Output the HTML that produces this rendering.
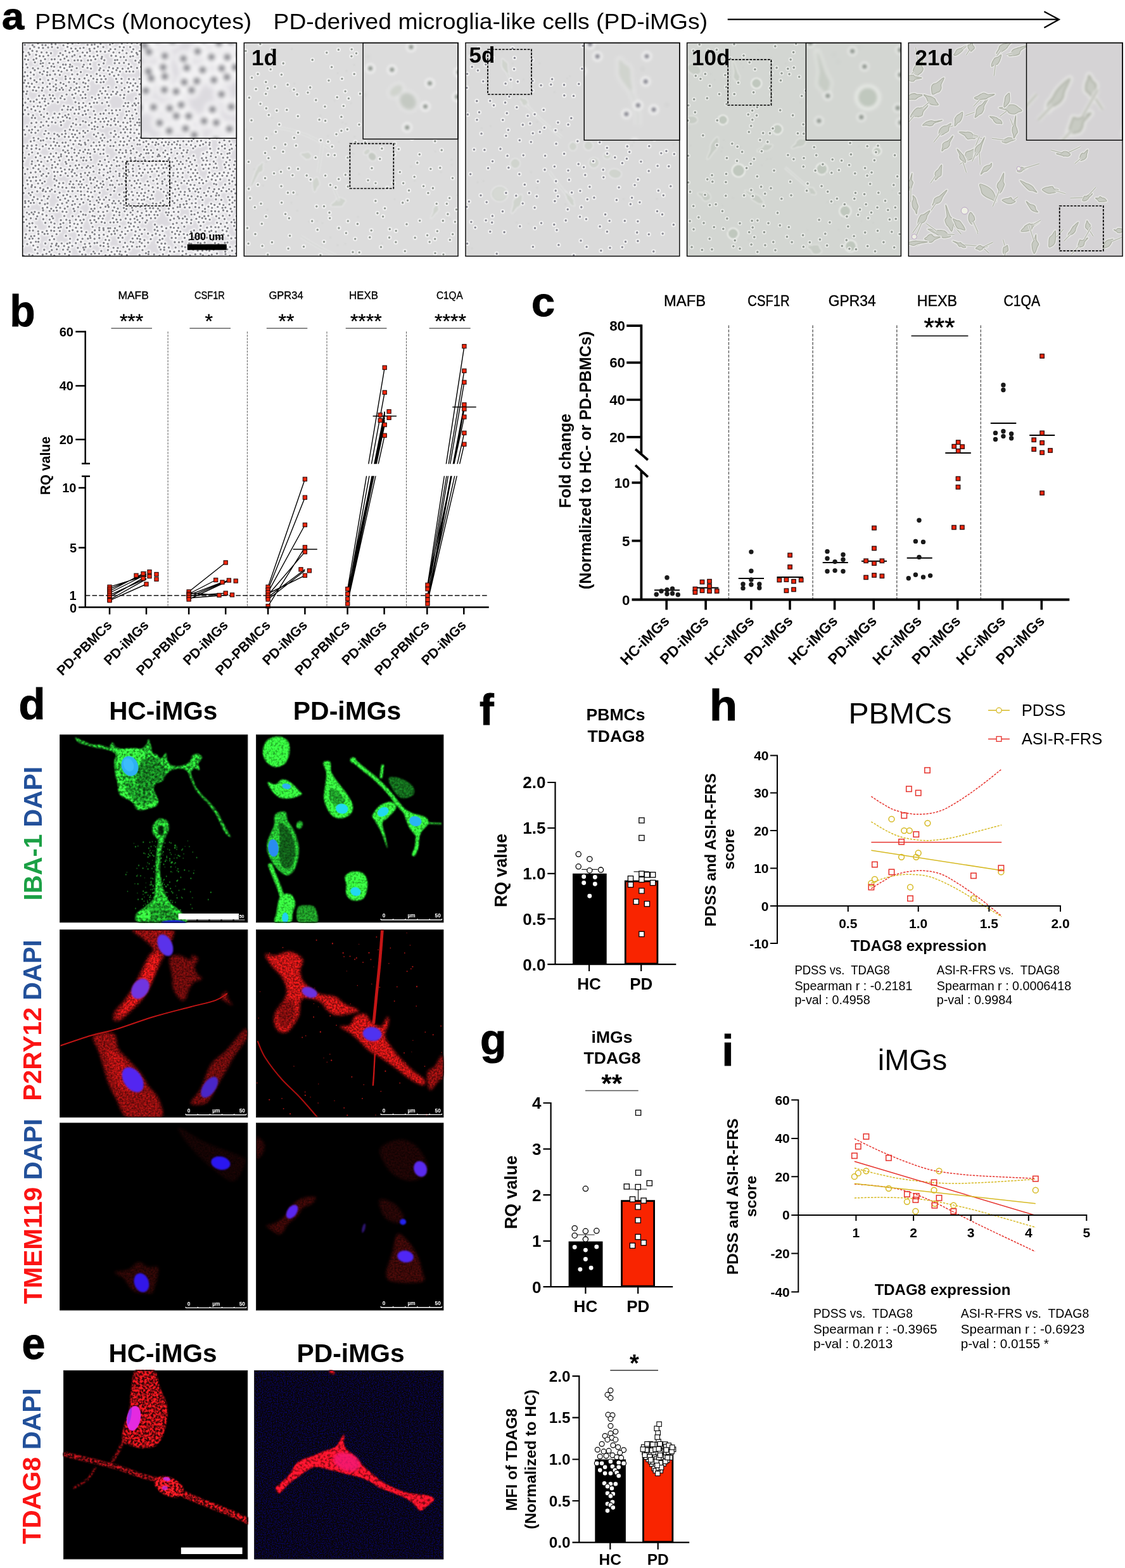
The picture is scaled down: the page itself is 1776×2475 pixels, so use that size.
<!DOCTYPE html>
<html lang="en"><head><meta charset="utf-8"><title>Figure</title>
<style>
html,body{margin:0;padding:0;background:#fff}
body{width:1776px;height:2475px;overflow:hidden}
svg{display:block;font-family:"Liberation Sans",sans-serif}
</style></head><body>
<svg width="1776" height="2475" viewBox="0 0 1776 2475">
<g id="pa"><defs><filter id="bl1" x="-5%" y="-5%" width="110%" height="110%"><feGaussianBlur stdDeviation="0.55"/></filter><filter id="bl2" x="-5%" y="-5%" width="110%" height="110%"><feGaussianBlur stdDeviation="0.8"/></filter><filter id="bl3" x="-5%" y="-5%" width="110%" height="110%"><feGaussianBlur stdDeviation="1.1"/></filter><filter id="bl4" x="-5%" y="-5%" width="110%" height="110%"><feGaussianBlur stdDeviation="0.7"/></filter><clipPath id="cpP"><rect x="0" y="0" width="337.8" height="336.8"/></clipPath></defs><defs><g id="mc0"><rect x="0" y="0" width="337.8" height="336.8" fill="#dcdadf"/><defs><path id="dp1" d="M3.6 3.1h0M15.8 3.6h0M24.3 0.9h0M31.3 3.4h0M36.4 3.6h0M45.9 2.2h0M52.1 2.1h0M64.5 4h0M71.5 0.9h0M78.7 1.3h0M88.1 0.2h0M102.6 3.1h0M109.3 3.1h0M113.8 2.5h0M123.2 1.7h0M138 2.8h0M142.2 0.6h0M156.8 1.1h0M165.4 -0.1h0M172.4 0.7h0M180.8 0.3h0M186.2 3.2h0M199.7 3.6h0M207.2 1.6h0M215.8 2.1h0M221.7 2.8h0M227.4 1.8h0M236.8 0.7h0M245.1 1.3h0M250.7 2.8h0M258.9 1h0M264.1 2.1h0M272.3 0.2h0M279.8 0h0M286.8 1.6h0M292.1 3h0M299.2 0h0M309.1 2.7h0M316.2 0h0M320.2 1.6h0M337.4 2.9h0M11.8 9.3h0M18.4 6.4h0M25.7 7.8h0M32.3 8.2h0M40.4 7.4h0M46.5 6.7h0M55.5 7.6h0M70.9 6.4h0M76.8 8.8h0M83.8 9.3h0M90.9 8.5h0M96.4 7.8h0M105.6 9.7h0M113.4 8.8h0M119 6.2h0M127.5 6.6h0M138.8 10h0M146.2 10h0M153.5 6.5h0M159.9 7h0M169.9 6.7h0M174.9 10.2h0M191.8 8.4h0M197.8 6.7h0M205.8 6.1h0M212.6 9.3h0M217 7.2h0M227.7 7h0M233.5 8.8h0M240.5 9.7h0M245.3 6.2h0M255.8 7.6h0M261.9 7.8h0M267.2 7.3h0M274 9.1h0M289.8 8.7h0M297.2 8.2h0M301.7 10h0M311.7 6.9h0M316 7.7h0M331.1 6.4h0M1 14.5h0M9.4 15.5h0M15.5 12.7h0M22.5 13.4h0M30 15.1h0M38.1 15.3h0M44.9 16.4h0M59.5 16.3h0M67.7 12.9h0M73.9 15.3h0M79.1 13.5h0M86.7 12.6h0M94.9 15.3h0M101.9 15.4h0M106.5 12.9h0M117.3 13.8h0M123.2 13.5h0M130.2 14.1h0M136.4 12.8h0M143.5 15.1h0M152.8 15.5h0M158 12.2h0M164.2 16.3h0M172.4 14.3h0M179.9 15.9h0M184.9 13h0M194.6 15.1h0M202 12.7h0M208.6 12.2h0M215.4 14.9h0M224 16.3h0M228.4 12.3h0M236 14.9h0M251.3 15h0M256.1 13h0M266.2 16.1h0M273.6 16h0M277.8 16.3h0M284.5 12.3h0M293.4 12.3h0M307.4 14.3h0M315.4 15.3h0M322.8 13.7h0M327.9 13.1h0M335 12.5h0M5.4 20.7h0M11.1 18.4h0M21.4 18.9h0M27.1 20.9h0M32.9 21.3h0M40.5 20h0M57 21h0M63.6 19.1h0M69.8 21.7h0M78.5 21.4h0M82.1 19.4h0M90.8 21.7h0M98.4 20.1h0M106.2 21.2h0M112.3 21.7h0M118.2 19.9h0M125.4 22.1h0M140.2 20.4h0M147.4 20.8h0M154.7 22.5h0M160 22.3h0M170.2 21.7h0M174.4 21h0M181.4 18.4h0M191.9 19.4h0M196.4 21.9h0M204.8 19.3h0M209.5 21.1h0M216.7 20h0M224.9 20.3h0M233.3 20.5h0M239.5 19h0M246.4 22.3h0M252 19.8h0M269.6 19.9h0M273.6 19.2h0M282 19.7h0M290.2 19.4h0M294.7 18.9h0M309.5 20.1h0M318.3 20.1h0M324.6 19.5h0M330.8 21.3h0M3.7 26h0M8.9 26.8h0M17.5 26.7h0M21.8 24.7h0M28.9 28.4h0M35.5 25.8h0M46 26.2h0M50.7 25.9h0M60 26.5h0M66.2 24.9h0M72.2 27.8h0M82.1 27.8h0M87.3 27.4h0M92.6 28.1h0M103.3 27.6h0M108.2 27.4h0M115 25.8h0M124.6 24.9h0M129.2 27.4h0M146 27.3h0M149.6 27h0M163.3 27.3h0M178.2 28.2h0M185.9 27.9h0M195.5 28.2h0M199.7 26.9h0M209.4 27.6h0M223 28.5h0M227.7 26.7h0M236.8 25.8h0M241.9 25h0M249.8 26.3h0M265.3 26h0M271.5 26.4h0M279.1 25h0M299.5 27.8h0M307.6 27.7h0M313.4 26.5h0M323.1 28.1h0M329.3 24.6h0M336.6 25.5h0M5.9 33.9h0M19.5 30.8h0M28.5 32.8h0M32.2 32h0M42.3 32h0M48.5 33h0M56.1 31.2h0M64 34.3h0M68.2 34.4h0M75.1 34.4h0M96.7 34.5h0M106.7 33.7h0M120.5 34.5h0M128 32.4h0M145.5 32.1h0M152.6 32h0M160.1 31.7h0M167.7 33.6h0M183.9 31.2h0M189.3 34.5h0M195.5 34h0M203.8 34.8h0M209.8 33h0M219.3 34.2h0M227.5 34.4h0M230.9 31.5h0M240.7 34.2h0M247.6 33.2h0M253.6 33.4h0M269.2 33.5h0M274.6 32.6h0M281.2 32.2h0M288.6 34.6h0M296.3 33.7h0M301.7 31.1h0M311.1 31h0M317 31.1h0M324.8 33.1h0M330.3 32h0M-0.1 39h0M7.8 39h0M16.4 40.1h0M24.5 40.5h0M31.7 37h0M39.6 39.8h0M45.6 37.2h0M50 37.8h0M59.6 38.4h0M65.9 40h0M74.4 38h0M78.4 37.3h0M85.5 40h0M95.1 37.8h0M102.5 39.5h0M108 40.6h0M122.6 40.2h0M136.6 38.7h0M142.9 40.4h0M150.1 39.8h0M157.9 40.9h0M166.7 40.4h0M171.5 37.9h0M180.8 39.7h0M187.2 37.9h0M192.7 40.1h0M200.9 38.1h0M207.2 39.3h0M213.6 40.4h0M228.1 39.2h0M237.5 38.7h0M242.8 39.8h0M248.5 39.6h0M257.5 37.5h0M263.4 40.3h0M270.9 38.1h0M278.6 40.9h0M287.8 37.1h0M294.8 40.2h0M301.7 40.9h0M313.7 40.5h0M320.8 37.1h0M327.7 37.3h0M335.5 40.3h0M4 46.4h0M12.8 46.7h0M19.3 43.2h0M27.4 46.9h0M33.6 44.8h0M39.1 46.4h0M48.7 44.3h0M56.7 43.8h0M61.4 45.5h0M70.2 43.3h0M77.2 43.2h0M92 46.2h0M121.2 43.2h0M128.2 43.5h0M135 44h0M141.4 46.3h0M148.2 43.2h0M153.8 45.3h0M163.8 45.3h0M168.9 45.3h0M174.7 45.3h0M188.8 44.1h0M203.3 44.2h0M213.4 43.8h0M216.6 46.8h0M227 43.6h0M233.5 45.2h0M238.6 46.7h0M247.4 45.4h0M252 43.6h0M259.4 45.4h0M269 44.6h0M274.4 43.5h0M283.8 43.8h0M291.1 46.1h0M297.9 44.7h0M319.8 46.8h0M323.2 45.4h0M330.1 44.3h0M2.5 53h0M7.8 52.1h0M17.8 50.3h0M31.4 49.5h0M38.8 51.2h0M43.4 50.6h0M51.3 49.7h0M58.8 50.6h0M67.8 53.1h0M78.3 49.8h0M86.6 49.7h0M101.7 50.8h0M108 52.4h0M117.1 49.2h0M122.4 51.8h0M128.9 52.5h0M137.5 49.6h0M144.5 52.2h0M151.4 50.7h0M194.5 53.1h0M200.6 51.4h0M208.1 50.6h0M217 52.3h0M227.7 49.9h0M237.4 50h0M245.2 50.9h0M252.1 53.2h0M259 53.2h0M270.5 50h0M278.7 50.4h0M295.2 50.4h0M299.2 52.4h0M306 49.5h0M315.8 52.6h0M326.7 49.3h0M335.2 49.8h0M3.9 59.1h0M12.7 56.1h0M18.7 59.2h0M27.8 57.6h0M40.5 58.9h0M47.4 56.9h0M53.2 59.2h0M68.1 57.1h0M75.2 56.4h0M81.6 56.8h0M89.6 57.1h0M97.9 56.1h0M104.2 59.4h0M111.8 56.5h0M117.7 57.8h0M124.4 57.3h0M131.3 57.1h0M147.8 56.9h0M156.2 56.8h0M167.9 57.1h0M175.4 57.6h0M184.6 57h0M191.3 58.2h0M197 56.3h0M203.1 55.5h0M209.7 56.5h0M217.8 59.1h0M239.8 55.3h0M245.2 56.4h0M274.7 56.2h0M283.6 57.7h0M289.5 58.9h0M294.9 58h0M303.1 55.8h0M309.3 55.6h0M318.7 58.8h0M325.9 58.7h0M2.2 63.1h0M9 63.6h0M14.7 64.6h0M22.1 61.9h0M32 63.2h0M43 64.6h0M52.5 65.6h0M60.1 63.2h0M64.7 65h0M73.3 62.2h0M81.4 61.8h0M85.4 64.4h0M95.8 62.7h0M99.5 64.2h0M117 62h0M123.4 62.5h0M128 61.9h0M149.5 61.9h0M156.4 63.7h0M165.4 62.7h0M170.4 63.8h0M178.2 63.8h0M186.5 64.8h0M193.6 65.2h0M202 61.7h0M209.1 65h0M214.6 62.8h0M236.6 64.9h0M244.1 63.7h0M250.5 62.8h0M256.8 65.2h0M278 62.9h0M287.9 65h0M293.2 63.4h0M301.8 64.4h0M307.7 64.9h0M322.8 63.3h0M327.6 65.5h0M6.3 68.7h0M11.1 69.4h0M18.6 69.8h0M25.5 70.5h0M32 71.1h0M39.1 69.4h0M48.8 68.9h0M53.3 71.3h0M61.9 71h0M68.7 67.9h0M76.2 71.2h0M85 71.1h0M89.7 70.1h0M97.8 69.8h0M103.4 68.7h0M127.1 71.2h0M135.3 70h0M147.9 70.3h0M161 71.3h0M168 69.9h0M174.5 67.7h0M181.5 69.1h0M191 67.8h0M197.5 69h0M203.4 70.6h0M209.4 71h0M218.1 69.3h0M224 70.7h0M234 71.6h0M239 70.3h0M245.8 70.7h0M254.4 70.8h0M262.6 68.9h0M268.5 70.1h0M276.7 70.7h0M284.1 69.2h0M291.6 68.9h0M298.1 70.4h0M305 70.4h0M319.8 69.8h0M324.8 68.8h0M1.6 76.9h0M7.3 76.5h0M16.5 74.8h0M21.5 75.7h0M30.6 75.4h0M43.7 74.1h0M52.3 75.2h0M58.6 73.9h0M63.9 74.1h0M74.2 74.9h0M81.7 74h0M88.7 76.1h0M95.5 77.5h0M103.2 74h0M122.6 76.3h0M130.8 76.1h0M142.7 77h0M149.5 77.7h0M156.8 74.5h0M167.1 77.1h0M173.2 75.1h0M180.5 74.9h0M188.4 77h0M216 74.9h0M223.9 76.1h0M227.8 75.6h0M237.3 75.9h0M245.4 75.7h0M251.9 75.2h0M265.8 76.5h0M269.9 75.8h0M278.1 74.1h0M285.4 77.8h0M292.6 76.4h0M298.7 74.1h0M308.5 74.2h0M319.6 73.9h0M329.8 74.7h0M334.3 76.3h0M6.1 80.6h0M26.1 83.7h0M33.5 83.1h0M42.8 82.4h0M48 83.1h0M62.2 83.8h0M69.5 81.5h0M78.5 81.9h0M83.7 80h0M91.7 82.5h0M99.1 81.7h0M119.8 82.2h0M125.3 80h0M133.7 81.3h0M140 81.8h0M147.7 80.7h0M154.4 82.5h0M160.6 82.2h0M184.6 81.3h0M190.1 82h0M195.8 82.8h0M206.2 81.9h0M211.5 84h0M217.7 83.1h0M225.9 83.6h0M230.9 79.9h0M241.7 80.8h0M246.6 81.9h0M255.7 82.3h0M262.9 81.7h0M268.2 82.6h0M281.9 80.1h0M298.4 84h0M305.7 83.6h0M308.8 82.7h0M319.6 81h0M325.4 82.7h0M331.8 80.1h0M-0.1 88.4h0M8.9 88.4h0M22.3 89.6h0M31.2 87.9h0M35.8 88.5h0M44.5 87.7h0M50.7 88h0M60 87.3h0M66.4 89h0M81.3 87.1h0M94.6 87.2h0M99.4 87h0M109.6 86.1h0M114.9 88.5h0M121 87h0M130.5 86.7h0M136.3 86.6h0M159.8 87.1h0M179.1 87.9h0M187.6 86.3h0M193.1 87.3h0M202.7 87.2h0M207.6 87.4h0M215.1 86.5h0M222.7 89.1h0M227.8 89.1h0M237.9 89h0M242.5 88.9h0M249.6 87.6h0M255.6 87.1h0M272.8 87.9h0M286.9 86.6h0M294.3 86.2h0M299.5 89.7h0M306.9 90.2h0M316.3 86.3h0M321.3 88.9h0M328.5 89.6h0M337.4 86.4h0M4.4 94.4h0M12.5 92.4h0M17.7 92.6h0M27.1 94.1h0M35 92.5h0M40.7 95.8h0M47.5 92.3h0M55.7 93.6h0M83.5 93.7h0M88.9 95.3h0M96 95h0M106 95.8h0M112.7 94.6h0M117.6 94.4h0M125.6 95.2h0M133.4 93.7h0M162.4 95.1h0M167 94.8h0M176.7 95.7h0M182.9 95.1h0M188.4 93h0M196.2 94.9h0M206.1 95h0M213.2 95.7h0M218.2 94.9h0M227.3 93h0M252.7 92.3h0M261.7 94.8h0M267.3 93.3h0M273.5 94.6h0M283.5 92.6h0M288.7 96h0M297.8 93h0M304.4 93.8h0M311 95.7h0M325 92.6h0M334.1 93h0M0.7 98.7h0M7.8 102h0M17.8 100.5h0M24 100h0M28.6 100.6h0M36.3 99h0M65.2 99.7h0M72 100.8h0M79.2 102.2h0M89.3 101.2h0M94.6 102h0M99.5 99.6h0M108.2 101.2h0M136.2 99.3h0M159.6 99.8h0M166.1 100.4h0M173.6 99.2h0M178.8 98.5h0M198.9 98.3h0M224 100.9h0M228.6 100h0M244 102h0M252.1 101.5h0M255.8 99.6h0M265 99h0M271 99.9h0M279.8 99.3h0M287.7 99.7h0M291.2 100.4h0M301.1 100.2h0M307.5 102h0M328 101h0M334.3 100.3h0M3.8 106.2h0M13.9 104.7h0M20.2 106.8h0M27.2 108.5h0M34 104.7h0M62.5 105.6h0M71.2 105.4h0M76.1 105.6h0M84.5 105.5h0M89.6 104.7h0M98.2 107.7h0M103.5 106.1h0M112.6 107.6h0M131.4 106.4h0M141 106.5h0M147.8 106.4h0M153.7 106h0M163.7 108.5h0M168.2 108h0M177.9 105.5h0M190.8 105.4h0M205.1 108.3h0M220.6 108h0M234.6 105.3h0M238.8 106.4h0M248.6 107.9h0M253 105h0M260.2 105.7h0M266.4 106.8h0M274.3 107.1h0M284.1 106.5h0M303.3 105.2h0M310.1 104.5h0M326.5 106.5h0M331.3 105h0M1.2 112.7h0M9.2 112.7h0M16.5 114.4h0M29.3 113.6h0M39 111.7h0M50.5 111.7h0M58.3 112.2h0M67.4 114.7h0M72.5 113.1h0M82.1 111.7h0M88.4 111.7h0M95.1 113.9h0M99.9 112.6h0M114.8 113.3h0M123 112.2h0M128 111.6h0M136.6 111.2h0M141.9 111.3h0M149.7 114h0M164.6 114.1h0M173 114.5h0M179.9 111.7h0M195.3 114.4h0M202.4 112.7h0M207.8 114.7h0M213.7 113.2h0M230 111.7h0M236.8 113.8h0M245.2 113.3h0M251 110.7h0M257.7 112.3h0M264.3 114h0M272.2 113.2h0M292.3 111.5h0M301 112.4h0M308 111.3h0M313.1 113.4h0M329.5 111.3h0M334 113.1h0M14.7 118.4h0M19.8 118.7h0M33.7 116.9h0M41.3 119.7h0M48 118.2h0M56.1 117.8h0M63.2 117h0M70 117.9h0M74.6 119.1h0M84.6 120.6h0M106.3 117.5h0M114.1 118.8h0M119.9 120.3h0M126.9 119.8h0M132 118.9h0M140 120.6h0M145.8 119.4h0M161.7 118.7h0M169.7 119.7h0M174.3 119.7h0M184 120.7h0M191.2 119.9h0M197.3 118.7h0M203.2 118.1h0M212.9 120.2h0M218.1 120h0M225.4 120.7h0M231 118.3h0M238.4 119.4h0M247.8 120.5h0M261.7 119.8h0M266.4 120h0M273.6 120.8h0M284.3 117.6h0M291.3 119.8h0M304.5 118.5h0M310.5 120.1h0M319.8 120.7h0M330.6 119h0M14.1 126.7h0M21.7 125.8h0M29.4 125.3h0M37.9 124.3h0M46.4 125.2h0M52 126h0M60.3 124.9h0M64.7 123.2h0M79.7 127h0M95.4 123.6h0M99.6 125.2h0M109.1 126.4h0M114.9 124.6h0M123.1 124.5h0M129 124.4h0M135.4 123.9h0M144.7 123.4h0M150.9 124.6h0M159 125.8h0M165.5 126.3h0M170.3 124.2h0M181 125.8h0M184.6 126h0M192.4 124.8h0M199.8 126.5h0M209.9 123.5h0M214.4 124.5h0M223.8 123.4h0M227.2 126.2h0M235.6 123.7h0M243.1 125.4h0M251.5 126h0M259.4 126h0M265.9 124.5h0M270.6 126.8h0M280.2 123.1h0M285.1 124.1h0M294.5 125.8h0M307 125.5h0M313.9 126.6h0M335.3 124.1h0M7 132h0M19.7 132.9h0M28.5 132.8h0M32.7 130.5h0M40.7 130.7h0M60.9 129.9h0M76.9 132.2h0M84.4 129.2h0M91.1 129.3h0M104.9 129.9h0M113.5 131.9h0M118.4 132.9h0M126.8 132.7h0M133.9 129.2h0M139.3 130.1h0M146.8 129.1h0M154.4 131.4h0M163 132.9h0M170.7 130.6h0M177.5 129.7h0M184.4 130.3h0M190.3 129.8h0M196.8 130.7h0M205.2 132.4h0M211 130.5h0M218.7 131h0M227.4 130.5h0M231.5 131.4h0M240.6 130.9h0M246.3 130.2h0M255.8 132h0M263 130.2h0M268.2 130.7h0M273.6 132.9h0M282.8 130.6h0M289.7 130.6h0M303.2 132.5h0M309.6 130.4h0M316.5 132.1h0M331.4 129.8h0M2.3 137.5h0M10.4 138.2h0M15.1 137h0M24.5 138.3h0M36.5 139h0M67.2 138.9h0M74.6 137h0M80.1 137.7h0M86.1 138.7h0M95.9 139.1h0M103 139h0M109.7 136h0M114.2 136.5h0M145.5 139.1h0M159.4 136.4h0M165.3 136.5h0M170.9 136.7h0M180.4 137.2h0M188.3 137.6h0M195.2 137.6h0M201.4 138.2h0M206.3 137.6h0M216.1 139.2h0M223.6 135.9h0M227.3 136h0M237.5 137.3h0M242.8 135.8h0M249.2 138.4h0M257.8 137.5h0M265.5 138.7h0M271.6 137.3h0M277.5 135.5h0M285.8 135.9h0M291.1 137h0M308.4 136.9h0M312.4 135.8h0M321.9 138h0M335.3 135.8h0M4.2 144.8h0M13.9 141.6h0M20.4 142.2h0M34.4 144h0M41.2 142.8h0M50.2 143.5h0M55.2 145.1h0M62.3 144.3h0M68 143.4h0M78.1 144h0M82.9 144.8h0M90 142.7h0M98.8 142h0M112.7 144.9h0M119.3 142.5h0M126.4 145.1h0M139.4 142.3h0M147.1 144.7h0M155.2 141.7h0M161.8 141.4h0M170.2 141.7h0M176.5 142.3h0M183.8 143.7h0M191.4 143.6h0M196.6 143.2h0M203.5 144.5h0M212.1 143.8h0M217.2 145.3h0M225 141.3h0M240.4 145.4h0M246.1 143h0M252.7 144.9h0M260.8 143h0M269.1 143h0M274.6 142.6h0M282.8 145.3h0M287.7 141.9h0M310.7 142.4h0M319.7 143.8h0M332.4 141.5h0M17.5 150h0M24.9 151.3h0M38.3 150.6h0M44.2 151h0M50 151.4h0M57.6 147.6h0M66.7 148.4h0M73 148.4h0M79.8 148.6h0M86.2 149.8h0M95.9 148.2h0M116.4 147.8h0M123.4 150.4h0M129.3 150h0M144.3 148.4h0M151.7 148.5h0M158.9 150.2h0M166 147.7h0M170.7 150.4h0M180.4 150.1h0M186.6 149.3h0M195 148h0M201.8 151.1h0M209 148.5h0M213.3 151.6h0M221.1 151h0M227.8 148.7h0M236.5 149.5h0M241.8 149.8h0M248.4 148.2h0M257.6 148.6h0M269.9 151.5h0M278.8 149h0M285.4 148.9h0M295.1 151.2h0M302 150h0M306.6 150.3h0M315.6 148.9h0M322.6 149.9h0M334.3 148h0M12.9 155.6h0M18.3 154.3h0M28.8 154.4h0M32.7 153.9h0M49.4 156.4h0M54.6 157.8h0M63.2 157.6h0M68.1 157.4h0M75.5 153.8h0M83.3 154.7h0M90.6 154.5h0M98.4 157.6h0M103.6 153.9h0M112.3 157.3h0M120.9 156.8h0M125.7 154.3h0M134.5 156.2h0M138.9 153.7h0M146.5 157.2h0M154.6 155.6h0M160.5 156.1h0M168.4 154.6h0M176 153.7h0M184.5 154.1h0M190.9 156.8h0M195.3 155.3h0M205.2 156.8h0M210.9 157.1h0M220 157.1h0M226 156.6h0M231.3 157h0M239.5 156.8h0M245.1 155.3h0M253.8 155.3h0M262.3 155.6h0M267 154.9h0M275.8 155.4h0M281.9 154.6h0M289.4 157.2h0M295.5 157.7h0M310.9 157.3h0M318.4 153.8h0M326.5 155.4h0M1.7 163.1h0M7.8 162.4h0M14.5 162.4h0M21.7 161.5h0M31.9 163.3h0M36.9 160.8h0M44.7 162.1h0M52 162.2h0M57.7 162.9h0M66.4 163.6h0M72.2 162.2h0M80.2 160.2h0M89.1 159.8h0M92.3 161.2h0M99.3 160.4h0M108.4 162.6h0M116.5 162.5h0M121.9 161.8h0M129 161.9h0M138.7 162.9h0M143.6 162.9h0M152.9 161.3h0M159.2 161.9h0M165 160.4h0M172.6 162.8h0M181.5 160.4h0M185.3 160.5h0M195.4 163.8h0M198.9 159.9h0M209.8 161.2h0M214.5 159.9h0M223.1 162.2h0M230 160.5h0M235.9 160.3h0M243.6 160.4h0M248.7 161.3h0M258.7 160.5h0M266 161.3h0M272.7 163.4h0M280.2 161.9h0M285.1 160.2h0M294.9 161.1h0M314.9 163.1h0M319.4 161.2h0M329 160.5h0M337.3 162.1h0M6.7 166.3h0M14.1 167.6h0M21.5 166.6h0M26.8 168h0M41.8 167h0M47.9 167h0M64.1 169.6h0M71.4 170h0M77.5 166.3h0M82 168.5h0M90.6 169.8h0M98.7 168.6h0M104.2 168.9h0M112.9 168h0M119.5 168.3h0M127.7 168.6h0M147.7 169.3h0M154.3 168.8h0M163.2 169.6h0M170.6 170.1h0M175 167.3h0M191.8 168.6h0M196.8 168.8h0M202.9 169.6h0M212.7 168.6h0M225.4 170h0M234.7 168.3h0M240.7 166h0M248.6 166.1h0M254.2 169.5h0M260.5 169.5h0M269.3 166.5h0M296.2 167.2h0M309.4 167.2h0M319.4 166.8h0M326.8 168.9h0M330.4 167.2h0M0.2 173.4h0M10.1 176.1h0M15.1 173h0M24.2 174.4h0M44.5 175.2h0M53 174.2h0M60.8 176h0M67.4 172.7h0M72.9 174h0M81.9 173.5h0M88.6 174.2h0M96 172.1h0M102.7 174.2h0M106.8 174.9h0M114 172.1h0M122.9 175.3h0M127.8 175h0M152.4 173.2h0M157.9 174h0M163.5 173h0M171.3 174.4h0M180.1 172.9h0M186.9 176h0M195.3 174.3h0M198.8 174.1h0M206.1 173.8h0M214.9 176.3h0M222.2 173.4h0M228.9 175.8h0M234.9 173.3h0M244.2 174.6h0M251.3 174.1h0M259.4 173.2h0M285.2 175h0M291.3 172.6h0M298.2 174.1h0M308.1 173.3h0M313.8 175.5h0M323.5 175h0M326.8 174.1h0M3.5 181.6h0M20.9 180.7h0M28.2 178.3h0M35.1 180.6h0M41.9 180.4h0M48.9 179.3h0M56.9 180.9h0M60.7 179.2h0M69.8 179.1h0M77.5 180.2h0M85.6 178.3h0M92.4 181.3h0M96.8 181h0M106.8 180.5h0M134.3 178.8h0M148.3 180.9h0M154.7 181.6h0M161.4 179.7h0M170.3 181.7h0M177.6 181.4h0M184.8 178.5h0M191.2 181h0M205 180h0M213.3 179.3h0M216.5 178.6h0M224.9 179.8h0M231.7 181.9h0M241.3 182.2h0M253.3 179.4h0M262.2 182.1h0M270 178.4h0M283.2 182.1h0M289.9 181.4h0M297.3 179h0M305 180.5h0M316.6 181.3h0M323.5 181.2h0M0.9 187h0M15 187.1h0M24 186.1h0M29.5 187.9h0M39.5 186.6h0M45.3 184.5h0M50.8 188h0M58.5 185.7h0M68 188h0M73 184.9h0M78.8 184.7h0M85.4 185.9h0M95.7 185.7h0M100.6 185.7h0M108.2 184.7h0M122.3 186.9h0M130 184.6h0M136 188h0M144.3 185h0M149.6 187.2h0M158 187.5h0M164.9 188.1h0M171.2 185.2h0M178.3 185.8h0M193.2 185.2h0M200.5 187h0M206.2 186h0M216.5 186.1h0M223.1 186.9h0M230.4 184.6h0M236.4 188h0M244 186.3h0M249.6 187.9h0M258.8 186.1h0M264.7 188.2h0M272.1 185.2h0M285.3 185.5h0M291.2 186h0M301.8 187.4h0M321.6 188.4h0M327.2 185h0M335.6 187h0M14.5 191.3h0M20.4 194h0M26.1 192.7h0M33.2 194.4h0M46.8 193h0M55.6 191.6h0M69.2 190.8h0M75.3 194.3h0M83.8 193.7h0M89.2 192.7h0M103.2 194.3h0M111.3 194.5h0M120 191.8h0M125.1 192.9h0M132.7 194.4h0M140.4 193.1h0M148.6 194.4h0M152.7 193.8h0M167 191.3h0M174.6 193.2h0M183.5 194.5h0M190.3 191h0M196.9 193.7h0M204.5 193.8h0M210.7 192.4h0M219.6 192.5h0M225.3 191.8h0M230.7 194.4h0M238.8 194.2h0M246.9 191.5h0M252.8 191.3h0M262.7 194.5h0M267.4 191.9h0M274.7 193.9h0M283.6 192.6h0M289.3 192.4h0M295.6 191.8h0M304.9 190.7h0M318.7 192.2h0M325.8 193.3h0M334.1 192.7h0M0.8 197.3h0M7.8 199.4h0M17 197.7h0M25.2 199.4h0M38.1 198.7h0M46.4 197.4h0M52.2 196.7h0M60.3 197.8h0M66.7 200h0M73.7 199.8h0M79 200.4h0M86.2 198.2h0M93.8 197h0M100.9 196.9h0M107.1 197h0M121.6 200.3h0M128.5 199.9h0M138.2 198.2h0M158.7 198.3h0M166.7 200.5h0M173.8 198.6h0M185.1 198.9h0M192.7 199.9h0M201.8 199.1h0M208.2 198.6h0M214.8 197.7h0M222.3 197.6h0M227.3 197.5h0M234.4 196.8h0M243.8 199.4h0M250.1 199.1h0M256.6 196.9h0M265.8 199.6h0M272.8 200.7h0M285.6 198.9h0M293.8 198.4h0M302.1 197h0M306.5 197.4h0M320.2 196.9h0M327.3 199.2h0M335.6 199h0M3.9 206.9h0M13 204.9h0M20.5 204.2h0M27.8 203.2h0M32.6 207h0M40.9 205.9h0M49.9 203.7h0M55.3 203.9h0M61.8 203h0M67.9 205.9h0M77.5 203.6h0M82.3 205.8h0M92 206.9h0M98.7 205.4h0M105.2 204.9h0M112.2 203.3h0M121.1 205.4h0M134.5 204.9h0M138.5 203.2h0M147.3 203h0M153 206.7h0M160.6 206.2h0M168.1 203.9h0M174.6 203h0M183.9 205.7h0M189.9 205.2h0M198.1 204.7h0M204.3 203.3h0M212.2 202.9h0M220.6 206.4h0M223.9 204.4h0M231.7 204.9h0M238.3 205.5h0M245.5 205h0M253.1 205.4h0M261.5 204.4h0M269.3 205.6h0M276 205.5h0M294.8 204.9h0M303.5 206.6h0M310.9 205.9h0M318 204.6h0M324.6 205.4h0M332.5 203h0M10.8 212.6h0M16.5 212.1h0M21.3 211.8h0M30 209.6h0M37.8 210.7h0M50.9 210.4h0M60.1 209h0M71.5 210h0M78.5 210.7h0M85.4 209.3h0M92.5 211.6h0M102.8 209.1h0M107 213.1h0M114.5 212.9h0M127.8 209.1h0M137 212.9h0M143.2 211h0M152.9 210.1h0M159 210.5h0M165.5 209.8h0M174.4 209.4h0M180 210.2h0M187.4 209.6h0M201.7 211.5h0M215 209.7h0M229.8 209.7h0M237.7 209.5h0M244.9 211.2h0M252.3 212.2h0M265.6 211.6h0M272.7 210.3h0M279.4 213h0M292.9 211.7h0M300 209.7h0M307.5 210.7h0M315.4 209.7h0M322.7 210.2h0M330.3 209h0M334.3 213.1h0M7.2 217.2h0M13.1 218.2h0M21.3 217.6h0M27.7 216.9h0M35 219h0M50.2 215.2h0M53.6 217.4h0M75.8 218.9h0M85.3 217.8h0M91 218.9h0M96.2 216h0M106.9 215.8h0M111.9 216.1h0M117.8 218.5h0M126.7 218.7h0M133 215.2h0M140.2 217.7h0M149.3 217.5h0M162.1 217.9h0M169.2 217.7h0M176.9 218.2h0M182.4 216.6h0M197.4 218.8h0M206.4 217.5h0M211.9 215.2h0M220.6 218.7h0M224.4 215.4h0M231.6 218.7h0M241.4 219h0M255.2 217.9h0M262.3 217.7h0M267.9 216.3h0M274.2 215.9h0M283.1 216.3h0M290.1 218.1h0M298.6 215.7h0M305 216.8h0M312.1 215.4h0M326.1 216.7h0M331.3 218.6h0M0.4 225.2h0M8.3 223.1h0M14.8 224.6h0M24.5 222h0M31.1 221.7h0M51 225.1h0M58 221.7h0M64.2 221.3h0M74.2 222.9h0M80.1 223.3h0M88.8 223.4h0M93.4 223.4h0M101.2 225h0M108.3 221.6h0M117.1 225.3h0M123.2 222.2h0M127.8 223.8h0M138.3 224.4h0M142.2 224.4h0M152.4 223.6h0M156.8 222.8h0M172.1 225.2h0M180.1 221.9h0M186 222h0M193.4 224.3h0M199.2 225.1h0M213 222.3h0M220.7 222.4h0M227.5 225.2h0M235.3 221.3h0M244.7 224.8h0M250.7 221.3h0M259.7 222h0M265.3 224.1h0M271.4 224.5h0M279 221.3h0M285 221.6h0M302.3 222.5h0M305.8 223.5h0M319.8 223.6h0M326.6 222.1h0M336.3 224.1h0M4.5 229.5h0M14.1 227.4h0M19.9 227.8h0M27.9 229.2h0M32.9 231.4h0M39.8 229.1h0M46.1 231.5h0M56.5 227.4h0M63 228.2h0M69.1 228.9h0M78.1 228.2h0M81.6 228.6h0M91.5 228.2h0M97 228.4h0M103.9 230h0M113.8 228.2h0M120.2 228.9h0M125.4 227.8h0M134.4 231.5h0M145.7 228.4h0M176.7 229h0M184.5 227.9h0M188.7 231h0M205.5 228.1h0M213.5 228.9h0M218.5 231h0M234.5 228.9h0M241 231.1h0M246.4 230.1h0M262.5 230.7h0M269.5 229.8h0M275.7 231.1h0M280.6 230h0M294.6 229.1h0M302.7 231.2h0M310 230.8h0M316.6 228.7h0M326 231h0M333.6 231h0M1.6 237.2h0M9.9 237.5h0M15.2 235.8h0M23.2 234.4h0M31.8 233.6h0M36.6 234.8h0M43.3 234.2h0M51.2 234.9h0M58.5 236.7h0M72.3 234.3h0M78.8 234.2h0M87.2 233.8h0M92.2 234.7h0M102.7 234.8h0M108.2 236h0M114 234.3h0M121.7 236.7h0M144.6 233.9h0M160.1 236.2h0M164.9 234.1h0M172.5 235.3h0M180.9 236.8h0M187.3 237.4h0M193.3 236.6h0M199 233.6h0M206.9 235.1h0M222.9 235.2h0M229.2 236.7h0M237.2 237.3h0M249.5 235.1h0M256.2 235.3h0M263.9 233.9h0M272.7 234.5h0M277.7 235.8h0M286.7 236.8h0M292.7 234.6h0M301 235h0M306.7 237.3h0M314.1 233.8h0M321.8 234.2h0M329.8 234.4h0M336 237.7h0M12.7 240.4h0M18 243.4h0M33.7 242.2h0M41.4 242.5h0M56.1 243.9h0M64.3 240.9h0M70.2 239.9h0M75.4 242.8h0M83.9 242.1h0M92.5 240.1h0M97.8 240.2h0M104.3 242.3h0M110.4 243.2h0M120.1 243.8h0M131.7 243.9h0M139.1 239.9h0M152.9 239.7h0M160.8 243.2h0M167.8 239.7h0M174.5 240.7h0M183.8 241.5h0M191.5 241.7h0M197.3 243.8h0M204.1 240.4h0M226.8 241.3h0M231.5 239.7h0M240.9 242.1h0M247.1 239.9h0M255.6 239.8h0M261.2 241.4h0M266.8 242.3h0M276.5 242.4h0M281.6 243.5h0M290 241.1h0M297.6 242.1h0M305.5 241.2h0M310.1 240.7h0M324.5 243.3h0M331.3 243.7h0M4.1 249.9h0M9.7 249.9h0M16 248.2h0M23.7 246.7h0M30.4 248.5h0M39.5 246h0M59.4 247.8h0M67.2 245.9h0M72.2 249.1h0M79.5 249.8h0M86.5 246.8h0M93.1 246.7h0M103.3 247.5h0M106.5 250h0M117.2 248.9h0M122 247.3h0M128.5 247.6h0M137 248h0M144 249.6h0M152.1 249.7h0M159.1 249.4h0M165.8 246.9h0M173.7 247.8h0M181.4 247.2h0M188.2 248h0M192 247.4h0M201.8 246.6h0M206 246h0M221.6 249.4h0M228.3 245.9h0M236.9 249.7h0M244.5 248.4h0M251 246.3h0M258.5 249.8h0M263.4 247.2h0M273.4 246.5h0M284.1 248h0M305.3 247.1h0M313.8 247.9h0M326.9 248.2h0M335.1 249h0M4.4 252.8h0M13 252.8h0M17.9 252.5h0M27.3 253.2h0M35.4 254.6h0M39.5 253.4h0M55.5 255.6h0M62.5 253.7h0M69.6 252.3h0M78.3 255.9h0M82.6 254.5h0M90.5 254.9h0M96 252.2h0M106.6 255h0M113.3 255.8h0M119.9 252.2h0M125.6 253.9h0M134.6 256.2h0M141.7 253.3h0M146.5 253.5h0M154.8 253.3h0M160.2 255.8h0M167.7 254.9h0M183.5 253.5h0M189.8 254h0M195.5 255.6h0M205.8 253.3h0M211.1 254h0M217.7 252.6h0M223.6 255.7h0M231.7 252.8h0M239.6 252.9h0M248.7 255.6h0M254.3 255.1h0M259.2 254.2h0M267.3 253.3h0M273.4 253h0M283.9 256.1h0M297.7 254h0M303.1 255.9h0M311.2 254.4h0M317.1 256h0M326.5 255h0M331.4 252.4h0M3.2 259.2h0M9.4 258.5h0M31.8 260.8h0M39 259.8h0M45.2 261.9h0M53.1 260h0M59.4 260.4h0M66.7 261.7h0M71.2 258.5h0M80.5 261.9h0M87.6 259.3h0M108.5 262.1h0M113.7 261.6h0M123.1 260h0M131 258.7h0M135.9 259.1h0M144.7 259.7h0M150.4 261.7h0M159.8 260.7h0M163.9 262.3h0M172.9 260.4h0M179 258.3h0M185.9 258.6h0M193.9 261.7h0M201.2 260.9h0M206.2 261.2h0M213.8 261.7h0M230.8 261.9h0M237.7 261.1h0M244.7 259.3h0M248.6 259h0M256.2 259.8h0M263.6 259.9h0M272.8 259.1h0M278.7 260.1h0M288 262.1h0M293.4 258.7h0M299.1 260.5h0M308.1 259h0M315.5 260.5h0M320.3 260h0M328.5 261.9h0M334.7 259h0M6.9 268h0M14.3 267.8h0M19.3 266.8h0M25.6 268.3h0M32.4 264.4h0M42.7 265.5h0M49 265.1h0M54.2 264.8h0M63.2 266.4h0M69.3 267h0M82 265.7h0M92 266.5h0M106.3 266.9h0M111.3 265.3h0M119.7 266.6h0M127.3 267h0M133.6 265.5h0M142.4 264.9h0M148 266.4h0M153 267.6h0M161.2 266h0M170.5 267.8h0M174 264.5h0M181.7 266.3h0M188.2 268.5h0M195.5 265.7h0M202.9 266.6h0M210.7 266.4h0M216.6 264.6h0M226.5 267.7h0M230.7 267.9h0M238.9 266.8h0M246 266.9h0M266.3 265.6h0M276.8 268.1h0M284.2 265.9h0M288.3 266.9h0M298.2 265.6h0M304 265.9h0M309.7 266.3h0M316.9 264.4h0M323 265.7h0M330.4 266.4h0M1.7 274.4h0M10.4 270.5h0M17.2 270.6h0M23.2 273.8h0M31.4 270.7h0M37.8 272.6h0M46.5 273.9h0M65.9 273.3h0M79 273.6h0M88.6 273.9h0M95.7 271.2h0M99.6 271.6h0M110.4 273.1h0M113.7 273.8h0M122.5 273.4h0M128.5 272.6h0M144.4 272.2h0M152.9 272h0M165.5 271.7h0M173.6 271.5h0M180.1 274.3h0M185.9 273.2h0M195.5 272.2h0M199.8 271.7h0M208.2 271.5h0M213.2 271.9h0M229 271.8h0M235.2 272.5h0M245.3 274.3h0M256.5 274.1h0M266.6 271h0M271.4 270.8h0M279.3 274.6h0M287 273.6h0M293.3 273.2h0M299 270.6h0M305.8 273.6h0M316.2 273.2h0M326.8 272.3h0M337.8 273.5h0M5.9 279h0M13 276.9h0M21.4 277.9h0M32.7 278.4h0M42.8 279h0M48.2 277h0M60.5 279.9h0M69.1 279.3h0M74.5 280.5h0M84.2 279.1h0M91.2 280.2h0M96.5 279.2h0M106.9 280.2h0M113.4 279.6h0M120 277.2h0M126.6 277.5h0M142.5 276.8h0M148.2 278.9h0M154.8 279.3h0M162.8 277.4h0M170.2 278.4h0M176.7 277.5h0M181.4 279.5h0M189.4 276.9h0M196.4 280.2h0M202.6 276.9h0M209.4 276.6h0M233.3 279.6h0M239.1 277.4h0M247.2 277.2h0M252.8 277.4h0M259.5 278.4h0M266.5 279.4h0M274.3 277.8h0M283.6 276.7h0M289.1 277.7h0M295.5 279h0M310.3 276.8h0M318.9 278.1h0M333.7 279.3h0M1.9 283h0M10.7 285.3h0M15.5 284.6h0M36 284.1h0M45.1 283.4h0M50.5 285.3h0M59.8 286.1h0M64.4 284.3h0M74.9 284h0M81.6 285.5h0M87 286.3h0M93.6 284.4h0M108.6 284.5h0M116.2 282.9h0M124.8 282.9h0M129.8 284.2h0M138.6 283.5h0M143.9 283.4h0M149.8 283h0M167.2 283.8h0M171 285.4h0M177.5 283.3h0M184.8 283.1h0M194.2 283.7h0M208.9 286.9h0M237.6 285.9h0M243.4 284.3h0M251.5 284.5h0M259.2 283.3h0M265.9 284.7h0M278.1 283.1h0M285.7 283h0M307 284h0M313 285.7h0M322.5 284.2h0M329.8 283.1h0M335.1 283.6h0M7.1 289.2h0M11.5 291.4h0M20.5 290.6h0M41.9 290.2h0M50.2 291.3h0M56.7 292h0M60.4 290.9h0M69.9 292h0M74.9 289.4h0M84.3 291.8h0M92.5 292h0M110.6 290.5h0M121.2 292h0M127.6 292.7h0M135.2 292.6h0M138.4 292.5h0M145.9 292.7h0M153.4 289.8h0M162.3 291.8h0M168.6 290.2h0M175.7 289.6h0M182.4 291h0M212.2 290.7h0M219.7 290.3h0M226.8 292.7h0M233.8 291.2h0M238.9 292h0M245.8 292.1h0M255.3 290.1h0M281.2 288.9h0M291.3 291.6h0M297.6 290.4h0M304.5 291h0M309.5 291.2h0M319.6 290.2h0M324 292.7h0M334 289.1h0M11.1 296.4h0M16.5 296.3h0M24.6 297.5h0M31.3 298.8h0M38.3 296.9h0M45.2 296.4h0M49.9 297h0M58.8 297h0M73.9 297h0M79.1 295.6h0M86.7 297.6h0M93.2 297.7h0M100.6 298.8h0M110.1 299.2h0M114.1 295.9h0M121.2 295.7h0M128 295.5h0M136.5 297.6h0M144.3 297.2h0M149.4 296.1h0M156.8 298.3h0M166.1 297h0M172.1 295.5h0M178.5 297.6h0M185.3 295.2h0M192.6 295h0M208.6 295.2h0M213.2 296.6h0M221.1 297h0M236.1 298.6h0M244 296.8h0M249.1 298h0M266.1 298.2h0M270.7 296.2h0M280.4 295.1h0M288 296.8h0M294.8 298.1h0M298.1 296.6h0M305.2 298.1h0M315.7 295.9h0M322.2 297.4h0M336.7 295.2h0M5.5 302.2h0M13.5 305.4h0M18.6 304.8h0M25.1 301.6h0M34.7 301.7h0M39.7 301.5h0M46.7 305.1h0M53.7 302h0M68.5 304.6h0M88.9 303.5h0M98.8 303.3h0M106.4 304.8h0M113.7 302.1h0M120.9 303.5h0M128.2 302.9h0M134.1 305.3h0M140.4 302.1h0M145.8 301.4h0M154.4 303.7h0M162.2 301.8h0M177.6 303.7h0M183.8 304.8h0M188.3 301.6h0M198.1 301.2h0M204.8 303.7h0M210.4 301.4h0M216.5 303.3h0M224.1 304.6h0M240.9 301.6h0M247.1 302.7h0M254.5 301.8h0M260.2 303.2h0M267.4 305.2h0M276 304.9h0M280.5 302h0M296.2 304.1h0M304.6 304.3h0M310 304.3h0M317.1 302.7h0M324.6 304.3h0M4 307.6h0M10.9 309.4h0M15.8 309h0M25.4 309h0M42.8 311.1h0M49.8 309.9h0M75 309.3h0M87 310.6h0M94.6 309.3h0M103.2 309.2h0M107.2 308h0M113.6 309.4h0M121.3 308.2h0M131.1 311h0M136.7 311.5h0M151.3 307.9h0M157.9 307.7h0M173.7 308.9h0M181.1 308.9h0M185.7 309.9h0M192.4 311.4h0M202.4 309.8h0M216.6 311.2h0M220.9 309.3h0M235.5 307.9h0M241.8 308h0M255.9 307.9h0M263 310.9h0M270.8 307.7h0M279.5 308.5h0M284.2 308.1h0M291.1 307.7h0M299.9 311.4h0M307.9 308h0M313.3 308.4h0M329.5 308.6h0M336.1 308h0M7.4 317.6h0M13.2 315.2h0M21.1 314h0M25 314.1h0M36 316.6h0M46.3 317h0M53.8 316.8h0M61.7 316.5h0M70.6 317h0M74.5 315.7h0M84.1 316.1h0M92.2 314.2h0M98.4 317.5h0M105.6 316.7h0M113.6 316.1h0M117.7 315.6h0M128.2 315.8h0M134.6 317.3h0M153.7 314.3h0M161.8 315.7h0M170.7 314h0M174.6 315h0M184.8 314h0M188.2 316.1h0M198.2 315.4h0M213.3 314.9h0M219.4 316.9h0M225.1 316.9h0M240.3 314.7h0M246.9 314.8h0M252.2 313.9h0M263.1 316.5h0M266.3 317h0M276.9 315.5h0M281 316.4h0M287.5 315.3h0M303.8 316h0M309.3 317.5h0M319.4 315.7h0M323.5 315.2h0M0.1 321h0M17 320h0M24.1 322.5h0M44.9 321.3h0M52.8 319.7h0M56.7 321.1h0M65.6 320.6h0M72.7 322.6h0M78.5 320.5h0M87.3 323.6h0M95.9 323.2h0M99.5 322.4h0M107 321.4h0M123 320.2h0M127.9 321h0M135.5 321.7h0M143.6 323.5h0M150.4 323.8h0M159.2 322.3h0M165.4 321.4h0M172.8 321.2h0M180.5 322.2h0M184.8 321.5h0M192.9 321.2h0M215.9 322.4h0M223.6 322.8h0M230.9 323.2h0M241.6 323.1h0M251.7 321.4h0M256.7 322.5h0M271.5 321.7h0M279 321h0M285.9 321h0M294 322.5h0M302.3 320h0M306.6 323.7h0M314.3 323.7h0M321.2 322.3h0M327.5 322.3h0M336.6 321.1h0M19.7 326.6h0M34.2 326.6h0M42.5 329.8h0M46.2 327.2h0M54.1 326h0M64 326.5h0M71.3 326.3h0M74.6 329.8h0M90.4 329.6h0M97.2 326.6h0M112 329.5h0M124.3 328.6h0M134.8 327.2h0M140.5 330h0M149.2 328.6h0M154.1 329.3h0M162.5 329.7h0M168.5 326.2h0M189.4 327.2h0M199 329.8h0M218 326.3h0M223.6 326.8h0M232.8 329.1h0M239.4 329.8h0M246.9 328.7h0M252.7 328.9h0M262.7 326h0M269.4 326.4h0M276.5 328h0M283.9 327.9h0M290.4 327.1h0M295 328.1h0M301.7 326.4h0M320 329.7h0M323.2 325.9h0M330.8 328.2h0M1.6 336h0M10.5 334.5h0M15.7 335.6h0M23.7 332.3h0M31.8 334.4h0M37.7 333h0M45 334.2h0M50.1 335.8h0M58.2 333.4h0M67 333h0M73.4 335.2h0M94.1 334h0M99.5 334.4h0M108.5 333.5h0M114.2 332.5h0M120.8 333h0M131 335.4h0M137.7 335.4h0M145.4 333.8h0M153 333.5h0M156.5 334.7h0M164.8 335.1h0M184.7 334.9h0M194.8 332.1h0M198.8 333.7h0M207.6 334.2h0M216.3 336.1h0M221.7 333.9h0M230.9 335.3h0M252.3 335.3h0M258.2 333.1h0M264.4 335.7h0M272.7 333.9h0M280.9 333.4h0M284.7 335.3h0M294.2 335.9h0M298.7 334.3h0M306.9 332.6h0M320.4 333.5h0M327.3 336.1h0M336.8 332.6h0" stroke-linecap="round" fill="none"/></defs><use href="#dp1" stroke="#ffffff" stroke-width="7.4" opacity="0.8" filter="url(#bl3)"/><use href="#dp1" stroke="#84848a" stroke-width="3.4" opacity="1" filter="url(#bl4)"/></g><clipPath id="ci0"><rect x="222.9" y="67.6" width="150.5" height="150.7"/></clipPath><clipPath id="cm0"><rect x="35.6" y="67.6" width="337.8" height="336.8"/></clipPath></defs><g clip-path="url(#cm0)"><use href="#mc0" x="35.6" y="67.6"/></g><g clip-path="url(#ci0)"><g transform="translate(-316 -549.2) scale(3.300)" filter="url(#bl2)"><use href="#mc0"/></g></g><rect x="222.9" y="67.6" width="150.5" height="150.7" fill="none" stroke="#000" stroke-width="1.4"/><rect x="35.6" y="67.6" width="337.8" height="336.8" fill="none" stroke="#000" stroke-width="1.4"/><rect x="199" y="254.5" width="69" height="70.5" fill="none" stroke="#000" stroke-width="1.7" stroke-dasharray="3.8 1.9"/><defs><g id="mc1"><rect x="0" y="0" width="337.8" height="336.8" fill="#dcdcdc"/><g filter="url(#bl3)"><path d="M11.5 226.1C10.9 225.8 17.5 207.6 19.1 203.3C20.7 199 20.5 201.7 21 200.4C21.6 199.1 21.9 196.7 22.6 195.6C23.4 194.4 24.4 194.5 25.6 193.5C26.7 192.5 28.8 189.4 29.3 189.6C29.9 189.8 28.8 193.1 28.7 194.9C28.6 196.6 29 198.8 28.8 200.2C28.5 201.5 28 202.2 27 203.1C26 203.9 25.3 201.3 22.7 205.2C20.2 209 12.1 226.5 11.5 226.1Z" fill="none" stroke="#e9e9e9" stroke-width="4" stroke-linejoin="round"/><path d="M11.5 226.1C10.9 225.8 17.5 207.6 19.1 203.3C20.7 199 20.5 201.7 21 200.4C21.6 199.1 21.9 196.7 22.6 195.6C23.4 194.4 24.4 194.5 25.6 193.5C26.7 192.5 28.8 189.4 29.3 189.6C29.9 189.8 28.8 193.1 28.7 194.9C28.6 196.6 29 198.8 28.8 200.2C28.5 201.5 28 202.2 27 203.1C26 203.9 25.3 201.3 22.7 205.2C20.2 209 12.1 226.5 11.5 226.1Z" fill="#d0d4ce" stroke="#c2c6c0" stroke-width=".8" stroke-linejoin="round"/><path d="M90.5 175.7C90.5 174.8 94.5 175.1 95.9 174.8C97.2 174.6 97.6 174.3 98.5 174.2C99.5 174 100.8 173.6 101.6 173.7C102.4 173.9 102.4 174.3 103.1 175.1C103.7 175.9 105.6 177.3 105.5 178.5C105.5 179.7 103.6 181.8 102.7 182.4C101.8 183.1 101 182.3 100.2 182.3C99.5 182.4 98.7 183.2 98 182.8C97.2 182.5 96.9 181.6 95.6 180.4C94.4 179.2 90.4 176.7 90.5 175.7Z" fill="none" stroke="#e9e9e9" stroke-width="4" stroke-linejoin="round"/><path d="M90.5 175.7C90.5 174.8 94.5 175.1 95.9 174.8C97.2 174.6 97.6 174.3 98.5 174.2C99.5 174 100.8 173.6 101.6 173.7C102.4 173.9 102.4 174.3 103.1 175.1C103.7 175.9 105.6 177.3 105.5 178.5C105.5 179.7 103.6 181.8 102.7 182.4C101.8 183.1 101 182.3 100.2 182.3C99.5 182.4 98.7 183.2 98 182.8C97.2 182.5 96.9 181.6 95.6 180.4C94.4 179.2 90.4 176.7 90.5 175.7Z" fill="#d0d4ce" stroke="#c2c6c0" stroke-width=".8" stroke-linejoin="round"/><path d="M53 134Q100 140 137 168" stroke="#ebebeb" stroke-width="3.9" fill="none"/><path d="M53 134Q100 140 137 168" stroke="#c9ccc9" stroke-width="1.4" fill="none"/><path d="M124 158L117 205" stroke="#ebebeb" stroke-width="3.9" fill="none"/><path d="M124 158L117 205" stroke="#c9ccc9" stroke-width="1.4" fill="none"/><path d="M111.4 234.4C110.6 234.3 110 229.6 109.6 227.5C109.3 225.4 109.3 223.4 109.2 222C109.2 220.6 108.9 220.2 109.3 219.1C109.6 218.1 110.3 216.7 111.3 215.7C112.2 214.7 113.8 212.7 114.7 213C115.6 213.3 116.2 215.9 116.8 217.2C117.3 218.6 117.6 220 117.8 221.1C118 222.3 118.5 223 118 224.2C117.4 225.4 115.6 226.5 114.5 228.2C113.4 229.9 112.3 234.5 111.4 234.4Z" fill="none" stroke="#e9e9e9" stroke-width="4" stroke-linejoin="round"/><path d="M111.4 234.4C110.6 234.3 110 229.6 109.6 227.5C109.3 225.4 109.3 223.4 109.2 222C109.2 220.6 108.9 220.2 109.3 219.1C109.6 218.1 110.3 216.7 111.3 215.7C112.2 214.7 113.8 212.7 114.7 213C115.6 213.3 116.2 215.9 116.8 217.2C117.3 218.6 117.6 220 117.8 221.1C118 222.3 118.5 223 118 224.2C117.4 225.4 115.6 226.5 114.5 228.2C113.4 229.9 112.3 234.5 111.4 234.4Z" fill="#d0d4ce" stroke="#c2c6c0" stroke-width=".8" stroke-linejoin="round"/><path d="M137.8 256.6C137.4 255.5 142.7 252.3 144.3 250.7C145.9 249 146.2 247.6 147.3 246.7C148.4 245.8 149.7 245.4 151 245.4C152.2 245.4 153.4 246 154.8 246.7C156.2 247.3 159.1 248.2 159.4 249.3C159.6 250.4 157 252.1 156.2 253.3C155.4 254.5 155.4 256.2 154.4 256.8C153.4 257.4 151.5 256.9 150.2 257C148.9 257 148.8 257 146.7 256.9C144.6 256.9 138.2 257.6 137.8 256.6Z" fill="none" stroke="#e9e9e9" stroke-width="4" stroke-linejoin="round"/><path d="M137.8 256.6C137.4 255.5 142.7 252.3 144.3 250.7C145.9 249 146.2 247.6 147.3 246.7C148.4 245.8 149.7 245.4 151 245.4C152.2 245.4 153.4 246 154.8 246.7C156.2 247.3 159.1 248.2 159.4 249.3C159.6 250.4 157 252.1 156.2 253.3C155.4 254.5 155.4 256.2 154.4 256.8C153.4 257.4 151.5 256.9 150.2 257C148.9 257 148.8 257 146.7 256.9C144.6 256.9 138.2 257.6 137.8 256.6Z" fill="#d0d4ce" stroke="#c2c6c0" stroke-width=".8" stroke-linejoin="round"/><path d="M150 250L141 228" stroke="#ebebeb" stroke-width="3.9" fill="none"/><path d="M150 250L141 228" stroke="#c9ccc9" stroke-width="1.4" fill="none"/><path d="M295.5 275.9C295.2 275.6 298.6 269.9 299.3 267.7C299.9 265.6 299.4 264.6 299.6 263.2C299.9 261.9 300.3 260.6 300.9 259.7C301.5 258.8 302.5 258.4 303.3 258C304.1 257.5 305.3 256.4 305.7 256.8C306 257.2 305.2 259.1 305.3 260.1C305.4 261.1 306.8 261.7 306.4 262.9C306.1 264.1 304.2 266.3 303.3 267.3C302.4 268.3 302.3 267.7 301 269.1C299.7 270.5 295.8 276.1 295.5 275.9Z" fill="none" stroke="#e9e9e9" stroke-width="4" stroke-linejoin="round"/><path d="M295.5 275.9C295.2 275.6 298.6 269.9 299.3 267.7C299.9 265.6 299.4 264.6 299.6 263.2C299.9 261.9 300.3 260.6 300.9 259.7C301.5 258.8 302.5 258.4 303.3 258C304.1 257.5 305.3 256.4 305.7 256.8C306 257.2 305.2 259.1 305.3 260.1C305.4 261.1 306.8 261.7 306.4 262.9C306.1 264.1 304.2 266.3 303.3 267.3C302.4 268.3 302.3 267.7 301 269.1C299.7 270.5 295.8 276.1 295.5 275.9Z" fill="#d0d4ce" stroke="#c2c6c0" stroke-width=".8" stroke-linejoin="round"/><path d="M196.8 179.5A5.5 4.6 50 1 0 207.8 179.5A5.5 4.6 50 1 0 196.8 179.5Z" fill="none" stroke="#e9e9e9" stroke-width="4" stroke-linejoin="round"/><path d="M196.8 179.5A5.5 4.6 50 1 0 207.8 179.5A5.5 4.6 50 1 0 196.8 179.5Z" fill="#c4c9c2" stroke="#c2c6c0" stroke-width=".8" stroke-linejoin="round"/><path d="M190.5 172A3.5 2 -40 1 0 197.5 172A3.5 2 -40 1 0 190.5 172Z" fill="none" stroke="#e9e9e9" stroke-width="4" stroke-linejoin="round"/><path d="M190.5 172A3.5 2 -40 1 0 197.5 172A3.5 2 -40 1 0 190.5 172Z" fill="#d0d4ce" stroke="#c2c6c0" stroke-width=".8" stroke-linejoin="round"/><path d="M90 306Q120 325 145 336" stroke="#ebebeb" stroke-width="3.9" fill="none"/><path d="M90 306Q120 325 145 336" stroke="#c9ccc9" stroke-width="1.4" fill="none"/><path d="M47.5 209.1h0M132.4 147h0M326.9 132.2h0M160.4 128.2h0M73.2 76h0M179.8 274.7h0M31.4 317.6h0M227.5 19h0M238.4 135.4h0M173.8 34.8h0M172.4 175.1h0M263.7 195.5h0M237.7 246.9h0M75.3 9.3h0M161.7 44.3h0M48.6 108.7h0M181.6 207.2h0M218 316.6h0M35.3 187.8h0M30.1 225.3h0M147.9 47.9h0M105.3 222.1h0M159.9 317.2h0M120.3 114.9h0M310.8 203.9h0M36.9 263.6h0M123 318.2h0M214.5 270.5h0M301.9 171.5h0M325.8 9.6h0M115.3 281.5h0M3.8 226.1h0M336.5 240.5h0M290.5 26.7h0M147.3 141.4h0M266.5 55.4h0M16.1 199.6h0M325.5 277.9h0M227 99.7h0M304.7 14.5h0M83.8 264.8h0M301.4 135.9h0M306.3 38.1h0M201.5 23.6h0M79.4 64.6h0M3.1 136.7h0M169 95.1h0M219.8 18.6h0M136.4 307.3h0M43.5 143.9h0M155.4 125.8h0M328 192.5h0M174.4 148.3h0M147.9 319.4h0M269.4 217.8h0M55.5 200h0M43.9 118.5h0M8.7 237.1h0M329.2 214.5h0M192.3 84.8h0M149.6 156.5h0M143 91.2h0M74.7 252.3h0M320.8 276h0M209.7 10.3h0M102.5 282.2h0M327.6 184.4h0M192 230.8h0M84 239.4h0M123.6 284.6h0" stroke="#c6c9c6" stroke-width="1.8" stroke-linecap="round" fill="none"/></g><defs><path id="dq1" d="M11.7 122.3h0M58.7 226.2h0M28.8 320.6h0M9.5 245.2h0M8.1 86.6h0M274.1 53.6h0M130.5 15.5h0M333.4 51.7h0M207.6 249.6h0M39 113.9h0M11.3 151.2h0M258.2 248.7h0M303.9 254h0M290.6 237.1h0M159.8 76.5h0M222.9 106.9h0M35.3 150.9h0M294.7 43.7h0M197.4 132.6h0M173.9 49.2h0M323.3 87.7h0M204.5 141.5h0M7.1 187.8h0M48.2 20h0M12.3 55h0M33.2 213.6h0M171.7 330.3h0M314.7 334h0M79.1 149.9h0M85.2 198.9h0M210.6 268.9h0M239.2 86.9h0M143 177.2h0M2.6 12.9h0M138.3 38.2h0M34.5 61.9h0M78.7 73.8h0M175.9 156.5h0M105 215.9h0M72.3 304.5h0M324.4 245h0M196.1 18.2h0M61.9 32.4h0M270.5 123.6h0M175.4 309.5h0M206 98h0M331.3 125.6h0M7.4 230.4h0M35 103.4h0M283.3 226.2h0M138.9 163.7h0M70.9 198.1h0M25.8 96.2h0M126.2 314.1h0M26.7 253.8h0M132.6 156.1h0M254.1 133.3h0M41.9 41.8h0M28 285.6h0M216.2 322.3h0M233.6 9.3h0M222.3 261.2h0M244 167.7h0M121.1 154h0M269.2 91h0M321.6 270.3h0M314 280.9h0M100.7 78.5h0M165.1 87.8h0M144.6 228.4h0M309.5 197.2h0M275.6 33.1h0M120.6 335h0M50.2 140.5h0M23.4 29.8h0M301.7 332h0M218.6 44h0M226.2 229h0M38.6 182.1h0M320 254h0M33.3 173.9h0M301.5 155.3h0M237.1 136.3h0M335.2 263.1h0M193.6 49.5h0M149.1 10.8h0M200.9 296.2h0M61.6 171.8h0M163 136.6h0M239.6 314.6h0M237.9 159.2h0M324 111.7h0M251.4 221.5h0M256.7 286.3h0M76.6 209h0M136.2 224.3h0M329.2 213.5h0M239.9 296.7h0M219.3 274.2h0M6.8 316.8h0M246 204h0M305 297.2h0M34.7 274.1h0M258.6 67.8h0M65.3 270.2h0M47.3 206h0M146.9 85.9h0M191.1 157.4h0M69.8 324.7h0M25.5 2h0M164 281.3h0M163.9 226.9h0M113.5 90.4h0M169.9 10.2h0M59.3 252.2h0M264.4 136.4h0M55.6 128.8h0M157 99.7h0M181.7 129h0M149.7 292.4h0M163.5 181.3h0M308.2 26.7h0M277.8 102.8h0M220.4 132.6h0M179.1 285.9h0M268.9 211.5h0M94.2 321.7h0M128.3 123.1h0M107.9 26.9h0M154.6 56.7h0M301.4 309.6h0M149.4 215.1h0M313.2 110.2h0M34.4 80.6h0M268 79.1h0M135.4 276.7h0M115.9 295.1h0M311.9 169.3h0M250.4 252.4h0M292.9 314.2h0M254 328.8h0M98.9 209.4h0M226.2 124h0M133.7 59.5h0M161.1 300.2h0M43.7 10.4h0M118.8 121.3h0M256.7 147.1h0M183.2 80.3h0M280.9 131.5h0M51.6 106.9h0M48.8 69.4h0M85.3 141.7h0M85 115.7h0M83.8 81.4h0M206 113.6h0M126.2 258.1h0M21.7 49.2h0M286.7 144.9h0M262.5 45.5h0M114.5 258.2h0M206 133.1h0M160.1 208.4h0M107.4 281.4h0M201.7 197.9h0M181.9 330.8h0M333.1 282.5h0M153.6 138.9h0M177.2 16.5h0M37.4 334.2h0M44.1 314.8h0M229.3 307.4h0M268.9 4h0M59.1 50.2h0M225.9 31.8h0M17.7 301.9h0M82.1 162.2h0M169.6 21.2h0M277 176.1h0M230 294.1h0M48 165.8h0M37.3 71.9h0M18.8 73.1h0M128.3 209.5h0M289.3 303.7h0M308.9 55.6h0M211.6 71.4h0M127.7 100.6h0M145.7 144.2h0M134.7 268.1h0M273.5 189.3h0M77.9 236.4h0M235.7 221.4h0M68.8 66.1h0M195.7 217h0M17 259.5h0M277.4 280.7h0M214.5 183.2h0M329.4 302.1h0M71.1 276.9h0M306.7 72.8h0M112.9 181.1h0M132.8 176.9h0M260.3 233.1h0M265 150.9h0M153.6 116.8h0M65.1 160.4h0M193.5 104.6h0M58.2 203.6h0M289.8 75.4h0M207.7 221.5h0M298.1 229.4h0M104.4 70.4h0M5.2 292.4h0M67.5 105.8h0M244.2 115.8h0M280.9 7.1h0M198.5 307.1h0M217.6 166.9h0M269.9 307.6h0M325 311h0M69.1 236.6h0M294.6 199h0M236.8 176.4h0M21.8 223.9h0" stroke-linecap="round" fill="none"/></defs><use href="#dq1" stroke="#efefef" stroke-width="7.4" opacity="1" filter="url(#bl4)"/><use href="#dq1" stroke="#8d948d" stroke-width="3.3" opacity="1" filter="url(#bl4)"/></g><clipPath id="ci1"><rect x="573.1" y="67.6" width="150" height="151.9"/></clipPath><clipPath id="cm1"><rect x="385.3" y="67.6" width="337.8" height="336.8"/></clipPath></defs><g clip-path="url(#cm1)"><use href="#mc1" x="385.3" y="67.6"/></g><g clip-path="url(#ci1)"><g transform="translate(188.9 -244.1) scale(2.250)" filter="url(#bl2)"><use href="#mc1"/></g></g><rect x="573.1" y="67.6" width="150" height="151.9" fill="none" stroke="#000" stroke-width="1.4"/><rect x="385.3" y="67.6" width="337.8" height="336.8" fill="none" stroke="#000" stroke-width="1.4"/><rect x="552.4" y="226.7" width="68.9" height="70.8" fill="none" stroke="#000" stroke-width="1.7" stroke-dasharray="3.8 1.9"/><defs><g id="mc2"><rect x="0" y="0" width="337.8" height="336.8" fill="#dadada"/><g filter="url(#bl3)"><path d="M58.3 26.2C58.8 26 60.3 28.5 61.4 29.5C62.6 30.5 64.4 30.6 65.1 32.2C65.8 33.7 65.5 36.9 65.6 38.6C65.8 40.3 65.8 40.6 66 42.2C66.2 43.8 67.5 48 67 48.3C66.5 48.6 64.2 45.5 63 44.1C61.8 42.6 60.5 40.9 59.7 39.6C58.9 38.2 58.5 37.4 58.2 36C58 34.5 58.3 32.5 58.3 30.9C58.3 29.2 57.7 26.4 58.3 26.2Z" fill="none" stroke="#e9e9e9" stroke-width="4" stroke-linejoin="round"/><path d="M58.3 26.2C58.8 26 60.3 28.5 61.4 29.5C62.6 30.5 64.4 30.6 65.1 32.2C65.8 33.7 65.5 36.9 65.6 38.6C65.8 40.3 65.8 40.6 66 42.2C66.2 43.8 67.5 48 67 48.3C66.5 48.6 64.2 45.5 63 44.1C61.8 42.6 60.5 40.9 59.7 39.6C58.9 38.2 58.5 37.4 58.2 36C58 34.5 58.3 32.5 58.3 30.9C58.3 29.2 57.7 26.4 58.3 26.2Z" fill="#d0d4ce" stroke="#c2c6c0" stroke-width=".8" stroke-linejoin="round"/><path d="M66 48Q72 60 71 72" stroke="#ebebeb" stroke-width="3.9" fill="none"/><path d="M66 48Q72 60 71 72" stroke="#c9ccc9" stroke-width="1.4" fill="none"/><path d="M86.7 86.5C87.3 86.2 89.8 88.8 90.8 89.2C91.9 89.6 92.1 88.5 93 88.9C94 89.4 95.9 90.8 96.6 91.9C97.3 93.1 97 94.5 97.2 95.8C97.5 97 98.7 99.1 98.1 99.5C97.5 99.9 95 98.7 93.8 98.4C92.6 98.1 91.6 98.5 90.9 97.7C90.2 96.9 90.2 94.8 89.6 93.6C89 92.5 87.8 91.9 87.3 90.8C86.8 89.6 86.1 86.7 86.7 86.5Z" fill="none" stroke="#e9e9e9" stroke-width="4" stroke-linejoin="round"/><path d="M86.7 86.5C87.3 86.2 89.8 88.8 90.8 89.2C91.9 89.6 92.1 88.5 93 88.9C94 89.4 95.9 90.8 96.6 91.9C97.3 93.1 97 94.5 97.2 95.8C97.5 97 98.7 99.1 98.1 99.5C97.5 99.9 95 98.7 93.8 98.4C92.6 98.1 91.6 98.5 90.9 97.7C90.2 96.9 90.2 94.8 89.6 93.6C89 92.5 87.8 91.9 87.3 90.8C86.8 89.6 86.1 86.7 86.7 86.5Z" fill="#d0d4ce" stroke="#c2c6c0" stroke-width=".8" stroke-linejoin="round"/><path d="M95 97Q120 125 152 149" stroke="#ebebeb" stroke-width="3.9" fill="none"/><path d="M95 97Q120 125 152 149" stroke="#c9ccc9" stroke-width="1.4" fill="none"/><path d="M71.9 190.5A6.5 6.5 0 1 0 84.9 190.5A6.5 6.5 0 1 0 71.9 190.5Z" fill="none" stroke="#e9e9e9" stroke-width="4" stroke-linejoin="round"/><path d="M71.9 190.5A6.5 6.5 0 1 0 84.9 190.5A6.5 6.5 0 1 0 71.9 190.5Z" fill="#d0d4ce" stroke="#c2c6c0" stroke-width=".8" stroke-linejoin="round"/><path d="M164.4 163.5A5 5.5 0 1 0 174.4 163.5A5 5.5 0 1 0 164.4 163.5Z" fill="none" stroke="#e9e9e9" stroke-width="4" stroke-linejoin="round"/><path d="M164.4 163.5A5 5.5 0 1 0 174.4 163.5A5 5.5 0 1 0 164.4 163.5Z" fill="#d0d4ce" stroke="#c2c6c0" stroke-width=".8" stroke-linejoin="round"/><path d="M188 162.3A6 6 0 1 0 200 162.3A6 6 0 1 0 188 162.3Z" fill="none" stroke="#e9e9e9" stroke-width="4" stroke-linejoin="round"/><path d="M188 162.3A6 6 0 1 0 200 162.3A6 6 0 1 0 188 162.3Z" fill="#d0d4ce" stroke="#c2c6c0" stroke-width=".8" stroke-linejoin="round"/><path d="M195.6 189.3A7 7 0 1 0 209.6 189.3A7 7 0 1 0 195.6 189.3Z" fill="none" stroke="#e9e9e9" stroke-width="4" stroke-linejoin="round"/><path d="M195.6 189.3A7 7 0 1 0 209.6 189.3A7 7 0 1 0 195.6 189.3Z" fill="#d0d4ce" stroke="#c2c6c0" stroke-width=".8" stroke-linejoin="round"/><path d="M226.8 206.5A9 6 10 1 0 244.8 206.5A9 6 10 1 0 226.8 206.5Z" fill="none" stroke="#e9e9e9" stroke-width="4" stroke-linejoin="round"/><path d="M226.8 206.5A9 6 10 1 0 244.8 206.5A9 6 10 1 0 226.8 206.5Z" fill="#d0d4ce" stroke="#c2c6c0" stroke-width=".8" stroke-linejoin="round"/><path d="M218.5 178.2A5 4 0 1 0 228.5 178.2A5 4 0 1 0 218.5 178.2Z" fill="none" stroke="#e9e9e9" stroke-width="4" stroke-linejoin="round"/><path d="M218.5 178.2A5 4 0 1 0 228.5 178.2A5 4 0 1 0 218.5 178.2Z" fill="#d0d4ce" stroke="#c2c6c0" stroke-width=".8" stroke-linejoin="round"/><path d="M41.8 238.5A12 11 0 1 0 65.8 238.5A12 11 0 1 0 41.8 238.5Z" fill="none" stroke="#e9e9e9" stroke-width="4" stroke-linejoin="round"/><path d="M41.8 238.5A12 11 0 1 0 65.8 238.5A12 11 0 1 0 41.8 238.5Z" fill="#d6d9d4" stroke="#c2c6c0" stroke-width=".8" stroke-linejoin="round"/><path d="M73.4 267.9C72.6 267.5 75.5 259.5 76 256.7C76.4 254 75.7 253.2 76.1 251.5C76.4 249.9 77 248.1 78.2 246.8C79.3 245.6 81.1 245.2 82.7 244.1C84.3 243 87 240 87.9 240.5C88.8 241 88.2 245.2 88.1 246.9C88 248.5 87.7 248.8 87.2 250.5C86.6 252.1 85.8 255.4 84.7 256.9C83.6 258.4 82.4 257.5 80.5 259.4C78.6 261.2 74.1 268.4 73.4 267.9Z" fill="none" stroke="#e9e9e9" stroke-width="4" stroke-linejoin="round"/><path d="M73.4 267.9C72.6 267.5 75.5 259.5 76 256.7C76.4 254 75.7 253.2 76.1 251.5C76.4 249.9 77 248.1 78.2 246.8C79.3 245.6 81.1 245.2 82.7 244.1C84.3 243 87 240 87.9 240.5C88.8 241 88.2 245.2 88.1 246.9C88 248.5 87.7 248.8 87.2 250.5C86.6 252.1 85.8 255.4 84.7 256.9C83.6 258.4 82.4 257.5 80.5 259.4C78.6 261.2 74.1 268.4 73.4 267.9Z" fill="#d0d4ce" stroke="#c2c6c0" stroke-width=".8" stroke-linejoin="round"/><path d="M156.7 234.6C157.1 234.4 161.5 239.9 163 241.3C164.6 242.7 164.6 241.6 165.7 242.8C166.8 244 169.1 246.9 169.7 248.5C170.4 250.1 169.2 251.1 169.4 252.4C169.7 253.6 171.7 255.8 171.2 256.1C170.7 256.5 167.8 255.5 166.6 254.6C165.4 253.6 165.1 251.9 164.2 250.5C163.2 249.2 161.7 247.8 161 246.5C160.4 245.2 160.9 244.7 160.2 242.7C159.4 240.7 156.2 234.9 156.7 234.6Z" fill="none" stroke="#e9e9e9" stroke-width="4" stroke-linejoin="round"/><path d="M156.7 234.6C157.1 234.4 161.5 239.9 163 241.3C164.6 242.7 164.6 241.6 165.7 242.8C166.8 244 169.1 246.9 169.7 248.5C170.4 250.1 169.2 251.1 169.4 252.4C169.7 253.6 171.7 255.8 171.2 256.1C170.7 256.5 167.8 255.5 166.6 254.6C165.4 253.6 165.1 251.9 164.2 250.5C163.2 249.2 161.7 247.8 161 246.5C160.4 245.2 160.9 244.7 160.2 242.7C159.4 240.7 156.2 234.9 156.7 234.6Z" fill="#d0d4ce" stroke="#c2c6c0" stroke-width=".8" stroke-linejoin="round"/><path d="M158 238Q140 215 132 203" stroke="#ebebeb" stroke-width="3.9" fill="none"/><path d="M158 238Q140 215 132 203" stroke="#c9ccc9" stroke-width="1.4" fill="none"/><path d="M151.4 137.5h0M237.2 18.1h0M136.4 133.8h0M10 324.3h0M74.5 32.6h0M160.4 56.2h0M210 117h0M42.6 18.4h0M245.4 93.1h0M265.6 156.8h0M314.3 101.6h0M84.9 90h0M274.6 211.6h0M116.8 32.4h0M230.1 325.5h0M199.9 2.2h0M11.2 31.3h0M58.2 13.3h0M19.1 220.1h0M303.3 68.2h0M328 160.7h0M270.8 308.1h0M316.7 12.5h0M103.3 204.2h0M318.8 30.4h0M99.5 285.5h0M39.5 131.5h0M113.2 228.7h0M312.8 59.5h0M249.4 246.7h0M281.6 186.3h0M311.1 122.5h0M140.3 77.8h0M262.7 161.9h0M91.5 57.8h0M243 203.8h0M239.6 130.5h0M164.6 52.5h0M239.7 8.7h0M157.8 254.9h0M228.4 33.5h0M80.6 283.5h0M216.7 295.1h0M293.9 151.6h0M302.2 246.4h0M113.1 124.9h0M25.2 134.7h0M321.9 36.2h0M192 37.9h0M28.2 218.3h0" stroke="#c6c9c6" stroke-width="1.8" stroke-linecap="round" fill="none"/></g><defs><path id="dq2" d="M296.8 329.3h0M170.7 335.3h0M105 26.8h0M202.4 11.5h0M67.3 137.6h0M206 53.3h0M15.2 291.5h0M106.4 322h0M302.1 127.5h0M155.6 175.1h0M217.2 200.4h0M188.8 208.6h0M316.9 170.8h0M145.8 242.2h0M80.8 101.8h0M329.3 175.5h0M185.2 4.8h0M140.4 195.2h0M7.7 207.2h0M213.3 21.1h0M211.7 157.1h0M229.1 119h0M238.4 248.1h0M8.4 21.3h0M228 323.5h0M85.3 153.8h0M200 108.1h0M123.2 105.7h0M125 200.4h0M101.9 127.3h0M260.3 10h0M192.2 247.1h0M105.1 75.5h0M270.9 80.9h0M63.9 146.7h0M235.4 35.1h0M109.1 112.7h0M280.9 147.8h0M288.3 57.7h0M114.1 218.7h0M298.1 152h0M76.6 41.5h0M178.8 64.9h0M271.9 281.7h0M62.6 94.3h0M272.1 215.9h0M271.7 116.6h0M44.5 98.7h0M267.6 91.8h0M117.3 140.6h0M142 138.1h0M310.1 53.2h0M2.6 316.8h0M146.9 319.1h0M312.4 75.4h0M251.3 281.1h0M223.6 174.8h0M98.1 115.2h0M77.4 23.8h0M198.7 97.1h0M273.1 16.1h0M304.4 233.3h0M311.2 301.2h0M303.1 194.2h0M5.4 250.5h0M206.6 115.3h0M85.8 289.5h0M161.2 262.9h0M119.1 67.1h0M180.5 274.5h0M58.5 266.1h0M310.5 270.9h0M277.5 3.5h0M212.1 289.8h0M17.8 91.9h0M91.2 177.5h0M143 159.3h0M261.7 1.6h0M19.4 43.5h0M42.8 23.9h0M328.3 287.1h0M29.9 169.1h0M198 121.8h0M65.2 111.1h0M42.6 187h0M241.4 128.3h0M27.8 60.8h0M263.8 128.3h0M145.9 125.7h0M167.6 236.3h0M142.2 233.4h0M155.8 83.1h0M180.9 233.7h0M25 143.3h0M144 295.5h0M315.5 126.3h0M302.5 265.8h0M42.4 273.3h0M223.4 298.1h0M267.1 224.5h0M247.4 189.8h0M35.6 197.8h0M2.6 49h0M31.8 34.2h0M296.7 61h0M8.9 282.7h0M41.7 283.6h0M227.2 281h0M320.8 194.9h0M258.7 172.2h0M252.5 313.9h0M21.5 109.6h0M190.4 278.2h0M82.3 61.2h0M84.9 207.2h0M254 132.8h0M124.4 133.8h0M327.8 139.2h0M252 54.8h0M163.4 216.3h0M33.2 251.5h0M308.8 174.2h0M67.9 197.1h0M100.4 237.1h0M139.8 286.8h0M74.1 8.7h0M162 129.1h0M58.8 121.7h0M109.1 260.2h0M49.2 332.9h0M162 201.5h0M158.2 280.4h0M276.9 187.5h0M288.7 135h0M247.3 322.5h0M79.8 241.3h0M287.7 82.1h0M63.9 236.9h0M289.3 302.2h0M106.2 142.7h0M245.8 29.8h0M32.1 280.2h0M195.9 227.2h0M3.3 113.1h0M183.8 40.9h0M93.3 223.8h0M38.8 298h0M306.2 33.4h0M260.4 254.6h0M220.6 270.9h0M90.2 253.5h0M323.8 226.3h0M166.8 118.9h0M242.1 228.2h0M191.2 61.9h0M217.8 212.2h0M61.1 298.9h0M221.1 42.2h0M112.3 242.2h0M201.6 186.8h0M105.9 60.1h0M24 240.7h0M254.4 182.8h0M249.4 121.3h0M90.3 129.4h0M294 15.1h0M170.5 83.8h0M259.2 119.6h0M182.8 259.4h0M119.5 284.5h0M38.7 91.6h0M262.6 244.5h0M63.1 64.3h0M140.9 249.9h0M274.9 251.7h0M134.8 65.8h0M178.2 191.3h0M68.9 84.8h0M270.7 299.4h0M186.6 196.2h0M213.8 328.1h0M231.6 101.2h0M289.8 163.1h0M202.9 244.3h0M1.8 258.9h0M223.3 165.7h0M176.8 155.2h0M66 178.3h0M13.4 168.5h0M217.9 149.7h0M191.1 322.1h0M300.6 46.4h0M18 121.5h0M182 312.3h0M109.5 292.4h0M234.3 46h0M289.2 202.3h0M312.3 240.7h0M271.9 312.9h0M290.3 147.3h0M255.2 163.4h0M37.6 15.3h0M55 167.4h0M235.8 180.9h0M142.7 218.4h0M103.3 156.5h0M125.6 178.2h0M201.3 75.9h0M1.9 71h0M264 49h0M155.5 66.4h0M71.3 58.2h0M136.6 57.3h0M10.2 37.9h0M21.1 8.5h0" stroke-linecap="round" fill="none"/></defs><use href="#dq2" stroke="#efefef" stroke-width="7.4" opacity="1" filter="url(#bl4)"/><use href="#dq2" stroke="#85858f" stroke-width="3.3" opacity="1" filter="url(#bl4)"/></g><clipPath id="ci2"><rect x="922.2" y="67.6" width="150.6" height="153.7"/></clipPath><clipPath id="cm2"><rect x="735" y="67.6" width="337.8" height="336.8"/></clipPath></defs><g clip-path="url(#cm2)"><use href="#mc2" x="735" y="67.6"/></g><g clip-path="url(#ci2)"><g transform="translate(846.9 35.3) scale(2.250)" filter="url(#bl2)"><use href="#mc2"/></g></g><rect x="922.2" y="67.6" width="150.6" height="153.7" fill="none" stroke="#000" stroke-width="1.4"/><rect x="735" y="67.6" width="337.8" height="336.8" fill="none" stroke="#000" stroke-width="1.4"/><rect x="770" y="78" width="69" height="71" fill="none" stroke="#000" stroke-width="1.7" stroke-dasharray="3.8 1.9"/><defs><g id="mc3"><rect x="0" y="0" width="337.8" height="336.8" fill="#d3d6d2"/><g filter="url(#bl3)"><path d="M73.1 30.8C73.5 30.7 76.6 40.7 77.7 43.5C78.7 46.3 78.7 46.2 79.4 47.8C80.2 49.4 82 51.8 82.3 53.2C82.7 54.7 81.9 55.1 81.5 56.5C81.2 57.9 81 61.6 80.2 61.7C79.3 61.8 77.5 58.2 76.6 57.1C75.6 55.9 74.7 56.1 74.4 54.9C74.1 53.7 74.6 51.7 74.8 49.9C75 48.1 75.7 47.4 75.4 44.2C75.1 41.1 72.7 30.9 73.1 30.8Z" fill="none" stroke="#e5e7e3" stroke-width="4" stroke-linejoin="round"/><path d="M73.1 30.8C73.5 30.7 76.6 40.7 77.7 43.5C78.7 46.3 78.7 46.2 79.4 47.8C80.2 49.4 82 51.8 82.3 53.2C82.7 54.7 81.9 55.1 81.5 56.5C81.2 57.9 81 61.6 80.2 61.7C79.3 61.8 77.5 58.2 76.6 57.1C75.6 55.9 74.7 56.1 74.4 54.9C74.1 53.7 74.6 51.7 74.8 49.9C75 48.1 75.7 47.4 75.4 44.2C75.1 41.1 72.7 30.9 73.1 30.8Z" fill="#c8cdc6" stroke="#b9bfb7" stroke-width=".8" stroke-linejoin="round"/><path d="M32.6 182.8C32 182.5 36.7 173 37.6 169.7C38.5 166.4 37.7 164.7 38.1 162.9C38.5 161.1 38.9 160.3 39.7 158.9C40.6 157.4 41.9 155.7 43.2 154.2C44.6 152.7 46.9 149.4 47.8 150C48.7 150.6 48.6 155.7 48.6 157.7C48.5 159.6 47.9 160.1 47.3 161.7C46.8 163.3 46.5 165.6 45.5 167.3C44.5 168.9 43.7 168.8 41.5 171.4C39.4 174 33.3 183.1 32.6 182.8Z" fill="none" stroke="#e5e7e3" stroke-width="4" stroke-linejoin="round"/><path d="M32.6 182.8C32 182.5 36.7 173 37.6 169.7C38.5 166.4 37.7 164.7 38.1 162.9C38.5 161.1 38.9 160.3 39.7 158.9C40.6 157.4 41.9 155.7 43.2 154.2C44.6 152.7 46.9 149.4 47.8 150C48.7 150.6 48.6 155.7 48.6 157.7C48.5 159.6 47.9 160.1 47.3 161.7C46.8 163.3 46.5 165.6 45.5 167.3C44.5 168.9 43.7 168.8 41.5 171.4C39.4 174 33.3 183.1 32.6 182.8Z" fill="#c8cdc6" stroke="#b9bfb7" stroke-width=".8" stroke-linejoin="round"/><path d="M165.9 165.6C165.6 165 170.9 161.2 172.3 159.5C173.6 157.8 172.8 156.5 173.9 155.2C175.1 154 177.8 152.5 179.2 152.1C180.7 151.7 180.8 152.8 182.4 152.9C183.9 153 187.8 152 188.4 152.7C189 153.4 186.6 155.7 186 157.1C185.3 158.4 185.5 159.6 184.4 160.6C183.2 161.6 180.5 162.4 178.9 162.8C177.3 163.2 176.8 162.6 174.6 163.1C172.4 163.6 166.3 166.2 165.9 165.6Z" fill="none" stroke="#e5e7e3" stroke-width="4" stroke-linejoin="round"/><path d="M165.9 165.6C165.6 165 170.9 161.2 172.3 159.5C173.6 157.8 172.8 156.5 173.9 155.2C175.1 154 177.8 152.5 179.2 152.1C180.7 151.7 180.8 152.8 182.4 152.9C183.9 153 187.8 152 188.4 152.7C189 153.4 186.6 155.7 186 157.1C185.3 158.4 185.5 159.6 184.4 160.6C183.2 161.6 180.5 162.4 178.9 162.8C177.3 163.2 176.8 162.6 174.6 163.1C172.4 163.6 166.3 166.2 165.9 165.6Z" fill="#c8cdc6" stroke="#b9bfb7" stroke-width=".8" stroke-linejoin="round"/><path d="M190.6 228.7C190.7 228.3 193 229.8 194.4 230C195.7 230.2 197.7 229.6 198.5 230C199.3 230.4 198.7 231.3 199.3 232.3C199.9 233.2 201.5 234.8 202 235.8C202.5 236.9 202.8 238.3 202.2 238.6C201.7 239 199.7 238.2 198.6 238C197.5 237.8 196.1 237.8 195.5 237.5C194.8 237.1 195.2 236.5 194.9 235.7C194.5 234.9 194.1 234 193.4 232.8C192.7 231.7 190.4 229.2 190.6 228.7Z" fill="none" stroke="#e5e7e3" stroke-width="4" stroke-linejoin="round"/><path d="M190.6 228.7C190.7 228.3 193 229.8 194.4 230C195.7 230.2 197.7 229.6 198.5 230C199.3 230.4 198.7 231.3 199.3 232.3C199.9 233.2 201.5 234.8 202 235.8C202.5 236.9 202.8 238.3 202.2 238.6C201.7 239 199.7 238.2 198.6 238C197.5 237.8 196.1 237.8 195.5 237.5C194.8 237.1 195.2 236.5 194.9 235.7C194.5 234.9 194.1 234 193.4 232.8C192.7 231.7 190.4 229.2 190.6 228.7Z" fill="#c8cdc6" stroke="#b9bfb7" stroke-width=".8" stroke-linejoin="round"/><path d="M92.4 233.7C92.9 233.3 102 238.1 104.8 239.3C107.5 240.4 107.4 239.9 109 240.6C110.5 241.3 112.9 242.4 114.1 243.4C115.4 244.3 115.4 245.1 116.3 246.5C117.3 248 120.2 250.9 119.7 251.9C119.2 252.9 115.3 253 113.4 252.6C111.4 252.2 109.8 250.5 108.1 249.5C106.4 248.5 104.1 247.6 103.1 246.4C102 245.2 103.6 244.3 101.8 242.2C100.1 240 91.9 234.2 92.4 233.7Z" fill="none" stroke="#e5e7e3" stroke-width="4" stroke-linejoin="round"/><path d="M92.4 233.7C92.9 233.3 102 238.1 104.8 239.3C107.5 240.4 107.4 239.9 109 240.6C110.5 241.3 112.9 242.4 114.1 243.4C115.4 244.3 115.4 245.1 116.3 246.5C117.3 248 120.2 250.9 119.7 251.9C119.2 252.9 115.3 253 113.4 252.6C111.4 252.2 109.8 250.5 108.1 249.5C106.4 248.5 104.1 247.6 103.1 246.4C102 245.2 103.6 244.3 101.8 242.2C100.1 240 91.9 234.2 92.4 233.7Z" fill="#c8cdc6" stroke="#b9bfb7" stroke-width=".8" stroke-linejoin="round"/><path d="M17.8 237.7C18.1 236.8 24.3 238.3 26.1 238C27.8 237.7 27.5 236 28.4 235.8C29.3 235.6 30.5 236.2 31.6 237C32.7 237.7 34.2 238.9 35 240.2C35.7 241.6 36.5 243.9 35.9 245.3C35.4 246.6 33.2 247.6 31.8 248.1C30.5 248.7 28.8 248.6 27.8 248.4C26.8 248.1 26.4 247.5 25.8 246.6C25.2 245.8 25.6 244.6 24.2 243.2C22.9 241.7 17.5 238.6 17.8 237.7Z" fill="none" stroke="#e5e7e3" stroke-width="4" stroke-linejoin="round"/><path d="M17.8 237.7C18.1 236.8 24.3 238.3 26.1 238C27.8 237.7 27.5 236 28.4 235.8C29.3 235.6 30.5 236.2 31.6 237C32.7 237.7 34.2 238.9 35 240.2C35.7 241.6 36.5 243.9 35.9 245.3C35.4 246.6 33.2 247.6 31.8 248.1C30.5 248.7 28.8 248.6 27.8 248.4C26.8 248.1 26.4 247.5 25.8 246.6C25.2 245.8 25.6 244.6 24.2 243.2C22.9 241.7 17.5 238.6 17.8 237.7Z" fill="#c8cdc6" stroke="#b9bfb7" stroke-width=".8" stroke-linejoin="round"/><path d="M2.2 41.8A9 6 30 1 0 20.2 41.8A9 6 30 1 0 2.2 41.8Z" fill="none" stroke="#e5e7e3" stroke-width="4" stroke-linejoin="round"/><path d="M2.2 41.8A9 6 30 1 0 20.2 41.8A9 6 30 1 0 2.2 41.8Z" fill="#c8cdc6" stroke="#b9bfb7" stroke-width=".8" stroke-linejoin="round"/><path d="M-0.5 121.7A8 5 0 1 0 15.5 121.7A8 5 0 1 0 -0.5 121.7Z" fill="none" stroke="#e5e7e3" stroke-width="4" stroke-linejoin="round"/><path d="M-0.5 121.7A8 5 0 1 0 15.5 121.7A8 5 0 1 0 -0.5 121.7Z" fill="#c8cdc6" stroke="#b9bfb7" stroke-width=".8" stroke-linejoin="round"/><path d="M190.9 321.9C191 320.9 195 321.1 196.8 320.8C198.6 320.5 200.1 320.1 201.9 320.1C203.7 320 206.2 319.8 207.3 320.5C208.4 321.1 207.7 322.5 208.4 323.9C209.1 325.4 212 327.6 211.6 329C211.2 330.4 207.9 331.9 206.1 332.4C204.4 332.9 202.6 332.3 201.4 332.1C200.2 331.9 199.8 332.2 199 331.3C198.1 330.4 197.9 328.3 196.5 326.7C195.2 325.1 190.9 322.8 190.9 321.9Z" fill="none" stroke="#e5e7e3" stroke-width="4" stroke-linejoin="round"/><path d="M190.9 321.9C191 320.9 195 321.1 196.8 320.8C198.6 320.5 200.1 320.1 201.9 320.1C203.7 320 206.2 319.8 207.3 320.5C208.4 321.1 207.7 322.5 208.4 323.9C209.1 325.4 212 327.6 211.6 329C211.2 330.4 207.9 331.9 206.1 332.4C204.4 332.9 202.6 332.3 201.4 332.1C200.2 331.9 199.8 332.2 199 331.3C198.1 330.4 197.9 328.3 196.5 326.7C195.2 325.1 190.9 322.8 190.9 321.9Z" fill="#c8cdc6" stroke="#b9bfb7" stroke-width=".8" stroke-linejoin="round"/><path d="M111.7 170.4C111.7 169.8 118.5 167 120.3 165.5C122 164 121.5 162 122.3 161.3C123.2 160.6 124.1 161.3 125.5 161.3C126.9 161.4 129.3 161.6 130.7 161.7C132.1 161.8 133.9 161.3 134.1 161.9C134.3 162.5 132.8 164.3 132 165.3C131.2 166.3 130.4 167.1 129.3 167.8C128.1 168.4 126.6 169 125.1 169.3C123.7 169.5 122.7 169.1 120.5 169.2C118.2 169.4 111.7 171.1 111.7 170.4Z" fill="none" stroke="#e5e7e3" stroke-width="4" stroke-linejoin="round"/><path d="M111.7 170.4C111.7 169.8 118.5 167 120.3 165.5C122 164 121.5 162 122.3 161.3C123.2 160.6 124.1 161.3 125.5 161.3C126.9 161.4 129.3 161.6 130.7 161.7C132.1 161.8 133.9 161.3 134.1 161.9C134.3 162.5 132.8 164.3 132 165.3C131.2 166.3 130.4 167.1 129.3 167.8C128.1 168.4 126.6 169 125.1 169.3C123.7 169.5 122.7 169.1 120.5 169.2C118.2 169.4 111.7 171.1 111.7 170.4Z" fill="#c8cdc6" stroke="#b9bfb7" stroke-width=".8" stroke-linejoin="round"/><path d="M155 197L192 229" stroke="#ebebeb" stroke-width="3.7" fill="none"/><path d="M155 197L192 229" stroke="#b9c1b7" stroke-width="1.2" fill="none"/><circle cx="109.6" cy="63.9" r="9.1" fill="#eef0ec"/><circle cx="109.6" cy="63.9" r="6.5" fill="#c0c8be" stroke="#b0b8ae" stroke-width="0.8"/><circle cx="142.7" cy="136.5" r="9.1" fill="#eef0ec"/><circle cx="142.7" cy="136.5" r="6.5" fill="#c0c8be" stroke="#b0b8ae" stroke-width="0.8"/><circle cx="81.3" cy="201.6" r="11.1" fill="#eef0ec"/><circle cx="81.3" cy="201.6" r="8.5" fill="#c0c8be" stroke="#b0b8ae" stroke-width="0.8"/><circle cx="212.8" cy="199.1" r="10.1" fill="#eef0ec"/><circle cx="212.8" cy="199.1" r="7.5" fill="#c0c8be" stroke="#b0b8ae" stroke-width="0.8"/><circle cx="249.7" cy="265.5" r="10.1" fill="#eef0ec"/><circle cx="249.7" cy="265.5" r="7.5" fill="#c0c8be" stroke="#b0b8ae" stroke-width="0.8"/><circle cx="56.7" cy="121.7" r="8.6" fill="#eef0ec"/><circle cx="56.7" cy="121.7" r="6" fill="#c0c8be" stroke="#b0b8ae" stroke-width="0.8"/><circle cx="300.1" cy="170.9" r="7.6" fill="#eef0ec"/><circle cx="300.1" cy="170.9" r="5" fill="#c0c8be" stroke="#b0b8ae" stroke-width="0.8"/><circle cx="258.3" cy="320.8" r="10.1" fill="#eef0ec"/><circle cx="258.3" cy="320.8" r="7.5" fill="#c0c8be" stroke="#b0b8ae" stroke-width="0.8"/><circle cx="72.7" cy="301.2" r="9.6" fill="#eef0ec"/><circle cx="72.7" cy="301.2" r="7" fill="#c0c8be" stroke="#b0b8ae" stroke-width="0.8"/><path d="M254.8 264.4h0M303.2 249.5h0M225.6 86.2h0M209.7 63.6h0M218.3 59.9h0M6.9 320.9h0M293.1 103.1h0M16.1 275.1h0M260 52.8h0M275.4 281.7h0M193.9 92.7h0M20 22.2h0M149.1 242.5h0M215.3 76.3h0M269 22.1h0M207.2 59.3h0M2.8 65.8h0M268.2 74.6h0M5.7 162.6h0M118.2 193.2h0M194.9 238h0M308.4 114.3h0M214.2 40.7h0M85.4 33.2h0M290.5 114h0M239.6 294.7h0M130.2 70.3h0M84.3 164.9h0M131.1 24.5h0M286.6 215.1h0M293.8 284h0M244.6 276.9h0M237.3 144.3h0M275.9 308.3h0M37.1 49.3h0M58 153.6h0M291.2 177.3h0M288.2 123.7h0M190.9 83.7h0M215.9 91.4h0M3.5 134.3h0M190.3 296h0M97.2 311.3h0M273.5 53.7h0M262.5 314.2h0M324.1 232.7h0M132.1 183.1h0M219.5 206.3h0M64.5 297.2h0M182.6 24.9h0M103.8 28h0M155.8 32.5h0M178.9 94.3h0M278.8 258.4h0M64 272.7h0M307 3.1h0M135 201.5h0M55.6 165.5h0M297.9 116h0M239 64.7h0M328.6 323.8h0M56.4 257h0M113.1 11.7h0M71.8 245h0M157.2 178.3h0M43.9 58.5h0M123.6 173h0M276.5 151.4h0M111.1 306.9h0M232.8 254.1h0M271.5 163.2h0M88.4 38.5h0M221.8 251.6h0M304 308.8h0M170.1 164.7h0M325 29.7h0M126.8 183.6h0M203 205.6h0M54.2 171.2h0M60.1 129.5h0" stroke="#c6c9c6" stroke-width="1.8" stroke-linecap="round" fill="none"/></g><defs><path id="dq3" d="M322.1 25.9h0M327.1 323h0M225.4 15.9h0M302.9 43.7h0M326.2 224.4h0M21.3 57h0M214.3 191.6h0M251.7 311.5h0M74.4 2.1h0M310.7 5.4h0M295.3 39.8h0M273 263.1h0M295.8 185.3h0M296.1 68.5h0M226.5 111.7h0M300.4 260h0M159.3 177.2h0M9.9 12.4h0M200.6 164.7h0M291.4 204.6h0M47.6 122.4h0M258.8 176.1h0M4.5 281.5h0M278.9 29.5h0M183.5 128.6h0M265.4 105.2h0M79.5 163.9h0M39.4 208.9h0M298.3 172.6h0M146.7 288.2h0M261.8 23.4h0M102.5 281h0M142.9 268.3h0M57.2 293.7h0M60.2 51h0M167 114.4h0M183 303.7h0M239.6 2.9h0M105.7 183.4h0M164.4 240.6h0M163.6 26.3h0M83.4 284.8h0M120.8 257.7h0M332 210.8h0M228.2 205.1h0M106.2 306.6h0M157.8 306.1h0M103.6 291.4h0M265.2 206.2h0M149.4 48.1h0M259.9 122.3h0M223.3 45.6h0M28.7 49.2h0M272.7 60.5h0M303.9 125.5h0M194.4 118.3h0M209.5 32.3h0M136.2 314.4h0M61.3 220h0M110.7 101.6h0M319.8 278.8h0M270 271.3h0M321.1 54.1h0M193.7 315h0M256.3 325.2h0M40.2 219.1h0M227.8 250.5h0M208.5 279.3h0M137.4 201.6h0M302.2 236.6h0M105 78.1h0M110.7 210.9h0M335.6 302h0M135.4 135.1h0M275.5 96h0M139.2 5.4h0M62.8 181.9h0M123.3 319.4h0M210.3 53.2h0M23.7 327h0M203.8 105.5h0M31.7 87.3h0M75.6 311.8h0M50.9 80.8h0M101.5 318.4h0M55.8 265.6h0M229.6 184.2h0M323.1 88.8h0M177.1 53.7h0M33.5 11.6h0M107.3 41.8h0M98.1 299h0M236.7 245.8h0M221 319.9h0M189 233.3h0M244 185.9h0M284.5 163.1h0M294.8 86.7h0M132.4 229.4h0M290.3 111h0M130.9 142.6h0M10.4 294.5h0M7.4 322.4h0M286 276.7h0M78.9 186.3h0M63.2 277.4h0M335.6 237.5h0M310.3 314.7h0M128.4 284.7h0M281 197.6h0M307.2 103.2h0M218.2 301.4h0M202.5 13.5h0M213.2 86.6h0M289.1 222.6h0M210.9 114.5h0M281.1 299.5h0M300.9 296.7h0M222.1 234.9h0M204.1 177.5h0M332.6 119.2h0M28.4 239.9h0M168.3 183.7h0M201.8 84.7h0M68.4 24.9h0M263.5 305.2h0M235 40.1h0M329.6 277.8h0M172 1.3h0M284.4 209.7h0M210 7.1h0M247.2 12.5h0M161.5 49.5h0M121.8 299h0M252.3 274.2h0M101.1 131.1h0M139.4 327.4h0M254.2 289.8h0M101.3 232.3h0M265.9 236.9h0M147.9 59.5h0M313.9 93.4h0M254.8 137.3h0M87 172.1h0M11.1 89.2h0M45.5 254.9h0M56.7 31.8h0M168.6 39.2h0M115.3 153.5h0M333.5 56.7h0M39.3 326.2h0M100.6 190.9h0M26.4 284.5h0M61.2 241.5h0M10.1 257.7h0M61.8 70h0M12.7 109.6h0M111.2 330.1h0M204.8 123h0M73.2 321.1h0M329.6 20.2h0M225.3 283.3h0M36 67.8h0M47.3 161.3h0M184.4 182h0M282.5 255h0M13.7 52.2h0M74.6 80.8h0M193.7 66.1h0M123.1 238.1h0M318.1 64.8h0M168 14.8h0M103.8 241.8h0M132.9 47.7h0M127.2 156.3h0M46.8 11h0M264.2 246.2h0M141.5 39.5h0M301.4 162.3h0M328 177.4h0M61.8 206.9h0M202.5 201.6h0M62.4 96.6h0M147.1 106.3h0M117 227.2h0M183.8 322h0M159.2 41h0M239.8 200.8h0M18.3 275.5h0M294.6 28h0M317.2 263.8h0M89.4 20.2h0M160.7 290.9h0M71.2 159.2h0M323.2 298.3h0M97.7 140.6h0M1.9 178.2h0M25.2 146.1h0M285 320.8h0M275.8 68.6h0M336.3 4.5h0M2.2 98.6h0M174.8 143h0M32.1 215.4h0M232.6 22.6h0M35.9 256.1h0M109.9 114.6h0M94 197.6h0M184.1 143.3h0M103.2 121.3h0M181.1 83.9h0M163 219.1h0M183.7 195.4h0M244.7 320.7h0M103.1 106.9h0M290.9 268h0M111.3 280.4h0M1.9 220.3h0M187.6 75.6h0M83.4 324.8h0M133.1 82h0M149.2 246.1h0M98.6 30.8h0M266.5 33.2h0M19.6 2.6h0M334.6 146.4h0M1.2 122.7h0M256 192.8h0M165.5 314.7h0M132.8 29.9h0M131.1 71.5h0M248.7 254.8h0M35.6 309.3h0M296.9 329.1h0M280 239h0M209.8 310.5h0M96.6 113.2h0M212.4 226.2h0M80.9 62.8h0M120.1 142.3h0M42.6 290.8h0M4.9 235.1h0M257.4 158.2h0M250.1 94.9h0M90 241h0M190.4 222.2h0M328.7 259.9h0M266.8 325.8h0M312.9 249.3h0M117.8 171.2h0" stroke-linecap="round" fill="none"/></defs><use href="#dq3" stroke="#e8eae7" stroke-width="7" opacity="1" filter="url(#bl4)"/><use href="#dq3" stroke="#8f968f" stroke-width="3.5" opacity="1" filter="url(#bl4)"/></g><clipPath id="ci3"><rect x="1272.4" y="67.6" width="150" height="153.7"/></clipPath><clipPath id="cm3"><rect x="1084.6" y="67.6" width="337.8" height="336.8"/></clipPath></defs><g clip-path="url(#cm3)"><use href="#mc3" x="1084.6" y="67.6"/></g><g clip-path="url(#ci3)"><g transform="translate(1128.8 13.1) scale(2.200)" filter="url(#bl2)"><use href="#mc3"/></g></g><rect x="1272.4" y="67.6" width="150" height="153.7" fill="none" stroke="#000" stroke-width="1.4"/><rect x="1084.6" y="67.6" width="337.8" height="336.8" fill="none" stroke="#000" stroke-width="1.4"/><rect x="1149.2" y="94.2" width="68.3" height="71.8" fill="none" stroke="#000" stroke-width="1.7" stroke-dasharray="3.8 1.9"/><defs><g id="mc4"><rect x="0" y="0" width="337.8" height="336.8" fill="#d5d3d5"/><g filter="url(#bl4)"><path d="M25.4 18.2C26.1 18.7 20.8 30.4 20.4 34.2C20 38 22.9 39 23 41C23 42.9 22.1 44.4 20.8 46C19.5 47.6 17.1 48.9 15.3 50.5C13.4 52.1 10.8 56.2 9.5 55.7C8.2 55.2 7.7 49.8 7.4 47.6C7.1 45.4 6.9 44.8 7.5 42.7C8.2 40.7 9.8 37.3 11.3 35.4C12.7 33.4 13.9 34.1 16.3 31.2C18.7 28.4 24.7 17.7 25.4 18.2Z" fill="none" stroke="#e4e4e2" stroke-width="4.8" stroke-linejoin="round"/><path d="M25.4 18.2C26.1 18.7 20.8 30.4 20.4 34.2C20 38 22.9 39 23 41C23 42.9 22.1 44.4 20.8 46C19.5 47.6 17.1 48.9 15.3 50.5C13.4 52.1 10.8 56.2 9.5 55.7C8.2 55.2 7.7 49.8 7.4 47.6C7.1 45.4 6.9 44.8 7.5 42.7C8.2 40.7 9.8 37.3 11.3 35.4C12.7 33.4 13.9 34.1 16.3 31.2C18.7 28.4 24.7 17.7 25.4 18.2Z" fill="#c8cbc3" stroke="#a9ada0" stroke-width="1.1" stroke-linejoin="round"/><path d="M14.9 31.6L11.2 7.2" stroke="#e4e4e2" stroke-width="3.6" fill="none"/><path d="M14.9 31.6L11.2 7.2" stroke="#b2b6aa" stroke-width="1.2" fill="none"/><path d="M8.1 45.7L0.2 54" stroke="#e4e4e2" stroke-width="3.6" fill="none"/><path d="M8.1 45.7L0.2 54" stroke="#b2b6aa" stroke-width="1.2" fill="none"/><path d="M55.7 55.2C56.8 55.7 52 63.3 51.3 66C50.7 68.7 52.1 69.8 51.6 71.6C51.2 73.3 50.1 75.6 48.9 76.7C47.7 77.9 46.5 77.7 44.7 78.4C42.9 79.2 39.5 81.9 38.1 81.3C36.8 80.8 36.7 77.4 36.5 75.3C36.2 73.2 36 70.2 36.6 68.5C37.1 66.8 38.5 65.7 39.8 64.9C41.2 64 42 64.9 44.6 63.3C47.3 61.7 54.6 54.8 55.7 55.2Z" fill="none" stroke="#e4e4e2" stroke-width="4.8" stroke-linejoin="round"/><path d="M55.7 55.2C56.8 55.7 52 63.3 51.3 66C50.7 68.7 52.1 69.8 51.6 71.6C51.2 73.3 50.1 75.6 48.9 76.7C47.7 77.9 46.5 77.7 44.7 78.4C42.9 79.2 39.5 81.9 38.1 81.3C36.8 80.8 36.7 77.4 36.5 75.3C36.2 73.2 36 70.2 36.6 68.5C37.1 66.8 38.5 65.7 39.8 64.9C41.2 64 42 64.9 44.6 63.3C47.3 61.7 54.6 54.8 55.7 55.2Z" fill="#c8cbc3" stroke="#a9ada0" stroke-width="1.1" stroke-linejoin="round"/><path d="M22.5 82.2C22.8 82.9 16.9 84.8 15 85.9C13.1 87 12.3 88.5 11 89C9.6 89.6 8.5 89 6.8 89C5.1 89 2.7 89.6 1 89.2C-0.8 88.8 -3.8 87.8 -3.7 86.7C-3.6 85.7 0.1 83.8 1.4 82.8C2.8 81.9 3 81.4 4.4 80.9C5.8 80.5 8.3 79.9 9.7 80C11.2 80.1 11.1 81.2 13.2 81.6C15.3 82 22.2 81.5 22.5 82.2Z" fill="none" stroke="#e4e4e2" stroke-width="4.8" stroke-linejoin="round"/><path d="M22.5 82.2C22.8 82.9 16.9 84.8 15 85.9C13.1 87 12.3 88.5 11 89C9.6 89.6 8.5 89 6.8 89C5.1 89 2.7 89.6 1 89.2C-0.8 88.8 -3.8 87.8 -3.7 86.7C-3.6 85.7 0.1 83.8 1.4 82.8C2.8 81.9 3 81.4 4.4 80.9C5.8 80.5 8.3 79.9 9.7 80C11.2 80.1 11.1 81.2 13.2 81.6C15.3 82 22.2 81.5 22.5 82.2Z" fill="#c8cbc3" stroke="#a9ada0" stroke-width="1.1" stroke-linejoin="round"/><path d="M24.1 82C24.4 81.5 28 83.2 30 83.8C31.9 84.3 34 84.4 35.9 85.2C37.8 86 40 87.1 41.3 88.4C42.5 89.6 42.4 91.1 43.4 92.7C44.3 94.2 47.5 96.8 47 97.7C46.5 98.6 42.6 98.4 40.4 98.1C38.3 97.9 35.7 97.4 34 96.4C32.3 95.3 31.1 93.3 30.2 91.6C29.2 90 29.2 88.1 28.2 86.5C27.2 84.8 23.8 82.4 24.1 82Z" fill="none" stroke="#e4e4e2" stroke-width="4.8" stroke-linejoin="round"/><path d="M24.1 82C24.4 81.5 28 83.2 30 83.8C31.9 84.3 34 84.4 35.9 85.2C37.8 86 40 87.1 41.3 88.4C42.5 89.6 42.4 91.1 43.4 92.7C44.3 94.2 47.5 96.8 47 97.7C46.5 98.6 42.6 98.4 40.4 98.1C38.3 97.9 35.7 97.4 34 96.4C32.3 95.3 31.1 93.3 30.2 91.6C29.2 90 29.2 88.1 28.2 86.5C27.2 84.8 23.8 82.4 24.1 82Z" fill="#c8cbc3" stroke="#a9ada0" stroke-width="1.1" stroke-linejoin="round"/><path d="M92.7 3.3C93.1 3.8 87.1 9.7 85.3 11.7C83.5 13.6 83.1 14 81.9 15C80.8 16 79.6 16.9 78.5 17.7C77.3 18.4 76 19.4 74.9 19.6C73.7 19.8 71.6 19.4 71.3 18.8C71 18.3 72.5 17.6 73.3 16.4C74 15.2 74.8 12.9 75.7 11.8C76.5 10.7 77 10.4 78.3 9.9C79.6 9.3 81 9.5 83.4 8.4C85.8 7.3 92.4 2.7 92.7 3.3Z" fill="none" stroke="#e4e4e2" stroke-width="4.8" stroke-linejoin="round"/><path d="M92.7 3.3C93.1 3.8 87.1 9.7 85.3 11.7C83.5 13.6 83.1 14 81.9 15C80.8 16 79.6 16.9 78.5 17.7C77.3 18.4 76 19.4 74.9 19.6C73.7 19.8 71.6 19.4 71.3 18.8C71 18.3 72.5 17.6 73.3 16.4C74 15.2 74.8 12.9 75.7 11.8C76.5 10.7 77 10.4 78.3 9.9C79.6 9.3 81 9.5 83.4 8.4C85.8 7.3 92.4 2.7 92.7 3.3Z" fill="#c8cbc3" stroke="#a9ada0" stroke-width="1.1" stroke-linejoin="round"/><path d="M85.6 10.3L95.5 1.8" stroke="#e4e4e2" stroke-width="3.6" fill="none"/><path d="M85.6 10.3L95.5 1.8" stroke="#b2b6aa" stroke-width="1.2" fill="none"/><path d="M168 -7.1C168.5 -6.6 160.4 1 158.2 3.6C156 6.1 156.2 7 154.8 8.4C153.5 9.8 151.6 11 150.1 12C148.6 13 147.8 13.5 145.8 14.3C143.9 15.1 139.1 17.4 138.6 16.7C138 16 141.4 12 142.3 10.1C143.2 8.2 142.8 6.6 144 5.2C145.1 3.9 147.4 2.7 149.3 1.8C151.2 1 152 1.9 155.2 0.4C158.3 -1.1 167.5 -7.6 168 -7.1Z" fill="none" stroke="#e4e4e2" stroke-width="4.8" stroke-linejoin="round"/><path d="M168 -7.1C168.5 -6.6 160.4 1 158.2 3.6C156 6.1 156.2 7 154.8 8.4C153.5 9.8 151.6 11 150.1 12C148.6 13 147.8 13.5 145.8 14.3C143.9 15.1 139.1 17.4 138.6 16.7C138 16 141.4 12 142.3 10.1C143.2 8.2 142.8 6.6 144 5.2C145.1 3.9 147.4 2.7 149.3 1.8C151.2 1 152 1.9 155.2 0.4C158.3 -1.1 167.5 -7.6 168 -7.1Z" fill="#c8cbc3" stroke="#a9ada0" stroke-width="1.1" stroke-linejoin="round"/><path d="M145.5 12.3L135 26.6" stroke="#e4e4e2" stroke-width="3.6" fill="none"/><path d="M145.5 12.3L135 26.6" stroke="#b2b6aa" stroke-width="1.2" fill="none"/><path d="M189.7 3.6C190 4.3 179.7 9.4 177.3 11.7C174.8 14 176.1 16.1 174.9 17.4C173.6 18.7 171.2 19.2 169.6 19.6C167.9 20.1 167 20 165 20.2C163.1 20.3 158.4 21.2 158 20.3C157.5 19.5 161 16.7 162.1 15.2C163.3 13.6 163.6 12.2 165 11.1C166.4 10.1 168.7 9.5 170.5 8.9C172.2 8.2 172.3 8.3 175.5 7.4C178.7 6.5 189.4 2.9 189.7 3.6Z" fill="none" stroke="#e4e4e2" stroke-width="4.8" stroke-linejoin="round"/><path d="M189.7 3.6C190 4.3 179.7 9.4 177.3 11.7C174.8 14 176.1 16.1 174.9 17.4C173.6 18.7 171.2 19.2 169.6 19.6C167.9 20.1 167 20 165 20.2C163.1 20.3 158.4 21.2 158 20.3C157.5 19.5 161 16.7 162.1 15.2C163.3 13.6 163.6 12.2 165 11.1C166.4 10.1 168.7 9.5 170.5 8.9C172.2 8.2 172.3 8.3 175.5 7.4C178.7 6.5 189.4 2.9 189.7 3.6Z" fill="#c8cbc3" stroke="#a9ada0" stroke-width="1.1" stroke-linejoin="round"/><path d="M163.8 16.2L154.3 18.4" stroke="#e4e4e2" stroke-width="3.6" fill="none"/><path d="M163.8 16.2L154.3 18.4" stroke="#b2b6aa" stroke-width="1.2" fill="none"/><path d="M146.2 18.9C146.8 19.4 145.4 23.3 144.9 25.1C144.3 26.9 143.9 28.1 143.1 29.6C142.3 31.1 141.2 33 139.9 33.9C138.6 34.8 136.6 34.4 135.1 35C133.7 35.5 131.9 37.6 131.3 37.3C130.7 37 131.1 34.5 131.4 33C131.8 31.5 132.7 29.8 133.6 28.3C134.4 26.9 135.1 25.2 136.4 24.2C137.7 23.2 139.7 23.2 141.4 22.4C143 21.5 145.7 18.5 146.2 18.9Z" fill="none" stroke="#e4e4e2" stroke-width="4.8" stroke-linejoin="round"/><path d="M146.2 18.9C146.8 19.4 145.4 23.3 144.9 25.1C144.3 26.9 143.9 28.1 143.1 29.6C142.3 31.1 141.2 33 139.9 33.9C138.6 34.8 136.6 34.4 135.1 35C133.7 35.5 131.9 37.6 131.3 37.3C130.7 37 131.1 34.5 131.4 33C131.8 31.5 132.7 29.8 133.6 28.3C134.4 26.9 135.1 25.2 136.4 24.2C137.7 23.2 139.7 23.2 141.4 22.4C143 21.5 145.7 18.5 146.2 18.9Z" fill="#c8cbc3" stroke="#a9ada0" stroke-width="1.1" stroke-linejoin="round"/><path d="M137.2 34.2L134.9 52.3" stroke="#e4e4e2" stroke-width="3.6" fill="none"/><path d="M137.2 34.2L134.9 52.3" stroke="#b2b6aa" stroke-width="1.2" fill="none"/><path d="M30.5 98.9C31.2 99.8 24.7 105.8 23.2 108.4C21.7 111 22.6 113.1 21.5 114.4C20.4 115.8 18 116.2 16.3 116.5C14.6 116.7 13.6 116 11.4 116.1C9.1 116.2 3.9 118 3.1 117C2.3 116 5.7 111.7 6.7 110C7.7 108.2 8.2 107.7 9.3 106.5C10.5 105.4 12 103.6 13.7 102.9C15.3 102.3 16.3 103.3 19.1 102.6C21.9 102 29.8 97.9 30.5 98.9Z" fill="none" stroke="#e4e4e2" stroke-width="4.8" stroke-linejoin="round"/><path d="M30.5 98.9C31.2 99.8 24.7 105.8 23.2 108.4C21.7 111 22.6 113.1 21.5 114.4C20.4 115.8 18 116.2 16.3 116.5C14.6 116.7 13.6 116 11.4 116.1C9.1 116.2 3.9 118 3.1 117C2.3 116 5.7 111.7 6.7 110C7.7 108.2 8.2 107.7 9.3 106.5C10.5 105.4 12 103.6 13.7 102.9C15.3 102.3 16.3 103.3 19.1 102.6C21.9 102 29.8 97.9 30.5 98.9Z" fill="#c8cbc3" stroke="#a9ada0" stroke-width="1.1" stroke-linejoin="round"/><path d="M8.7 115.3L0.1 125.2" stroke="#e4e4e2" stroke-width="3.6" fill="none"/><path d="M8.7 115.3L0.1 125.2" stroke="#b2b6aa" stroke-width="1.2" fill="none"/><path d="M21.7 102.9L32.4 93.9" stroke="#e4e4e2" stroke-width="3.6" fill="none"/><path d="M21.7 102.9L32.4 93.9" stroke="#b2b6aa" stroke-width="1.2" fill="none"/><path d="M53.1 122.3C52.9 122.7 43.6 125.1 41 126.4C38.5 127.7 39 129.3 37.7 130.1C36.3 130.8 34.6 131 33 131C31.3 130.9 29.7 130 27.9 129.8C26.1 129.7 22.4 130.9 22.3 130.2C22.2 129.5 25.9 126.5 27.3 125.5C28.8 124.5 29.5 124.6 30.9 124.1C32.4 123.7 34.4 123 36.2 122.9C38 122.9 39 124.1 41.8 124C44.6 123.9 53.2 121.9 53.1 122.3Z" fill="none" stroke="#e4e4e2" stroke-width="4.8" stroke-linejoin="round"/><path d="M53.1 122.3C52.9 122.7 43.6 125.1 41 126.4C38.5 127.7 39 129.3 37.7 130.1C36.3 130.8 34.6 131 33 131C31.3 130.9 29.7 130 27.9 129.8C26.1 129.7 22.4 130.9 22.3 130.2C22.2 129.5 25.9 126.5 27.3 125.5C28.8 124.5 29.5 124.6 30.9 124.1C32.4 123.7 34.4 123 36.2 122.9C38 122.9 39 124.1 41.8 124C44.6 123.9 53.2 121.9 53.1 122.3Z" fill="#c8cbc3" stroke="#a9ada0" stroke-width="1.1" stroke-linejoin="round"/><path d="M67 127.1C67.6 127.5 64.5 131.7 63.8 133.7C63.1 135.7 63.8 137.8 62.8 139.2C61.8 140.6 59.3 141.3 57.8 142.3C56.3 143.3 55.3 144.5 53.7 145C52.2 145.5 49.5 146.3 48.6 145.5C47.7 144.6 48 141.8 48.4 140C48.8 138.2 49.8 136.2 51 134.8C52.2 133.4 54 132.2 55.5 131.6C57.1 130.9 58.3 131.7 60.2 131C62.1 130.2 66.4 126.6 67 127.1Z" fill="none" stroke="#e4e4e2" stroke-width="4.8" stroke-linejoin="round"/><path d="M67 127.1C67.6 127.5 64.5 131.7 63.8 133.7C63.1 135.7 63.8 137.8 62.8 139.2C61.8 140.6 59.3 141.3 57.8 142.3C56.3 143.3 55.3 144.5 53.7 145C52.2 145.5 49.5 146.3 48.6 145.5C47.7 144.6 48 141.8 48.4 140C48.8 138.2 49.8 136.2 51 134.8C52.2 133.4 54 132.2 55.5 131.6C57.1 130.9 58.3 131.7 60.2 131C62.1 130.2 66.4 126.6 67 127.1Z" fill="#c8cbc3" stroke="#a9ada0" stroke-width="1.1" stroke-linejoin="round"/><path d="M50.9 142.8L39.9 156.7" stroke="#e4e4e2" stroke-width="3.6" fill="none"/><path d="M50.9 142.8L39.9 156.7" stroke="#b2b6aa" stroke-width="1.2" fill="none"/><path d="M65.4 132.6L76.7 129" stroke="#e4e4e2" stroke-width="3.6" fill="none"/><path d="M65.4 132.6L76.7 129" stroke="#b2b6aa" stroke-width="1.2" fill="none"/><path d="M85.1 109.5C86 109.7 85.2 112.9 85 114.6C84.8 116.2 84.4 117.8 83.7 119.4C83.1 121.1 81.9 123.3 80.9 124.4C79.9 125.6 79.1 125.1 77.7 126.3C76.4 127.4 73.6 131.6 72.9 131.4C72.1 131.1 73.4 126.6 73.4 124.7C73.5 122.8 72.8 121.5 73.3 119.9C73.8 118.3 75.5 116.1 76.6 114.9C77.7 113.8 78.3 113.8 79.7 112.9C81.1 112 84.2 109.2 85.1 109.5Z" fill="none" stroke="#e4e4e2" stroke-width="4.8" stroke-linejoin="round"/><path d="M85.1 109.5C86 109.7 85.2 112.9 85 114.6C84.8 116.2 84.4 117.8 83.7 119.4C83.1 121.1 81.9 123.3 80.9 124.4C79.9 125.6 79.1 125.1 77.7 126.3C76.4 127.4 73.6 131.6 72.9 131.4C72.1 131.1 73.4 126.6 73.4 124.7C73.5 122.8 72.8 121.5 73.3 119.9C73.8 118.3 75.5 116.1 76.6 114.9C77.7 113.8 78.3 113.8 79.7 112.9C81.1 112 84.2 109.2 85.1 109.5Z" fill="#c8cbc3" stroke="#a9ada0" stroke-width="1.1" stroke-linejoin="round"/><path d="M70.2 147C70.6 147.4 65.9 154.7 64.9 157.1C64 159.5 65.3 160 64.6 161.5C63.9 163 62.2 165 60.8 166C59.5 167 58 166.6 56.6 167.4C55.3 168.2 53 171.3 52.6 170.7C52.1 170.2 53.7 165.9 53.9 164.1C54.2 162.3 53.4 161.2 54 160C54.6 158.8 56 157.7 57.4 156.8C58.9 155.9 60.3 156.4 62.4 154.7C64.6 153.1 69.8 146.6 70.2 147Z" fill="none" stroke="#e4e4e2" stroke-width="4.8" stroke-linejoin="round"/><path d="M70.2 147C70.6 147.4 65.9 154.7 64.9 157.1C64 159.5 65.3 160 64.6 161.5C63.9 163 62.2 165 60.8 166C59.5 167 58 166.6 56.6 167.4C55.3 168.2 53 171.3 52.6 170.7C52.1 170.2 53.7 165.9 53.9 164.1C54.2 162.3 53.4 161.2 54 160C54.6 158.8 56 157.7 57.4 156.8C58.9 155.9 60.3 156.4 62.4 154.7C64.6 153.1 69.8 146.6 70.2 147Z" fill="#c8cbc3" stroke="#a9ada0" stroke-width="1.1" stroke-linejoin="round"/><path d="M79.7 140.7C79.9 139.9 87.7 141.1 90 141.1C92.3 141.1 92.1 140.5 93.7 140.7C95.3 140.9 98 141.4 99.5 142.5C101 143.6 101.6 145.7 102.5 147.2C103.5 148.6 105.9 150.4 105.2 151C104.6 151.7 100.8 151 98.9 151.1C97 151.3 95 152.1 93.6 151.8C92.2 151.4 91.5 150 90.7 149C89.8 148.1 90.4 147.5 88.6 146.1C86.8 144.7 79.5 141.5 79.7 140.7Z" fill="none" stroke="#e4e4e2" stroke-width="4.8" stroke-linejoin="round"/><path d="M79.7 140.7C79.9 139.9 87.7 141.1 90 141.1C92.3 141.1 92.1 140.5 93.7 140.7C95.3 140.9 98 141.4 99.5 142.5C101 143.6 101.6 145.7 102.5 147.2C103.5 148.6 105.9 150.4 105.2 151C104.6 151.7 100.8 151 98.9 151.1C97 151.3 95 152.1 93.6 151.8C92.2 151.4 91.5 150 90.7 149C89.8 148.1 90.4 147.5 88.6 146.1C86.8 144.7 79.5 141.5 79.7 140.7Z" fill="#c8cbc3" stroke="#a9ada0" stroke-width="1.1" stroke-linejoin="round"/><path d="M102 147.3L117.2 151.6" stroke="#e4e4e2" stroke-width="3.6" fill="none"/><path d="M102 147.3L117.2 151.6" stroke="#b2b6aa" stroke-width="1.2" fill="none"/><path d="M102 145.3L109.9 147.5" stroke="#e4e4e2" stroke-width="3.6" fill="none"/><path d="M102 145.3L109.9 147.5" stroke="#b2b6aa" stroke-width="1.2" fill="none"/><path d="M127 85C127.6 85.4 120.6 96.4 119.2 99.7C117.8 102.9 119.4 102.8 118.8 104.6C118.2 106.5 117 109.2 115.7 110.7C114.4 112.1 112.9 112.3 111.1 113.5C109.3 114.7 105.6 118.3 104.9 117.9C104.2 117.5 106.3 113.2 106.7 111.2C107.1 109.1 106.6 107.5 107.3 105.7C108.1 103.8 109.6 101.6 111 100.2C112.4 98.8 113.3 99.8 116 97.3C118.7 94.8 126.5 84.6 127 85Z" fill="none" stroke="#e4e4e2" stroke-width="4.8" stroke-linejoin="round"/><path d="M127 85C127.6 85.4 120.6 96.4 119.2 99.7C117.8 102.9 119.4 102.8 118.8 104.6C118.2 106.5 117 109.2 115.7 110.7C114.4 112.1 112.9 112.3 111.1 113.5C109.3 114.7 105.6 118.3 104.9 117.9C104.2 117.5 106.3 113.2 106.7 111.2C107.1 109.1 106.6 107.5 107.3 105.7C108.1 103.8 109.6 101.6 111 100.2C112.4 98.8 113.3 99.8 116 97.3C118.7 94.8 126.5 84.6 127 85Z" fill="#c8cbc3" stroke="#a9ada0" stroke-width="1.1" stroke-linejoin="round"/><path d="M114.3 93.5L112.4 80.8" stroke="#e4e4e2" stroke-width="3.6" fill="none"/><path d="M114.3 93.5L112.4 80.8" stroke="#b2b6aa" stroke-width="1.2" fill="none"/><path d="M104 109.6L90.2 114.8" stroke="#e4e4e2" stroke-width="3.6" fill="none"/><path d="M104 109.6L90.2 114.8" stroke="#b2b6aa" stroke-width="1.2" fill="none"/><path d="M135.8 81.4C135.8 82.1 128.1 84.8 125.8 86C123.6 87.1 124.2 87.8 122.5 88.3C120.9 88.8 117.9 88.8 115.9 89C113.9 89.3 112.7 90 110.7 89.7C108.7 89.3 104 88 103.9 87C103.7 86.1 108.1 84.9 109.9 83.9C111.7 82.9 113 81.7 114.5 81C116.1 80.2 117.4 79.2 119.3 79.4C121.1 79.5 123 81.6 125.8 81.9C128.5 82.3 135.8 80.7 135.8 81.4Z" fill="none" stroke="#e4e4e2" stroke-width="4.8" stroke-linejoin="round"/><path d="M135.8 81.4C135.8 82.1 128.1 84.8 125.8 86C123.6 87.1 124.2 87.8 122.5 88.3C120.9 88.8 117.9 88.8 115.9 89C113.9 89.3 112.7 90 110.7 89.7C108.7 89.3 104 88 103.9 87C103.7 86.1 108.1 84.9 109.9 83.9C111.7 82.9 113 81.7 114.5 81C116.1 80.2 117.4 79.2 119.3 79.4C121.1 79.5 123 81.6 125.8 81.9C128.5 82.3 135.8 80.7 135.8 81.4Z" fill="#c8cbc3" stroke="#a9ada0" stroke-width="1.1" stroke-linejoin="round"/><path d="M112.4 89.7L102.7 100.2" stroke="#e4e4e2" stroke-width="3.6" fill="none"/><path d="M112.4 89.7L102.7 100.2" stroke="#b2b6aa" stroke-width="1.2" fill="none"/><path d="M128.2 116.2C128.5 115.8 133.7 117.1 135.4 117.3C137.1 117.6 137.1 117.5 138.2 118C139.3 118.5 140.8 119.8 142 120.5C143.2 121.3 144.6 121.4 145.5 122.5C146.4 123.7 147.6 126.6 147.4 127.4C147.1 128.1 145.4 127 144 126.9C142.6 126.9 140.6 127.6 139 127C137.4 126.3 135.3 124 134.4 122.8C133.5 121.7 134.5 121.4 133.4 120.3C132.4 119.2 127.9 116.7 128.2 116.2Z" fill="none" stroke="#e4e4e2" stroke-width="4.8" stroke-linejoin="round"/><path d="M128.2 116.2C128.5 115.8 133.7 117.1 135.4 117.3C137.1 117.6 137.1 117.5 138.2 118C139.3 118.5 140.8 119.8 142 120.5C143.2 121.3 144.6 121.4 145.5 122.5C146.4 123.7 147.6 126.6 147.4 127.4C147.1 128.1 145.4 127 144 126.9C142.6 126.9 140.6 127.6 139 127C137.4 126.3 135.3 124 134.4 122.8C133.5 121.7 134.5 121.4 133.4 120.3C132.4 119.2 127.9 116.7 128.2 116.2Z" fill="#c8cbc3" stroke="#a9ada0" stroke-width="1.1" stroke-linejoin="round"/><path d="M142.9 102.7C142.9 101.9 151.5 101.9 154.4 101.1C157.3 100.3 158 98.3 160.3 97.9C162.6 97.5 166.1 97.9 168.2 98.6C170.4 99.4 171.7 100.9 173.4 102.3C175.2 103.7 179 105.7 178.8 106.9C178.7 108.1 174.5 108.7 172.5 109.6C170.6 110.6 169.5 112.2 167.2 112.4C165 112.6 161.3 111.9 159.2 110.9C157.1 109.8 157.3 107.5 154.6 106.1C151.9 104.8 143 103.6 142.9 102.7Z" fill="none" stroke="#e4e4e2" stroke-width="4.8" stroke-linejoin="round"/><path d="M142.9 102.7C142.9 101.9 151.5 101.9 154.4 101.1C157.3 100.3 158 98.3 160.3 97.9C162.6 97.5 166.1 97.9 168.2 98.6C170.4 99.4 171.7 100.9 173.4 102.3C175.2 103.7 179 105.7 178.8 106.9C178.7 108.1 174.5 108.7 172.5 109.6C170.6 110.6 169.5 112.2 167.2 112.4C165 112.6 161.3 111.9 159.2 110.9C157.1 109.8 157.3 107.5 154.6 106.1C151.9 104.8 143 103.6 142.9 102.7Z" fill="#c8cbc3" stroke="#a9ada0" stroke-width="1.1" stroke-linejoin="round"/><path d="M154.7 108L144.4 115.7" stroke="#e4e4e2" stroke-width="3.6" fill="none"/><path d="M154.7 108L144.4 115.7" stroke="#b2b6aa" stroke-width="1.2" fill="none"/><path d="M158.9 79.4C159.6 79.7 159.2 82 159.3 83.7C159.4 85.3 159.7 87.6 159.6 89.3C159.5 90.9 159.5 92 158.8 93.5C158 95.1 156.3 97.2 155 98.5C153.7 99.8 151.7 102 151 101.5C150.3 101.1 150.8 97.3 150.9 95.8C151 94.3 151.5 94 151.8 92.4C152.1 90.8 152.1 87.7 152.7 86.1C153.2 84.4 154.1 83.5 155.2 82.4C156.2 81.3 158.3 79.2 158.9 79.4Z" fill="none" stroke="#e4e4e2" stroke-width="4.8" stroke-linejoin="round"/><path d="M158.9 79.4C159.6 79.7 159.2 82 159.3 83.7C159.4 85.3 159.7 87.6 159.6 89.3C159.5 90.9 159.5 92 158.8 93.5C158 95.1 156.3 97.2 155 98.5C153.7 99.8 151.7 102 151 101.5C150.3 101.1 150.8 97.3 150.9 95.8C151 94.3 151.5 94 151.8 92.4C152.1 90.8 152.1 87.7 152.7 86.1C153.2 84.4 154.1 83.5 155.2 82.4C156.2 81.3 158.3 79.2 158.9 79.4Z" fill="#c8cbc3" stroke="#a9ada0" stroke-width="1.1" stroke-linejoin="round"/><path d="M113.6 164.6C114.4 165.6 109.7 170.9 108.3 173.5C106.9 176 107 177.9 105.3 179.6C103.6 181.3 100.3 182.9 98.1 183.8C96 184.8 94.6 185.1 92.2 185.5C89.8 185.8 84.2 187 83.7 185.9C83.2 184.7 88 180.7 89.2 178.5C90.4 176.4 89.4 174.2 90.9 172.8C92.4 171.4 96 171.1 98.1 170.2C100.2 169.3 100.9 168.3 103.5 167.3C106.1 166.4 112.8 163.6 113.6 164.6Z" fill="none" stroke="#e4e4e2" stroke-width="4.8" stroke-linejoin="round"/><path d="M113.6 164.6C114.4 165.6 109.7 170.9 108.3 173.5C106.9 176 107 177.9 105.3 179.6C103.6 181.3 100.3 182.9 98.1 183.8C96 184.8 94.6 185.1 92.2 185.5C89.8 185.8 84.2 187 83.7 185.9C83.2 184.7 88 180.7 89.2 178.5C90.4 176.4 89.4 174.2 90.9 172.8C92.4 171.4 96 171.1 98.1 170.2C100.2 169.3 100.9 168.3 103.5 167.3C106.1 166.4 112.8 163.6 113.6 164.6Z" fill="#c8cbc3" stroke="#a9ada0" stroke-width="1.1" stroke-linejoin="round"/><path d="M93.5 182.9L81.1 191.6" stroke="#e4e4e2" stroke-width="3.6" fill="none"/><path d="M93.5 182.9L81.1 191.6" stroke="#b2b6aa" stroke-width="1.2" fill="none"/><path d="M103.6 168.1L112 147.9" stroke="#e4e4e2" stroke-width="3.6" fill="none"/><path d="M103.6 168.1L112 147.9" stroke="#b2b6aa" stroke-width="1.2" fill="none"/><path d="M131 190.1C131.4 190.6 130.9 194.2 130.3 195.5C129.7 196.9 128.6 197.3 127.5 198.4C126.3 199.6 124.8 201.5 123.3 202.4C121.9 203.3 120.3 202.9 118.8 203.7C117.2 204.6 114.4 207.9 114.1 207.5C113.7 207 116.1 202.7 116.9 201C117.7 199.2 117.9 198.1 118.9 196.9C120 195.8 121.7 194.7 123.3 194.1C124.8 193.4 126.9 193.5 128.2 192.8C129.5 192.2 130.7 189.7 131 190.1Z" fill="none" stroke="#e4e4e2" stroke-width="4.8" stroke-linejoin="round"/><path d="M131 190.1C131.4 190.6 130.9 194.2 130.3 195.5C129.7 196.9 128.6 197.3 127.5 198.4C126.3 199.6 124.8 201.5 123.3 202.4C121.9 203.3 120.3 202.9 118.8 203.7C117.2 204.6 114.4 207.9 114.1 207.5C113.7 207 116.1 202.7 116.9 201C117.7 199.2 117.9 198.1 118.9 196.9C120 195.8 121.7 194.7 123.3 194.1C124.8 193.4 126.9 193.5 128.2 192.8C129.5 192.2 130.7 189.7 131 190.1Z" fill="#c8cbc3" stroke="#a9ada0" stroke-width="1.1" stroke-linejoin="round"/><path d="M76.7 167.7C77.1 167.4 81.8 172.8 83.4 174.5C85 176.1 85.6 176.6 86.3 177.6C87.1 178.6 87.1 179.2 87.7 180.5C88.3 181.9 89.8 184.3 90 185.7C90.3 187.1 89.7 189 89.2 189.1C88.6 189.3 87.6 187.6 86.6 186.9C85.6 186.1 84 185.6 83 184.5C82 183.5 80.9 181.7 80.5 180.4C80.1 179 81.4 178.5 80.8 176.4C80.1 174.3 76.3 168.1 76.7 167.7Z" fill="none" stroke="#e4e4e2" stroke-width="4.8" stroke-linejoin="round"/><path d="M76.7 167.7C77.1 167.4 81.8 172.8 83.4 174.5C85 176.1 85.6 176.6 86.3 177.6C87.1 178.6 87.1 179.2 87.7 180.5C88.3 181.9 89.8 184.3 90 185.7C90.3 187.1 89.7 189 89.2 189.1C88.6 189.3 87.6 187.6 86.6 186.9C85.6 186.1 84 185.6 83 184.5C82 183.5 80.9 181.7 80.5 180.4C80.1 179 81.4 178.5 80.8 176.4C80.1 174.3 76.3 168.1 76.7 167.7Z" fill="#c8cbc3" stroke="#a9ada0" stroke-width="1.1" stroke-linejoin="round"/><path d="M85.7 187.6L91.3 204.9" stroke="#e4e4e2" stroke-width="3.6" fill="none"/><path d="M85.7 187.6L91.3 204.9" stroke="#b2b6aa" stroke-width="1.2" fill="none"/><path d="M120 149.2C120.4 149.4 116.9 157.2 116 159.9C115.1 162.6 115 163.6 114.5 165.4C114 167.2 113.9 168.9 113 170.7C112.1 172.4 110.8 174.2 109.4 175.7C107.9 177.1 105 179.8 104.3 179.4C103.5 179 104.7 175.2 104.9 173.1C105.1 171.1 104.7 169 105.5 167C106.3 165.1 108.5 162.9 109.9 161.6C111.3 160.2 112.1 160.8 113.8 158.7C115.5 156.7 119.7 149 120 149.2Z" fill="none" stroke="#e4e4e2" stroke-width="4.8" stroke-linejoin="round"/><path d="M120 149.2C120.4 149.4 116.9 157.2 116 159.9C115.1 162.6 115 163.6 114.5 165.4C114 167.2 113.9 168.9 113 170.7C112.1 172.4 110.8 174.2 109.4 175.7C107.9 177.1 105 179.8 104.3 179.4C103.5 179 104.7 175.2 104.9 173.1C105.1 171.1 104.7 169 105.5 167C106.3 165.1 108.5 162.9 109.9 161.6C111.3 160.2 112.1 160.8 113.8 158.7C115.5 156.7 119.7 149 120 149.2Z" fill="#c8cbc3" stroke="#a9ada0" stroke-width="1.1" stroke-linejoin="round"/><path d="M111.8 174L113 192.5" stroke="#e4e4e2" stroke-width="3.6" fill="none"/><path d="M111.8 174L113 192.5" stroke="#b2b6aa" stroke-width="1.2" fill="none"/><path d="M107 172.7L100.5 187.1" stroke="#e4e4e2" stroke-width="3.6" fill="none"/><path d="M107 172.7L100.5 187.1" stroke="#b2b6aa" stroke-width="1.2" fill="none"/><path d="M168.2 152.5C168 153.1 164.4 153.9 163 154.5C161.6 155.1 161.1 155.2 159.7 155.8C158.3 156.3 156.2 157.6 154.9 157.9C153.5 158.2 153 157.9 151.8 157.6C150.6 157.3 147.6 156.7 147.6 155.9C147.6 155 150.5 153.2 151.8 152.4C153.1 151.5 154.3 151.2 155.4 150.7C156.5 150.3 156.7 149.7 158.2 149.7C159.6 149.7 162.6 150.2 164.3 150.7C165.9 151.2 168.4 151.8 168.2 152.5Z" fill="none" stroke="#e4e4e2" stroke-width="4.8" stroke-linejoin="round"/><path d="M168.2 152.5C168 153.1 164.4 153.9 163 154.5C161.6 155.1 161.1 155.2 159.7 155.8C158.3 156.3 156.2 157.6 154.9 157.9C153.5 158.2 153 157.9 151.8 157.6C150.6 157.3 147.6 156.7 147.6 155.9C147.6 155 150.5 153.2 151.8 152.4C153.1 151.5 154.3 151.2 155.4 150.7C156.5 150.3 156.7 149.7 158.2 149.7C159.6 149.7 162.6 150.2 164.3 150.7C165.9 151.2 168.4 151.8 168.2 152.5Z" fill="#c8cbc3" stroke="#a9ada0" stroke-width="1.1" stroke-linejoin="round"/><path d="M151 153.6L131.6 150.8" stroke="#e4e4e2" stroke-width="3.6" fill="none"/><path d="M151 153.6L131.6 150.8" stroke="#b2b6aa" stroke-width="1.2" fill="none"/><path d="M169.1 115.1C169.6 115.1 168.7 126.4 168.9 129.7C169.2 133 170.2 133.1 170.7 135C171.3 136.8 172.2 139.3 172.1 140.9C171.9 142.4 170.7 142.9 169.8 144.4C168.8 146 167.1 150.2 166.4 150.3C165.7 150.4 165.9 146.5 165.5 144.9C165.1 143.2 164.2 142.3 163.9 140.4C163.7 138.6 163.7 135.7 164.1 133.9C164.4 132.2 165.3 133.1 166.1 130C166.9 126.8 168.6 115.2 169.1 115.1Z" fill="none" stroke="#e4e4e2" stroke-width="4.8" stroke-linejoin="round"/><path d="M169.1 115.1C169.6 115.1 168.7 126.4 168.9 129.7C169.2 133 170.2 133.1 170.7 135C171.3 136.8 172.2 139.3 172.1 140.9C171.9 142.4 170.7 142.9 169.8 144.4C168.8 146 167.1 150.2 166.4 150.3C165.7 150.4 165.9 146.5 165.5 144.9C165.1 143.2 164.2 142.3 163.9 140.4C163.7 138.6 163.7 135.7 164.1 133.9C164.4 132.2 165.3 133.1 166.1 130C166.9 126.8 168.6 115.2 169.1 115.1Z" fill="#c8cbc3" stroke="#a9ada0" stroke-width="1.1" stroke-linejoin="round"/><path d="M164.8 130.2L160.5 119.5" stroke="#e4e4e2" stroke-width="3.6" fill="none"/><path d="M164.8 130.2L160.5 119.5" stroke="#b2b6aa" stroke-width="1.2" fill="none"/><path d="M52.1 192.8C52.9 192.9 51.9 198.1 51.8 200.1C51.8 202 51.9 202.9 51.8 204.4C51.6 206 51.9 208.1 51.1 209.4C50.2 210.7 48.2 211 46.8 212.2C45.3 213.4 43.1 216.7 42.4 216.5C41.6 216.2 42.5 212.6 42.4 210.8C42.3 209 41.4 207.1 41.9 205.6C42.3 204.1 44 202.6 44.8 201.7C45.7 200.7 45.8 201.4 47 199.9C48.2 198.4 51.3 192.8 52.1 192.8Z" fill="none" stroke="#e4e4e2" stroke-width="4.8" stroke-linejoin="round"/><path d="M52.1 192.8C52.9 192.9 51.9 198.1 51.8 200.1C51.8 202 51.9 202.9 51.8 204.4C51.6 206 51.9 208.1 51.1 209.4C50.2 210.7 48.2 211 46.8 212.2C45.3 213.4 43.1 216.7 42.4 216.5C41.6 216.2 42.5 212.6 42.4 210.8C42.3 209 41.4 207.1 41.9 205.6C42.3 204.1 44 202.6 44.8 201.7C45.7 200.7 45.8 201.4 47 199.9C48.2 198.4 51.3 192.8 52.1 192.8Z" fill="#c8cbc3" stroke="#a9ada0" stroke-width="1.1" stroke-linejoin="round"/><path d="M42.4 210.2L34.8 221.4" stroke="#e4e4e2" stroke-width="3.6" fill="none"/><path d="M42.4 210.2L34.8 221.4" stroke="#b2b6aa" stroke-width="1.2" fill="none"/><path d="M187.6 197.3C187.7 197.8 182.3 199.6 180.8 200.5C179.3 201.4 179.3 202.1 178.6 202.6C178 203.1 177.7 203.1 177 203.3C176.4 203.5 175.5 203.9 174.6 203.7C173.7 203.6 171.8 203.2 171.6 202.6C171.4 202 172.9 201.1 173.6 200.3C174.4 199.5 175.3 198.4 176.2 197.7C177 197 178.3 196.3 178.9 196.2C179.5 196.1 178.5 197 179.9 197.2C181.3 197.3 187.4 196.7 187.6 197.3Z" fill="none" stroke="#e4e4e2" stroke-width="4.8" stroke-linejoin="round"/><path d="M187.6 197.3C187.7 197.8 182.3 199.6 180.8 200.5C179.3 201.4 179.3 202.1 178.6 202.6C178 203.1 177.7 203.1 177 203.3C176.4 203.5 175.5 203.9 174.6 203.7C173.7 203.6 171.8 203.2 171.6 202.6C171.4 202 172.9 201.1 173.6 200.3C174.4 199.5 175.3 198.4 176.2 197.7C177 197 178.3 196.3 178.9 196.2C179.5 196.1 178.5 197 179.9 197.2C181.3 197.3 187.4 196.7 187.6 197.3Z" fill="#c8cbc3" stroke="#a9ada0" stroke-width="1.1" stroke-linejoin="round"/><path d="M182.2 198.3L206.4 190.8" stroke="#e4e4e2" stroke-width="3.6" fill="none"/><path d="M182.2 198.3L206.4 190.8" stroke="#b2b6aa" stroke-width="1.2" fill="none"/><path d="M112.2 223.7C112.7 222.7 115.1 223.4 117.3 224.1C119.5 224.8 122.9 226.2 125.4 227.8C127.9 229.4 130.7 231.6 132.5 233.8C134.3 236.1 135.4 238.7 136.4 241.5C137.3 244.3 138.9 249.5 138 250.4C137.2 251.3 133.8 248.3 131.2 247C128.6 245.8 124.8 244.5 122.3 242.9C119.8 241.4 117.6 239.9 116.2 237.8C114.9 235.7 114.7 232.4 114 230.1C113.3 227.7 111.6 224.7 112.2 223.7Z" fill="none" stroke="#e4e4e2" stroke-width="4.8" stroke-linejoin="round"/><path d="M112.2 223.7C112.7 222.7 115.1 223.4 117.3 224.1C119.5 224.8 122.9 226.2 125.4 227.8C127.9 229.4 130.7 231.6 132.5 233.8C134.3 236.1 135.4 238.7 136.4 241.5C137.3 244.3 138.9 249.5 138 250.4C137.2 251.3 133.8 248.3 131.2 247C128.6 245.8 124.8 244.5 122.3 242.9C119.8 241.4 117.6 239.9 116.2 237.8C114.9 235.7 114.7 232.4 114 230.1C113.3 227.7 111.6 224.7 112.2 223.7Z" fill="#c8cbc3" stroke="#a9ada0" stroke-width="1.1" stroke-linejoin="round"/><path d="M150.3 205.5C151.1 205.8 149.3 215.8 149.4 218.7C149.6 221.7 151.1 221.7 151.1 223.4C151.1 225 150.1 226.7 149.4 228.5C148.6 230.3 147.8 232.7 146.7 234.2C145.6 235.7 143.6 237.9 142.8 237.3C142.1 236.8 142.6 232.7 142.1 231.1C141.6 229.4 140.2 229 140 227.6C139.8 226.2 139.9 224.3 140.7 222.6C141.5 220.8 143.2 220 144.8 217.2C146.4 214.4 149.6 205.3 150.3 205.5Z" fill="none" stroke="#e4e4e2" stroke-width="4.8" stroke-linejoin="round"/><path d="M150.3 205.5C151.1 205.8 149.3 215.8 149.4 218.7C149.6 221.7 151.1 221.7 151.1 223.4C151.1 225 150.1 226.7 149.4 228.5C148.6 230.3 147.8 232.7 146.7 234.2C145.6 235.7 143.6 237.9 142.8 237.3C142.1 236.8 142.6 232.7 142.1 231.1C141.6 229.4 140.2 229 140 227.6C139.8 226.2 139.9 224.3 140.7 222.6C141.5 220.8 143.2 220 144.8 217.2C146.4 214.4 149.6 205.3 150.3 205.5Z" fill="#c8cbc3" stroke="#a9ada0" stroke-width="1.1" stroke-linejoin="round"/><path d="M143 233.6L132.8 258.4" stroke="#e4e4e2" stroke-width="3.6" fill="none"/><path d="M143 233.6L132.8 258.4" stroke="#b2b6aa" stroke-width="1.2" fill="none"/><path d="M176.2 217.3C176.7 216.8 183.4 220.9 185.5 221.8C187.7 222.7 187.4 222 189.1 222.8C190.7 223.6 193.8 225.3 195.5 226.7C197.2 228.2 197.9 230.2 199.1 231.7C200.2 233.3 202.9 235.8 202.4 236.1C202 236.4 198.2 234.1 196.3 233.5C194.4 232.9 192.5 233.4 190.9 232.7C189.4 232 188.3 230.6 187 229.4C185.6 228.2 184.7 227.3 182.9 225.3C181.1 223.3 175.8 217.9 176.2 217.3Z" fill="none" stroke="#e4e4e2" stroke-width="4.8" stroke-linejoin="round"/><path d="M176.2 217.3C176.7 216.8 183.4 220.9 185.5 221.8C187.7 222.7 187.4 222 189.1 222.8C190.7 223.6 193.8 225.3 195.5 226.7C197.2 228.2 197.9 230.2 199.1 231.7C200.2 233.3 202.9 235.8 202.4 236.1C202 236.4 198.2 234.1 196.3 233.5C194.4 232.9 192.5 233.4 190.9 232.7C189.4 232 188.3 230.6 187 229.4C185.6 228.2 184.7 227.3 182.9 225.3C181.1 223.3 175.8 217.9 176.2 217.3Z" fill="#c8cbc3" stroke="#a9ada0" stroke-width="1.1" stroke-linejoin="round"/><path d="M236.6 232.1C236.9 233 233.5 234.9 231.7 235.8C229.9 236.6 227.6 236.9 225.7 237.2C223.9 237.5 222.4 237.8 220.8 237.5C219.2 237.3 218 236.7 216.4 235.7C214.8 234.7 211 232.9 211 231.7C211.1 230.5 215.1 229 216.7 228.4C218.4 227.8 219.3 228.1 221 227.8C222.7 227.5 225.6 226.2 227.1 226.7C228.5 227.1 228.2 229.5 229.7 230.4C231.3 231.3 236.2 231.2 236.6 232.1Z" fill="none" stroke="#e4e4e2" stroke-width="4.8" stroke-linejoin="round"/><path d="M236.6 232.1C236.9 233 233.5 234.9 231.7 235.8C229.9 236.6 227.6 236.9 225.7 237.2C223.9 237.5 222.4 237.8 220.8 237.5C219.2 237.3 218 236.7 216.4 235.7C214.8 234.7 211 232.9 211 231.7C211.1 230.5 215.1 229 216.7 228.4C218.4 227.8 219.3 228.1 221 227.8C222.7 227.5 225.6 226.2 227.1 226.7C228.5 227.1 228.2 229.5 229.7 230.4C231.3 231.3 236.2 231.2 236.6 232.1Z" fill="#c8cbc3" stroke="#a9ada0" stroke-width="1.1" stroke-linejoin="round"/><path d="M231.4 233.1L247.9 238.1" stroke="#e4e4e2" stroke-width="3.6" fill="none"/><path d="M231.4 233.1L247.9 238.1" stroke="#b2b6aa" stroke-width="1.2" fill="none"/><path d="M147.6 248.2C147.8 247.3 151.9 246.5 153.4 246.1C154.9 245.7 155.5 246.2 156.9 245.9C158.2 245.6 160.4 244 161.5 244.3C162.7 244.6 162.8 246.7 163.9 247.7C165.1 248.7 168.4 249.4 168.5 250.3C168.5 251.2 165.4 252.4 164.1 253C162.9 253.6 162.5 253.8 161.2 253.9C159.8 253.9 157.5 253.6 156.1 253.3C154.7 252.9 153.9 252.5 152.5 251.6C151.1 250.8 147.5 249.1 147.6 248.2Z" fill="none" stroke="#e4e4e2" stroke-width="4.8" stroke-linejoin="round"/><path d="M147.6 248.2C147.8 247.3 151.9 246.5 153.4 246.1C154.9 245.7 155.5 246.2 156.9 245.9C158.2 245.6 160.4 244 161.5 244.3C162.7 244.6 162.8 246.7 163.9 247.7C165.1 248.7 168.4 249.4 168.5 250.3C168.5 251.2 165.4 252.4 164.1 253C162.9 253.6 162.5 253.8 161.2 253.9C159.8 253.9 157.5 253.6 156.1 253.3C154.7 252.9 153.9 252.5 152.5 251.6C151.1 250.8 147.5 249.1 147.6 248.2Z" fill="#c8cbc3" stroke="#a9ada0" stroke-width="1.1" stroke-linejoin="round"/><path d="M165.8 247.8L172.5 243.1" stroke="#e4e4e2" stroke-width="3.6" fill="none"/><path d="M165.8 247.8L172.5 243.1" stroke="#b2b6aa" stroke-width="1.2" fill="none"/><path d="M185.8 250.2C186.2 249.9 190 253.9 191.8 254.8C193.5 255.7 195 255.2 196.3 255.8C197.6 256.3 198.7 256.7 199.5 258C200.3 259.3 200.3 262.1 201.1 263.6C201.9 265.2 204.6 266.8 204.3 267.2C204 267.6 200.9 266.6 199.2 266.1C197.6 265.5 195.8 264.7 194.6 263.9C193.4 263 192.8 262 192 260.8C191.1 259.7 190.5 258.6 189.5 256.8C188.5 255 185.5 250.6 185.8 250.2Z" fill="none" stroke="#e4e4e2" stroke-width="4.8" stroke-linejoin="round"/><path d="M185.8 250.2C186.2 249.9 190 253.9 191.8 254.8C193.5 255.7 195 255.2 196.3 255.8C197.6 256.3 198.7 256.7 199.5 258C200.3 259.3 200.3 262.1 201.1 263.6C201.9 265.2 204.6 266.8 204.3 267.2C204 267.6 200.9 266.6 199.2 266.1C197.6 265.5 195.8 264.7 194.6 263.9C193.4 263 192.8 262 192 260.8C191.1 259.7 190.5 258.6 189.5 256.8C188.5 255 185.5 250.6 185.8 250.2Z" fill="#c8cbc3" stroke="#a9ada0" stroke-width="1.1" stroke-linejoin="round"/><path d="M60.5 232.5C61.2 232.7 55.5 240.4 54 243C52.5 245.7 52.5 247.1 51.6 248.6C50.7 250 49.9 251.1 48.7 252C47.4 252.8 45.8 253 44 253.7C42.2 254.5 38.5 256.6 37.8 256.4C37.1 256.1 38.9 253.7 39.5 252C40.1 250.3 40.3 247.4 41.4 246C42.5 244.5 44.7 244 46.1 243.2C47.5 242.5 47.3 243.3 49.7 241.5C52.1 239.7 59.8 232.2 60.5 232.5Z" fill="none" stroke="#e4e4e2" stroke-width="4.8" stroke-linejoin="round"/><path d="M60.5 232.5C61.2 232.7 55.5 240.4 54 243C52.5 245.7 52.5 247.1 51.6 248.6C50.7 250 49.9 251.1 48.7 252C47.4 252.8 45.8 253 44 253.7C42.2 254.5 38.5 256.6 37.8 256.4C37.1 256.1 38.9 253.7 39.5 252C40.1 250.3 40.3 247.4 41.4 246C42.5 244.5 44.7 244 46.1 243.2C47.5 242.5 47.3 243.3 49.7 241.5C52.1 239.7 59.8 232.2 60.5 232.5Z" fill="#c8cbc3" stroke="#a9ada0" stroke-width="1.1" stroke-linejoin="round"/><path d="M42.8 253.7L33.3 267.7" stroke="#e4e4e2" stroke-width="3.6" fill="none"/><path d="M42.8 253.7L33.3 267.7" stroke="#b2b6aa" stroke-width="1.2" fill="none"/><path d="M6.9 241.3C7.5 241.1 10 243.8 11 245.6C11.9 247.5 12.1 250.1 12.8 252.2C13.4 254.3 14.9 256.4 15 258.3C15.2 260.1 13.9 261.3 13.5 263.3C13.2 265.2 13.2 269.8 12.7 270C12.1 270.2 11.2 265.9 10.3 264.2C9.3 262.5 7.6 261.9 6.9 259.9C6.1 257.9 5.6 254.3 5.7 252.1C5.8 249.8 7.4 248.3 7.6 246.5C7.8 244.7 6.4 241.4 6.9 241.3Z" fill="none" stroke="#e4e4e2" stroke-width="4.8" stroke-linejoin="round"/><path d="M6.9 241.3C7.5 241.1 10 243.8 11 245.6C11.9 247.5 12.1 250.1 12.8 252.2C13.4 254.3 14.9 256.4 15 258.3C15.2 260.1 13.9 261.3 13.5 263.3C13.2 265.2 13.2 269.8 12.7 270C12.1 270.2 11.2 265.9 10.3 264.2C9.3 262.5 7.6 261.9 6.9 259.9C6.1 257.9 5.6 254.3 5.7 252.1C5.8 249.8 7.4 248.3 7.6 246.5C7.8 244.7 6.4 241.4 6.9 241.3Z" fill="#c8cbc3" stroke="#a9ada0" stroke-width="1.1" stroke-linejoin="round"/><path d="M33.5 265C34.4 265.4 30.2 270.6 29.3 272.7C28.4 274.9 28.6 276.4 27.9 278C27.2 279.6 26.1 281.2 25 282.2C23.9 283.3 22.8 283.6 21.2 284.3C19.5 285.1 16 287.3 15 286.7C14 286.2 14.8 282.9 15.2 281C15.6 279.1 16.5 276.8 17.3 275.3C18.2 273.7 19 272.4 20.1 271.7C21.3 271 21.9 272 24.1 270.9C26.4 269.8 32.7 264.7 33.5 265Z" fill="none" stroke="#e4e4e2" stroke-width="4.8" stroke-linejoin="round"/><path d="M33.5 265C34.4 265.4 30.2 270.6 29.3 272.7C28.4 274.9 28.6 276.4 27.9 278C27.2 279.6 26.1 281.2 25 282.2C23.9 283.3 22.8 283.6 21.2 284.3C19.5 285.1 16 287.3 15 286.7C14 286.2 14.8 282.9 15.2 281C15.6 279.1 16.5 276.8 17.3 275.3C18.2 273.7 19 272.4 20.1 271.7C21.3 271 21.9 272 24.1 270.9C26.4 269.8 32.7 264.7 33.5 265Z" fill="#c8cbc3" stroke="#a9ada0" stroke-width="1.1" stroke-linejoin="round"/><path d="M17.7 284L6.5 300.1" stroke="#e4e4e2" stroke-width="3.6" fill="none"/><path d="M17.7 284L6.5 300.1" stroke="#b2b6aa" stroke-width="1.2" fill="none"/><path d="M20.3 285.2L12.6 303.6" stroke="#e4e4e2" stroke-width="3.6" fill="none"/><path d="M20.3 285.2L12.6 303.6" stroke="#b2b6aa" stroke-width="1.2" fill="none"/><path d="M58.7 255.8C59.4 255.7 63.3 269.3 65.1 272.9C66.8 276.6 68.1 275.7 69.2 277.5C70.3 279.3 71.5 281.4 71.6 283.7C71.8 285.9 70.5 288.8 69.9 291.2C69.3 293.5 69.1 297.6 68 297.6C67 297.6 64.9 292.8 63.6 291.1C62.3 289.3 61.1 289.1 60.1 287.2C59.1 285.2 57.5 281.7 57.7 279.5C57.8 277.2 60.6 277.5 60.8 273.6C61 269.6 58 255.9 58.7 255.8Z" fill="none" stroke="#e4e4e2" stroke-width="4.8" stroke-linejoin="round"/><path d="M58.7 255.8C59.4 255.7 63.3 269.3 65.1 272.9C66.8 276.6 68.1 275.7 69.2 277.5C70.3 279.3 71.5 281.4 71.6 283.7C71.8 285.9 70.5 288.8 69.9 291.2C69.3 293.5 69.1 297.6 68 297.6C67 297.6 64.9 292.8 63.6 291.1C62.3 289.3 61.1 289.1 60.1 287.2C59.1 285.2 57.5 281.7 57.7 279.5C57.8 277.2 60.6 277.5 60.8 273.6C61 269.6 58 255.9 58.7 255.8Z" fill="#c8cbc3" stroke="#a9ada0" stroke-width="1.1" stroke-linejoin="round"/><path d="M71.4 288.8L83 301.9" stroke="#e4e4e2" stroke-width="3.6" fill="none"/><path d="M71.4 288.8L83 301.9" stroke="#b2b6aa" stroke-width="1.2" fill="none"/><path d="M70.3 278C70.8 277.5 74.5 280 76.2 280.5C77.9 281.1 79.1 280.3 80.5 281.3C81.9 282.3 83.5 284.8 84.7 286.5C85.9 288.1 87 289.8 87.7 291.3C88.4 292.8 89.6 295.2 88.8 295.6C88 296.1 84.7 294.4 82.8 293.8C80.9 293.3 78.7 293.5 77.2 292.4C75.8 291.3 74.9 288.7 74.2 287.3C73.5 285.8 73.7 285.4 73 283.8C72.4 282.3 69.8 278.6 70.3 278Z" fill="none" stroke="#e4e4e2" stroke-width="4.8" stroke-linejoin="round"/><path d="M70.3 278C70.8 277.5 74.5 280 76.2 280.5C77.9 281.1 79.1 280.3 80.5 281.3C81.9 282.3 83.5 284.8 84.7 286.5C85.9 288.1 87 289.8 87.7 291.3C88.4 292.8 89.6 295.2 88.8 295.6C88 296.1 84.7 294.4 82.8 293.8C80.9 293.3 78.7 293.5 77.2 292.4C75.8 291.3 74.9 288.7 74.2 287.3C73.5 285.8 73.7 285.4 73 283.8C72.4 282.3 69.8 278.6 70.3 278Z" fill="#c8cbc3" stroke="#a9ada0" stroke-width="1.1" stroke-linejoin="round"/><path d="M98.2 267.8C99.3 267.9 101 270.9 101.8 272C102.7 273.1 103 273.1 103.4 274.3C103.8 275.5 104.5 278.1 104.3 279.2C104.1 280.4 103 279.9 102.3 281.1C101.6 282.3 101 286.1 100 286.4C99 286.6 97.3 283.8 96.5 282.5C95.7 281.3 95.4 280.1 95.1 279C94.9 277.9 94.7 277.1 94.8 275.8C94.9 274.6 94.9 272.8 95.5 271.5C96 270.2 97.2 267.7 98.2 267.8Z" fill="none" stroke="#e4e4e2" stroke-width="4.8" stroke-linejoin="round"/><path d="M98.2 267.8C99.3 267.9 101 270.9 101.8 272C102.7 273.1 103 273.1 103.4 274.3C103.8 275.5 104.5 278.1 104.3 279.2C104.1 280.4 103 279.9 102.3 281.1C101.6 282.3 101 286.1 100 286.4C99 286.6 97.3 283.8 96.5 282.5C95.7 281.3 95.4 280.1 95.1 279C94.9 277.9 94.7 277.1 94.8 275.8C94.9 274.6 94.9 272.8 95.5 271.5C96 270.2 97.2 267.7 98.2 267.8Z" fill="#c8cbc3" stroke="#a9ada0" stroke-width="1.1" stroke-linejoin="round"/><path d="M101.3 283.2L109.4 301.2" stroke="#e4e4e2" stroke-width="3.6" fill="none"/><path d="M101.3 283.2L109.4 301.2" stroke="#b2b6aa" stroke-width="1.2" fill="none"/><path d="M102.4 282.7L109.6 298.7" stroke="#e4e4e2" stroke-width="3.6" fill="none"/><path d="M102.4 282.7L109.6 298.7" stroke="#b2b6aa" stroke-width="1.2" fill="none"/><path d="M30.4 293.9C30.7 293 41.8 295.6 45.3 296C48.9 296.4 50 295.9 52 296.1C53.9 296.3 55.3 296.3 57 297.2C58.7 298.1 60.6 300.3 62.2 301.6C63.8 303 66.9 304.5 66.6 305.4C66.4 306.3 62.8 306.8 60.8 307.1C58.8 307.5 56.7 307.9 54.7 307.5C52.7 307.1 50.6 305.7 48.7 304.7C46.8 303.7 46.4 303.3 43.4 301.5C40.3 299.7 30.1 294.8 30.4 293.9Z" fill="none" stroke="#e4e4e2" stroke-width="4.8" stroke-linejoin="round"/><path d="M30.4 293.9C30.7 293 41.8 295.6 45.3 296C48.9 296.4 50 295.9 52 296.1C53.9 296.3 55.3 296.3 57 297.2C58.7 298.1 60.6 300.3 62.2 301.6C63.8 303 66.9 304.5 66.6 305.4C66.4 306.3 62.8 306.8 60.8 307.1C58.8 307.5 56.7 307.9 54.7 307.5C52.7 307.1 50.6 305.7 48.7 304.7C46.8 303.7 46.4 303.3 43.4 301.5C40.3 299.7 30.1 294.8 30.4 293.9Z" fill="#c8cbc3" stroke="#a9ada0" stroke-width="1.1" stroke-linejoin="round"/><path d="M44.3 297.1L27.9 285.1" stroke="#e4e4e2" stroke-width="3.6" fill="none"/><path d="M44.3 297.1L27.9 285.1" stroke="#b2b6aa" stroke-width="1.2" fill="none"/><path d="M61.2 302.2L72.4 302.8" stroke="#e4e4e2" stroke-width="3.6" fill="none"/><path d="M61.2 302.2L72.4 302.8" stroke="#b2b6aa" stroke-width="1.2" fill="none"/><path d="M50.2 306.5C50.3 307.2 43.4 309.1 41.4 310.4C39.3 311.6 39.2 313.1 37.7 313.8C36.3 314.6 34.1 315.1 32.7 314.8C31.4 314.5 30.7 312.7 29.4 311.8C28.2 310.9 25.2 310.3 25.2 309.4C25.1 308.4 27.8 307.3 29.1 306.2C30.3 305.1 31.5 303.4 32.7 302.8C33.9 302.2 34.9 301.9 36.3 302.4C37.6 303 38.4 305.6 40.7 306.2C43 306.9 50.1 305.8 50.2 306.5Z" fill="none" stroke="#e4e4e2" stroke-width="4.8" stroke-linejoin="round"/><path d="M50.2 306.5C50.3 307.2 43.4 309.1 41.4 310.4C39.3 311.6 39.2 313.1 37.7 313.8C36.3 314.6 34.1 315.1 32.7 314.8C31.4 314.5 30.7 312.7 29.4 311.8C28.2 310.9 25.2 310.3 25.2 309.4C25.1 308.4 27.8 307.3 29.1 306.2C30.3 305.1 31.5 303.4 32.7 302.8C33.9 302.2 34.9 301.9 36.3 302.4C37.6 303 38.4 305.6 40.7 306.2C43 306.9 50.1 305.8 50.2 306.5Z" fill="#c8cbc3" stroke="#a9ada0" stroke-width="1.1" stroke-linejoin="round"/><path d="M28.6 313.3L12 320.6" stroke="#e4e4e2" stroke-width="3.6" fill="none"/><path d="M28.6 313.3L12 320.6" stroke="#b2b6aa" stroke-width="1.2" fill="none"/><path d="M30 314.1C30.3 314.7 20.4 315.8 17.5 316.5C14.5 317.2 13.9 317.6 12.3 318.1C10.7 318.7 9.3 319.8 7.8 319.9C6.3 320 5 319.1 3.3 318.6C1.5 318 -2.7 317.3 -2.8 316.6C-2.8 315.8 1.3 314.8 2.9 314.2C4.6 313.7 5.6 313.4 7.1 313.1C8.7 312.9 10.6 312.7 12.1 312.8C13.6 312.8 13.1 313 16.1 313.2C19 313.4 29.8 313.6 30 314.1Z" fill="none" stroke="#e4e4e2" stroke-width="4.8" stroke-linejoin="round"/><path d="M30 314.1C30.3 314.7 20.4 315.8 17.5 316.5C14.5 317.2 13.9 317.6 12.3 318.1C10.7 318.7 9.3 319.8 7.8 319.9C6.3 320 5 319.1 3.3 318.6C1.5 318 -2.7 317.3 -2.8 316.6C-2.8 315.8 1.3 314.8 2.9 314.2C4.6 313.7 5.6 313.4 7.1 313.1C8.7 312.9 10.6 312.7 12.1 312.8C13.6 312.8 13.1 313 16.1 313.2C19 313.4 29.8 313.6 30 314.1Z" fill="#c8cbc3" stroke="#a9ada0" stroke-width="1.1" stroke-linejoin="round"/><path d="M70 312.8C70.3 312.6 76.4 315.4 78.4 315.8C80.4 316.2 80.9 315.1 81.8 315.3C82.8 315.6 83.1 316.6 84.1 317.3C85.1 318 86.8 318.6 87.8 319.4C88.8 320.3 90.5 321.9 90.3 322.5C90 323.1 87.4 323.2 86.1 323C84.9 322.7 83.7 321.3 82.7 321.1C81.7 320.8 81.1 322 80.1 321.3C79.1 320.6 78.4 318.3 76.7 316.8C75 315.4 69.7 313 70 312.8Z" fill="none" stroke="#e4e4e2" stroke-width="4.8" stroke-linejoin="round"/><path d="M70 312.8C70.3 312.6 76.4 315.4 78.4 315.8C80.4 316.2 80.9 315.1 81.8 315.3C82.8 315.6 83.1 316.6 84.1 317.3C85.1 318 86.8 318.6 87.8 319.4C88.8 320.3 90.5 321.9 90.3 322.5C90 323.1 87.4 323.2 86.1 323C84.9 322.7 83.7 321.3 82.7 321.1C81.7 320.8 81.1 322 80.1 321.3C79.1 320.6 78.4 318.3 76.7 316.8C75 315.4 69.7 313 70 312.8Z" fill="#c8cbc3" stroke="#a9ada0" stroke-width="1.1" stroke-linejoin="round"/><path d="M88.8 319.1L108.4 320.6" stroke="#e4e4e2" stroke-width="3.6" fill="none"/><path d="M88.8 319.1L108.4 320.6" stroke="#b2b6aa" stroke-width="1.2" fill="none"/><path d="M233.4 175C233.2 174.3 239.7 174 241.7 173.5C243.6 173 243.6 172 245 171.7C246.4 171.4 248.6 171.5 249.9 171.9C251.2 172.3 252 173.2 252.9 173.9C253.8 174.6 255.5 175.3 255.3 176.1C255.2 177 253.2 178.6 252 179C250.7 179.4 249.2 178.7 247.9 178.6C246.7 178.6 245.3 178.9 244.4 178.7C243.6 178.6 244.6 178.2 242.7 177.6C240.9 177 233.6 175.7 233.4 175Z" fill="none" stroke="#e4e4e2" stroke-width="4.8" stroke-linejoin="round"/><path d="M233.4 175C233.2 174.3 239.7 174 241.7 173.5C243.6 173 243.6 172 245 171.7C246.4 171.4 248.6 171.5 249.9 171.9C251.2 172.3 252 173.2 252.9 173.9C253.8 174.6 255.5 175.3 255.3 176.1C255.2 177 253.2 178.6 252 179C250.7 179.4 249.2 178.7 247.9 178.6C246.7 178.6 245.3 178.9 244.4 178.7C243.6 178.6 244.6 178.2 242.7 177.6C240.9 177 233.6 175.7 233.4 175Z" fill="#c8cbc3" stroke="#a9ada0" stroke-width="1.1" stroke-linejoin="round"/><path d="M240.1 173.2L225 169.3" stroke="#e4e4e2" stroke-width="3.6" fill="none"/><path d="M240.1 173.2L225 169.3" stroke="#b2b6aa" stroke-width="1.2" fill="none"/><path d="M252.9 172.8L271.6 163.9" stroke="#e4e4e2" stroke-width="3.6" fill="none"/><path d="M252.9 172.8L271.6 163.9" stroke="#b2b6aa" stroke-width="1.2" fill="none"/><path d="M282.8 168.8C283.4 169.3 281.3 174.9 281 176.8C280.6 178.7 281.2 179 280.7 180.1C280.2 181.2 279 182.7 278.1 183.5C277.2 184.2 276.7 184.3 275.5 184.7C274.4 185.1 272.1 186.1 271.2 185.6C270.4 185.2 270.4 183.6 270.4 182.1C270.5 180.7 271 178.5 271.7 177.2C272.3 175.9 273.5 174.7 274.4 174.2C275.4 173.7 276 175 277.4 174.1C278.8 173.2 282.2 168.4 282.8 168.8Z" fill="none" stroke="#e4e4e2" stroke-width="4.8" stroke-linejoin="round"/><path d="M282.8 168.8C283.4 169.3 281.3 174.9 281 176.8C280.6 178.7 281.2 179 280.7 180.1C280.2 181.2 279 182.7 278.1 183.5C277.2 184.2 276.7 184.3 275.5 184.7C274.4 185.1 272.1 186.1 271.2 185.6C270.4 185.2 270.4 183.6 270.4 182.1C270.5 180.7 271 178.5 271.7 177.2C272.3 175.9 273.5 174.7 274.4 174.2C275.4 173.7 276 175 277.4 174.1C278.8 173.2 282.2 168.4 282.8 168.8Z" fill="#c8cbc3" stroke="#a9ada0" stroke-width="1.1" stroke-linejoin="round"/><path d="M271.9 182.5L262.5 190.8" stroke="#e4e4e2" stroke-width="3.6" fill="none"/><path d="M271.9 182.5L262.5 190.8" stroke="#b2b6aa" stroke-width="1.2" fill="none"/><path d="M290.4 238.3C290.5 238.9 285.9 242.8 284.8 244C283.7 245.2 284.4 245 283.8 245.7C283.3 246.4 282.5 247.6 281.4 248.2C280.3 248.8 278.5 249.4 277.4 249.5C276.2 249.6 274.7 249.4 274.5 248.6C274.3 247.8 275.6 246 276.2 244.9C276.7 243.8 276.8 242.6 277.6 242.2C278.4 241.7 279.7 242.5 280.7 242.2C281.8 241.9 282.4 240.9 284 240.2C285.6 239.6 290.3 237.7 290.4 238.3Z" fill="none" stroke="#e4e4e2" stroke-width="4.8" stroke-linejoin="round"/><path d="M290.4 238.3C290.5 238.9 285.9 242.8 284.8 244C283.7 245.2 284.4 245 283.8 245.7C283.3 246.4 282.5 247.6 281.4 248.2C280.3 248.8 278.5 249.4 277.4 249.5C276.2 249.6 274.7 249.4 274.5 248.6C274.3 247.8 275.6 246 276.2 244.9C276.7 243.8 276.8 242.6 277.6 242.2C278.4 241.7 279.7 242.5 280.7 242.2C281.8 241.9 282.4 240.9 284 240.2C285.6 239.6 290.3 237.7 290.4 238.3Z" fill="#c8cbc3" stroke="#a9ada0" stroke-width="1.1" stroke-linejoin="round"/><path d="M284.7 239.9L295.6 228" stroke="#e4e4e2" stroke-width="3.6" fill="none"/><path d="M284.7 239.9L295.6 228" stroke="#b2b6aa" stroke-width="1.2" fill="none"/><path d="M275 244.6L255.3 245.1" stroke="#e4e4e2" stroke-width="3.6" fill="none"/><path d="M275 244.6L255.3 245.1" stroke="#b2b6aa" stroke-width="1.2" fill="none"/><path d="M295.2 245.1C295.5 244.6 298.9 245.6 300.1 245.2C301.2 244.9 301.3 242.9 302.2 242.8C303.2 242.8 304.6 244.5 305.7 244.9C306.8 245.3 307.6 244.7 308.8 245.5C310 246.2 312.8 248.7 312.8 249.5C312.8 250.4 310 250.3 308.8 250.5C307.5 250.6 306.6 250.5 305.3 250.6C304 250.6 302.1 251.2 301 250.8C299.8 250.3 299.4 248.6 298.4 247.7C297.4 246.7 294.9 245.5 295.2 245.1Z" fill="none" stroke="#e4e4e2" stroke-width="4.8" stroke-linejoin="round"/><path d="M295.2 245.1C295.5 244.6 298.9 245.6 300.1 245.2C301.2 244.9 301.3 242.9 302.2 242.8C303.2 242.8 304.6 244.5 305.7 244.9C306.8 245.3 307.6 244.7 308.8 245.5C310 246.2 312.8 248.7 312.8 249.5C312.8 250.4 310 250.3 308.8 250.5C307.5 250.6 306.6 250.5 305.3 250.6C304 250.6 302.1 251.2 301 250.8C299.8 250.3 299.4 248.6 298.4 247.7C297.4 246.7 294.9 245.5 295.2 245.1Z" fill="#c8cbc3" stroke="#a9ada0" stroke-width="1.1" stroke-linejoin="round"/><path d="M205.8 282.9C206.2 283.4 198.8 287.4 196.8 289.5C194.7 291.5 195 293.9 193.7 295.1C192.4 296.3 190.4 296.3 188.9 296.7C187.3 297.2 186.3 297.5 184.4 297.6C182.6 297.7 178 298.3 177.6 297.4C177.2 296.4 181.1 293 182.2 291.7C183.2 290.3 182.7 290.2 184.1 289.2C185.5 288.2 188.8 286 190.5 285.6C192.1 285.1 191.4 286.9 194 286.5C196.5 286.1 205.3 282.4 205.8 282.9Z" fill="none" stroke="#e4e4e2" stroke-width="4.8" stroke-linejoin="round"/><path d="M205.8 282.9C206.2 283.4 198.8 287.4 196.8 289.5C194.7 291.5 195 293.9 193.7 295.1C192.4 296.3 190.4 296.3 188.9 296.7C187.3 297.2 186.3 297.5 184.4 297.6C182.6 297.7 178 298.3 177.6 297.4C177.2 296.4 181.1 293 182.2 291.7C183.2 290.3 182.7 290.2 184.1 289.2C185.5 288.2 188.8 286 190.5 285.6C192.1 285.1 191.4 286.9 194 286.5C196.5 286.1 205.3 282.4 205.8 282.9Z" fill="#c8cbc3" stroke="#a9ada0" stroke-width="1.1" stroke-linejoin="round"/><path d="M196.8 287L208.7 279.9" stroke="#e4e4e2" stroke-width="3.6" fill="none"/><path d="M196.8 287L208.7 279.9" stroke="#b2b6aa" stroke-width="1.2" fill="none"/><path d="M201.1 302.8C201.6 302.8 200.9 308.9 201.6 311.4C202.3 313.8 204.9 315.6 205.2 317.4C205.4 319.2 203.7 320.4 203.1 322.1C202.4 323.9 202 326.1 201.2 327.8C200.4 329.6 199.2 332.8 198.3 332.6C197.3 332.3 196.3 328.3 195.7 326.3C195.2 324.4 195.1 322.7 195 321C194.9 319.4 194.5 318.2 195.1 316.5C195.7 314.9 197.4 313.3 198.4 311C199.4 308.7 200.6 302.7 201.1 302.8Z" fill="none" stroke="#e4e4e2" stroke-width="4.8" stroke-linejoin="round"/><path d="M201.1 302.8C201.6 302.8 200.9 308.9 201.6 311.4C202.3 313.8 204.9 315.6 205.2 317.4C205.4 319.2 203.7 320.4 203.1 322.1C202.4 323.9 202 326.1 201.2 327.8C200.4 329.6 199.2 332.8 198.3 332.6C197.3 332.3 196.3 328.3 195.7 326.3C195.2 324.4 195.1 322.7 195 321C194.9 319.4 194.5 318.2 195.1 316.5C195.7 314.9 197.4 313.3 198.4 311C199.4 308.7 200.6 302.7 201.1 302.8Z" fill="#c8cbc3" stroke="#a9ada0" stroke-width="1.1" stroke-linejoin="round"/><path d="M197.7 311.7L190 287.8" stroke="#e4e4e2" stroke-width="3.6" fill="none"/><path d="M197.7 311.7L190 287.8" stroke="#b2b6aa" stroke-width="1.2" fill="none"/><path d="M231.8 296.6C232.6 297.2 232.1 304 232.1 306.5C232.1 308.9 231.9 309.5 231.7 311.1C231.4 312.6 231.4 314.4 230.8 315.8C230.1 317.2 229.2 318.5 227.8 319.6C226.3 320.7 223 322.8 222 322.2C220.9 321.6 221.6 318 221.6 316.1C221.6 314.3 221.6 312.6 221.8 311.1C222 309.5 222.1 308.3 223 307C223.8 305.7 225.5 305.1 226.9 303.4C228.4 301.7 230.9 296.1 231.8 296.6Z" fill="none" stroke="#e4e4e2" stroke-width="4.8" stroke-linejoin="round"/><path d="M231.8 296.6C232.6 297.2 232.1 304 232.1 306.5C232.1 308.9 231.9 309.5 231.7 311.1C231.4 312.6 231.4 314.4 230.8 315.8C230.1 317.2 229.2 318.5 227.8 319.6C226.3 320.7 223 322.8 222 322.2C220.9 321.6 221.6 318 221.6 316.1C221.6 314.3 221.6 312.6 221.8 311.1C222 309.5 222.1 308.3 223 307C223.8 305.7 225.5 305.1 226.9 303.4C228.4 301.7 230.9 296.1 231.8 296.6Z" fill="#c8cbc3" stroke="#a9ada0" stroke-width="1.1" stroke-linejoin="round"/><path d="M233.5 306.5L244.3 294.4" stroke="#e4e4e2" stroke-width="3.6" fill="none"/><path d="M233.5 306.5L244.3 294.4" stroke="#b2b6aa" stroke-width="1.2" fill="none"/><path d="M268.1 283.2C268.6 283.7 264.8 290.3 264 292.6C263.2 294.9 263.8 295.4 263.2 296.7C262.6 298 261.7 299.3 260.4 300.4C259.1 301.6 257 302.4 255.5 303.4C254.1 304.3 252.4 306.6 252 306.2C251.5 305.8 252.1 302.3 252.6 300.9C253.2 299.4 254.4 299 255.3 297.7C256.2 296.3 257.1 294.3 258 292.9C258.9 291.5 259 291 260.7 289.4C262.4 287.8 267.5 282.7 268.1 283.2Z" fill="none" stroke="#e4e4e2" stroke-width="4.8" stroke-linejoin="round"/><path d="M268.1 283.2C268.6 283.7 264.8 290.3 264 292.6C263.2 294.9 263.8 295.4 263.2 296.7C262.6 298 261.7 299.3 260.4 300.4C259.1 301.6 257 302.4 255.5 303.4C254.1 304.3 252.4 306.6 252 306.2C251.5 305.8 252.1 302.3 252.6 300.9C253.2 299.4 254.4 299 255.3 297.7C256.2 296.3 257.1 294.3 258 292.9C258.9 291.5 259 291 260.7 289.4C262.4 287.8 267.5 282.7 268.1 283.2Z" fill="#c8cbc3" stroke="#a9ada0" stroke-width="1.1" stroke-linejoin="round"/><path d="M255.5 302.5L245.3 312.9" stroke="#e4e4e2" stroke-width="3.6" fill="none"/><path d="M255.5 302.5L245.3 312.9" stroke="#b2b6aa" stroke-width="1.2" fill="none"/><path d="M281.9 280.8C282.5 281 283.5 283.8 284.2 284.9C285 286 286.3 286.4 286.7 287.3C287 288.3 286.6 289.4 286.5 290.5C286.3 291.7 285.7 293 285.6 294.3C285.4 295.6 285.9 298.6 285.3 298.5C284.7 298.4 282.9 295 281.9 293.8C281 292.7 280 292.9 279.6 291.7C279.2 290.6 279.5 288.2 279.7 287C279.9 285.7 280.6 285.1 280.9 284.1C281.3 283 281.4 280.7 281.9 280.8Z" fill="none" stroke="#e4e4e2" stroke-width="4.8" stroke-linejoin="round"/><path d="M281.9 280.8C282.5 281 283.5 283.8 284.2 284.9C285 286 286.3 286.4 286.7 287.3C287 288.3 286.6 289.4 286.5 290.5C286.3 291.7 285.7 293 285.6 294.3C285.4 295.6 285.9 298.6 285.3 298.5C284.7 298.4 282.9 295 281.9 293.8C281 292.7 280 292.9 279.6 291.7C279.2 290.6 279.5 288.2 279.7 287C279.9 285.7 280.6 285.1 280.9 284.1C281.3 283 281.4 280.7 281.9 280.8Z" fill="#c8cbc3" stroke="#a9ada0" stroke-width="1.1" stroke-linejoin="round"/><path d="M285.3 295.6L291.6 305.3" stroke="#e4e4e2" stroke-width="3.6" fill="none"/><path d="M285.3 295.6L291.6 305.3" stroke="#b2b6aa" stroke-width="1.2" fill="none"/><path d="M283.1 307.8C283.6 308.2 278.9 312.5 277.9 314.1C276.9 315.8 277.6 316.4 277.2 317.6C276.7 318.7 276.1 320.3 275.2 321C274.3 321.7 273.3 321.7 271.9 322C270.6 322.2 267.8 323.1 267.1 322.6C266.5 322 267.4 320.3 267.9 318.7C268.3 317.2 269.3 314.5 269.8 313.2C270.2 312 269.9 311.4 270.7 311.1C271.5 310.9 272.8 312.3 274.9 311.7C276.9 311.2 282.6 307.4 283.1 307.8Z" fill="none" stroke="#e4e4e2" stroke-width="4.8" stroke-linejoin="round"/><path d="M283.1 307.8C283.6 308.2 278.9 312.5 277.9 314.1C276.9 315.8 277.6 316.4 277.2 317.6C276.7 318.7 276.1 320.3 275.2 321C274.3 321.7 273.3 321.7 271.9 322C270.6 322.2 267.8 323.1 267.1 322.6C266.5 322 267.4 320.3 267.9 318.7C268.3 317.2 269.3 314.5 269.8 313.2C270.2 312 269.9 311.4 270.7 311.1C271.5 310.9 272.8 312.3 274.9 311.7C276.9 311.2 282.6 307.4 283.1 307.8Z" fill="#c8cbc3" stroke="#a9ada0" stroke-width="1.1" stroke-linejoin="round"/><path d="M277.3 309.9L288.1 291.3" stroke="#e4e4e2" stroke-width="3.6" fill="none"/><path d="M277.3 309.9L288.1 291.3" stroke="#b2b6aa" stroke-width="1.2" fill="none"/><path d="M268.8 321L257 333.7" stroke="#e4e4e2" stroke-width="3.6" fill="none"/><path d="M268.8 321L257 333.7" stroke="#b2b6aa" stroke-width="1.2" fill="none"/><path d="M324.2 295.1C324.2 294.7 326.7 295.7 327.7 295.3C328.8 294.9 329.2 293.2 330.5 292.9C331.8 292.6 334.4 293.3 335.6 293.5C336.8 293.8 336.5 293.6 337.5 294.3C338.5 295 341.6 297.1 341.7 297.7C341.8 298.3 339.3 297.7 338.1 298C336.9 298.3 336.1 299.3 334.7 299.6C333.4 299.9 331.4 299.9 330.3 299.5C329.2 299.2 329.2 298.2 328.2 297.4C327.2 296.7 324.3 295.5 324.2 295.1Z" fill="none" stroke="#e4e4e2" stroke-width="4.8" stroke-linejoin="round"/><path d="M324.2 295.1C324.2 294.7 326.7 295.7 327.7 295.3C328.8 294.9 329.2 293.2 330.5 292.9C331.8 292.6 334.4 293.3 335.6 293.5C336.8 293.8 336.5 293.6 337.5 294.3C338.5 295 341.6 297.1 341.7 297.7C341.8 298.3 339.3 297.7 338.1 298C336.9 298.3 336.1 299.3 334.7 299.6C333.4 299.9 331.4 299.9 330.3 299.5C329.2 299.2 329.2 298.2 328.2 297.4C327.2 296.7 324.3 295.5 324.2 295.1Z" fill="#c8cbc3" stroke="#a9ada0" stroke-width="1.1" stroke-linejoin="round"/><path d="M322.8 309.7C323.2 310.2 321.4 312.4 320.7 313.8C320.1 315.1 319.7 316.5 318.9 317.7C318.1 319 317.1 320.3 316 321.1C314.9 321.9 313.9 322.2 312.4 322.7C310.9 323.2 307.7 324.7 307 324.1C306.2 323.5 307.4 320.8 308.1 319.1C308.7 317.4 309.7 315.3 310.8 314C312 312.8 313.5 312 314.8 311.4C316.1 310.8 317.3 310.9 318.6 310.7C319.9 310.4 322.5 309.2 322.8 309.7Z" fill="none" stroke="#e4e4e2" stroke-width="4.8" stroke-linejoin="round"/><path d="M322.8 309.7C323.2 310.2 321.4 312.4 320.7 313.8C320.1 315.1 319.7 316.5 318.9 317.7C318.1 319 317.1 320.3 316 321.1C314.9 321.9 313.9 322.2 312.4 322.7C310.9 323.2 307.7 324.7 307 324.1C306.2 323.5 307.4 320.8 308.1 319.1C308.7 317.4 309.7 315.3 310.8 314C312 312.8 313.5 312 314.8 311.4C316.1 310.8 317.3 310.9 318.6 310.7C319.9 310.4 322.5 309.2 322.8 309.7Z" fill="#c8cbc3" stroke="#a9ada0" stroke-width="1.1" stroke-linejoin="round"/><path d="M320.9 313.5L341.8 305" stroke="#e4e4e2" stroke-width="3.6" fill="none"/><path d="M320.9 313.5L341.8 305" stroke="#b2b6aa" stroke-width="1.2" fill="none"/><path d="M20.7 55.4C20.9 56.1 13.2 56.7 11.1 57.5C8.9 58.4 9.3 60.1 7.8 60.5C6.4 61 3.8 60.5 2.5 60.2C1.1 59.8 0.8 59.3 -0.2 58.7C-1.2 58 -3.7 57.3 -3.7 56.2C-3.6 55 -1 52.6 0.1 51.8C1.1 51 1.5 51.5 2.8 51.4C4.1 51.3 6.6 50.9 7.9 51.2C9.2 51.5 8.2 52.7 10.3 53.4C12.5 54.1 20.6 54.7 20.7 55.4Z" fill="none" stroke="#e4e4e2" stroke-width="4.8" stroke-linejoin="round"/><path d="M20.7 55.4C20.9 56.1 13.2 56.7 11.1 57.5C8.9 58.4 9.3 60.1 7.8 60.5C6.4 61 3.8 60.5 2.5 60.2C1.1 59.8 0.8 59.3 -0.2 58.7C-1.2 58 -3.7 57.3 -3.7 56.2C-3.6 55 -1 52.6 0.1 51.8C1.1 51 1.5 51.5 2.8 51.4C4.1 51.3 6.6 50.9 7.9 51.2C9.2 51.5 8.2 52.7 10.3 53.4C12.5 54.1 20.6 54.7 20.7 55.4Z" fill="#c8cbc3" stroke="#a9ada0" stroke-width="1.1" stroke-linejoin="round"/><path d="M-1.2 53.7L-17.7 51.1" stroke="#e4e4e2" stroke-width="3.6" fill="none"/><path d="M-1.2 53.7L-17.7 51.1" stroke="#b2b6aa" stroke-width="1.2" fill="none"/><path d="M100.5 -2.4C101.2 -2.2 100.8 2.5 101.3 3.8C101.7 5.2 102.7 4.8 103.1 5.6C103.6 6.3 104.2 7.5 103.9 8.4C103.5 9.4 102.1 10.4 101.1 11.2C100.2 12.1 99.4 13.7 98.4 13.4C97.4 13.2 95.9 10.8 95.1 9.6C94.4 8.3 93.9 7.1 93.8 6.1C93.6 5.1 93.5 4.1 94.1 3.5C94.7 3 96.1 3.7 97.2 2.7C98.2 1.7 99.8 -2.6 100.5 -2.4Z" fill="none" stroke="#e4e4e2" stroke-width="4.8" stroke-linejoin="round"/><path d="M100.5 -2.4C101.2 -2.2 100.8 2.5 101.3 3.8C101.7 5.2 102.7 4.8 103.1 5.6C103.6 6.3 104.2 7.5 103.9 8.4C103.5 9.4 102.1 10.4 101.1 11.2C100.2 12.1 99.4 13.7 98.4 13.4C97.4 13.2 95.9 10.8 95.1 9.6C94.4 8.3 93.9 7.1 93.8 6.1C93.6 5.1 93.5 4.1 94.1 3.5C94.7 3 96.1 3.7 97.2 2.7C98.2 1.7 99.8 -2.6 100.5 -2.4Z" fill="#c8cbc3" stroke="#a9ada0" stroke-width="1.1" stroke-linejoin="round"/><path d="M96.1 11.4L90.9 19.4" stroke="#e4e4e2" stroke-width="3.6" fill="none"/><path d="M96.1 11.4L90.9 19.4" stroke="#b2b6aa" stroke-width="1.2" fill="none"/><path d="M5.5 205.9C5.9 205.9 4.6 213.6 4.8 216C5.1 218.4 7 218.9 7.1 220.4C7.2 222 6.1 223.5 5.6 225.1C5.1 226.7 4.7 228.7 4.1 230.1C3.5 231.5 2.2 233.7 1.8 233.6C1.3 233.5 1.8 231 1.4 229.5C1.1 228 -0.1 225.9 -0.3 224.3C-0.6 222.8 -0.8 221.5 -0.3 220.1C0.2 218.6 1.5 218.1 2.5 215.7C3.4 213.3 5.1 205.8 5.5 205.9Z" fill="none" stroke="#e4e4e2" stroke-width="4.8" stroke-linejoin="round"/><path d="M5.5 205.9C5.9 205.9 4.6 213.6 4.8 216C5.1 218.4 7 218.9 7.1 220.4C7.2 222 6.1 223.5 5.6 225.1C5.1 226.7 4.7 228.7 4.1 230.1C3.5 231.5 2.2 233.7 1.8 233.6C1.3 233.5 1.8 231 1.4 229.5C1.1 228 -0.1 225.9 -0.3 224.3C-0.6 222.8 -0.8 221.5 -0.3 220.1C0.2 218.6 1.5 218.1 2.5 215.7C3.4 213.3 5.1 205.8 5.5 205.9Z" fill="#c8cbc3" stroke="#a9ada0" stroke-width="1.1" stroke-linejoin="round"/><path d="M3.7 229.5L3.3 251.1" stroke="#e4e4e2" stroke-width="3.6" fill="none"/><path d="M3.7 229.5L3.3 251.1" stroke="#b2b6aa" stroke-width="1.2" fill="none"/><path d="M124.8 321.3C124.9 321.6 119.1 323 117.6 323.7C116.2 324.5 117.1 325.2 116.3 325.8C115.4 326.4 113.7 327.4 112.6 327.4C111.5 327.3 110.8 326.1 109.7 325.6C108.6 325.2 106.1 325.1 106 324.5C105.9 323.8 108.4 322.5 109.2 321.8C110 321.1 110.3 320.6 111 320.3C111.7 320.1 112.5 319.7 113.5 320C114.5 320.3 115.2 321.9 117 322.1C118.9 322.3 124.7 321.1 124.8 321.3Z" fill="none" stroke="#e4e4e2" stroke-width="4.8" stroke-linejoin="round"/><path d="M124.8 321.3C124.9 321.6 119.1 323 117.6 323.7C116.2 324.5 117.1 325.2 116.3 325.8C115.4 326.4 113.7 327.4 112.6 327.4C111.5 327.3 110.8 326.1 109.7 325.6C108.6 325.2 106.1 325.1 106 324.5C105.9 323.8 108.4 322.5 109.2 321.8C110 321.1 110.3 320.6 111 320.3C111.7 320.1 112.5 319.7 113.5 320C114.5 320.3 115.2 321.9 117 322.1C118.9 322.3 124.7 321.1 124.8 321.3Z" fill="#c8cbc3" stroke="#a9ada0" stroke-width="1.1" stroke-linejoin="round"/><path d="M119.5 321.5L133.2 314.8" stroke="#e4e4e2" stroke-width="3.6" fill="none"/><path d="M119.5 321.5L133.2 314.8" stroke="#b2b6aa" stroke-width="1.2" fill="none"/><path d="M119.5 325.1L126.6 331.6" stroke="#e4e4e2" stroke-width="3.6" fill="none"/><path d="M119.5 325.1L126.6 331.6" stroke="#b2b6aa" stroke-width="1.2" fill="none"/><path d="M155.6 319.7C156.2 319.6 156.1 320.1 156.4 321.2C156.6 322.3 157 325 157.1 326.2C157.1 327.4 157.3 327.6 156.8 328.3C156.2 329 154.6 329.6 153.6 330.5C152.7 331.4 151.8 333.4 151.1 333.5C150.4 333.6 149.7 332.1 149.4 331C149.1 329.9 149.2 328.2 149.4 326.9C149.5 325.5 149.6 323.7 150.2 322.9C150.8 322 152.2 322.4 153.1 321.9C154 321.4 155.1 319.8 155.6 319.7Z" fill="none" stroke="#e4e4e2" stroke-width="4.8" stroke-linejoin="round"/><path d="M155.6 319.7C156.2 319.6 156.1 320.1 156.4 321.2C156.6 322.3 157 325 157.1 326.2C157.1 327.4 157.3 327.6 156.8 328.3C156.2 329 154.6 329.6 153.6 330.5C152.7 331.4 151.8 333.4 151.1 333.5C150.4 333.6 149.7 332.1 149.4 331C149.1 329.9 149.2 328.2 149.4 326.9C149.5 325.5 149.6 323.7 150.2 322.9C150.8 322 152.2 322.4 153.1 321.9C154 321.4 155.1 319.8 155.6 319.7Z" fill="#c8cbc3" stroke="#a9ada0" stroke-width="1.1" stroke-linejoin="round"/><path d="M151.8 319.9L149.1 310.5" stroke="#e4e4e2" stroke-width="3.6" fill="none"/><path d="M151.8 319.9L149.1 310.5" stroke="#b2b6aa" stroke-width="1.2" fill="none"/><path d="M152.6 331.8L148.7 355.6" stroke="#e4e4e2" stroke-width="3.6" fill="none"/><path d="M152.6 331.8L148.7 355.6" stroke="#b2b6aa" stroke-width="1.2" fill="none"/><circle cx="88.5" cy="265" r="5.5" fill="#eef0e4" stroke="#b9a3c4" stroke-width="1"/><circle cx="174" cy="198.5" r="3.2" fill="#eef0e4" stroke="#b9a3c4" stroke-width="1"/><circle cx="9" cy="306" r="4" fill="#eef0e4" stroke="#b9a3c4" stroke-width="1"/></g></g><clipPath id="ci4"><rect x="1620.5" y="67.6" width="151.6" height="153.7"/></clipPath><clipPath id="cm4"><rect x="1434.3" y="67.6" width="337.8" height="336.8"/></clipPath></defs><g clip-path="url(#cm4)"><use href="#mc4" x="1434.3" y="67.6"/></g><g clip-path="url(#ci4)"><g transform="translate(1099.2 -498.9) scale(2.200)" filter="url(#bl2)"><use href="#mc4"/></g></g><rect x="1620.5" y="67.6" width="151.6" height="153.7" fill="none" stroke="#000" stroke-width="1.4"/><rect x="1434.3" y="67.6" width="337.8" height="336.8" fill="none" stroke="#000" stroke-width="1.4"/><rect x="1672.7" y="325" width="69.1" height="70.8" fill="none" stroke="#000" stroke-width="1.7" stroke-dasharray="3.8 1.9"/><rect x="295.8" y="385.5" width="61.9" height="9.1" fill="#000"/><text x="325.8" y="378.8" font-size="16.2" font-weight="bold" text-anchor="middle">100 um</text><text x="397" y="103.3" font-size="35" font-weight="bold">1d</text><text x="740.5" y="98.8" font-size="35" font-weight="bold">5d</text><text x="1092" y="103.3" font-size="35" font-weight="bold">10d</text><text x="1444.5" y="103.3" font-size="35" font-weight="bold">21d</text><text x="3" y="46" font-size="59" font-weight="bold" textLength="35" lengthAdjust="spacingAndGlyphs" stroke="#000" stroke-width="1">a</text><text x="55.3" y="45.5" font-size="35" textLength="342" lengthAdjust="spacingAndGlyphs">PBMCs (Monocytes)</text><text x="431.6" y="45.5" font-size="35" textLength="685.5" lengthAdjust="spacingAndGlyphs">PD-derived microglia-like cells (PD-iMGs)</text><path d="M1148.7 30.7H1670M1648.4 18.2L1671.8 30.7L1648.4 43.8" stroke="#000" stroke-width="2.3" fill="none"/></g>
<g id="pb"><path d="M173 926.4L231 908.3M173 929.7L231 905.5M173 933L231 902.6M173 936L231 906.5M173 939.3L231 913M173 942.6L231 909.6M173 946.5L231 914.2M173 947.8L231 922M298.1 934L356.2 888M298.1 937.5L340.7 915.5M298.1 939.3L351 919M298.1 942.6L360.2 916M298.1 946L360.2 917M298.1 936L346 939.5M298.1 940.5L356.2 936.2M298.1 944L360.2 939M423.1 926.4L481.4 756.3M423.1 931L481.4 785.2M423.1 934.9L481.4 828.5M423.1 956.8L481.4 863.9M423.1 939.3L481.4 871.1M423.1 942.6L481.4 898.8M423.1 946L481.4 900.8M423.1 937L481.4 908.3M548.8 929.7L607.2 580.2M548.8 937.5L607.2 619.4M548.8 945.2L607.2 649.6M548.8 953L607.2 655M548.8 933L607.2 659.4M548.8 941L607.2 663.5M548.8 949L607.2 670.5M548.8 951L607.2 687.3M675 923.3L732.9 546.6M675 929.7L732.9 585.3M675 940L732.9 603.4M675 946.5L732.9 638.8M675 953L732.9 645.7M675 926L732.9 658.1M675 943L732.9 683.4M675 950L732.9 701.2" stroke="#000" stroke-width="1.4" fill="none"/><rect x="140" y="732.3" width="640" height="19" fill="#fff"/><line x1="462.6" y1="867" x2="500.8" y2="867" stroke="#000" stroke-width="1.5"/><line x1="588.6" y1="656.8" x2="626" y2="656.8" stroke="#000" stroke-width="1.5"/><line x1="714.3" y1="642.6" x2="751.7" y2="642.6" stroke="#000" stroke-width="1.5"/><line x1="607.2" y1="650" x2="607.2" y2="656.8" stroke="#000" stroke-width="1.3"/><line x1="265.1" y1="523.4" x2="265.1" y2="958" stroke="#555" stroke-width="1" stroke-dasharray="3.2 1.8"/><line x1="390.4" y1="523.4" x2="390.4" y2="958" stroke="#555" stroke-width="1" stroke-dasharray="3.2 1.8"/><line x1="516" y1="523.4" x2="516" y2="958" stroke="#555" stroke-width="1" stroke-dasharray="3.2 1.8"/><line x1="641.5" y1="523.4" x2="641.5" y2="958" stroke="#555" stroke-width="1" stroke-dasharray="3.2 1.8"/><line x1="134.7" y1="940" x2="769.8" y2="940" stroke="#111" stroke-width="1.6" stroke-dasharray="7.6 3.2"/><rect x="169.9" y="923.3" width="6.2" height="6.2" fill="#f5270c" stroke="#2a0805" stroke-width="1.1"/><rect x="169.9" y="926.6" width="6.2" height="6.2" fill="#f5270c" stroke="#2a0805" stroke-width="1.1"/><rect x="169.9" y="929.9" width="6.2" height="6.2" fill="#f5270c" stroke="#2a0805" stroke-width="1.1"/><rect x="169.9" y="932.9" width="6.2" height="6.2" fill="#f5270c" stroke="#2a0805" stroke-width="1.1"/><rect x="169.9" y="936.2" width="6.2" height="6.2" fill="#f5270c" stroke="#2a0805" stroke-width="1.1"/><rect x="169.9" y="939.5" width="6.2" height="6.2" fill="#f5270c" stroke="#2a0805" stroke-width="1.1"/><rect x="169.9" y="943.4" width="6.2" height="6.2" fill="#f5270c" stroke="#2a0805" stroke-width="1.1"/><rect x="169.9" y="944.7" width="6.2" height="6.2" fill="#f5270c" stroke="#2a0805" stroke-width="1.1"/><rect x="211.9" y="905.2" width="6.2" height="6.2" fill="#f5270c" stroke="#2a0805" stroke-width="1.1"/><rect x="222.9" y="902.4" width="6.2" height="6.2" fill="#f5270c" stroke="#2a0805" stroke-width="1.1"/><rect x="232.9" y="899.5" width="6.2" height="6.2" fill="#f5270c" stroke="#2a0805" stroke-width="1.1"/><rect x="243.9" y="903.4" width="6.2" height="6.2" fill="#f5270c" stroke="#2a0805" stroke-width="1.1"/><rect x="222.9" y="909.9" width="6.2" height="6.2" fill="#f5270c" stroke="#2a0805" stroke-width="1.1"/><rect x="232.9" y="906.5" width="6.2" height="6.2" fill="#f5270c" stroke="#2a0805" stroke-width="1.1"/><rect x="243.9" y="911.1" width="6.2" height="6.2" fill="#f5270c" stroke="#2a0805" stroke-width="1.1"/><rect x="227.9" y="918.9" width="6.2" height="6.2" fill="#f5270c" stroke="#2a0805" stroke-width="1.1"/><rect x="295" y="930.9" width="6.2" height="6.2" fill="#f5270c" stroke="#2a0805" stroke-width="1.1"/><rect x="295" y="934.4" width="6.2" height="6.2" fill="#f5270c" stroke="#2a0805" stroke-width="1.1"/><rect x="295" y="936.2" width="6.2" height="6.2" fill="#f5270c" stroke="#2a0805" stroke-width="1.1"/><rect x="295" y="939.5" width="6.2" height="6.2" fill="#f5270c" stroke="#2a0805" stroke-width="1.1"/><rect x="295" y="942.9" width="6.2" height="6.2" fill="#f5270c" stroke="#2a0805" stroke-width="1.1"/><rect x="353.1" y="884.9" width="6.2" height="6.2" fill="#f5270c" stroke="#2a0805" stroke-width="1.1"/><rect x="337.6" y="912.4" width="6.2" height="6.2" fill="#f5270c" stroke="#2a0805" stroke-width="1.1"/><rect x="347.9" y="915.9" width="6.2" height="6.2" fill="#f5270c" stroke="#2a0805" stroke-width="1.1"/><rect x="358.3" y="912.9" width="6.2" height="6.2" fill="#f5270c" stroke="#2a0805" stroke-width="1.1"/><rect x="369.1" y="913.9" width="6.2" height="6.2" fill="#f5270c" stroke="#2a0805" stroke-width="1.1"/><rect x="342.9" y="936.4" width="6.2" height="6.2" fill="#f5270c" stroke="#2a0805" stroke-width="1.1"/><rect x="353.1" y="933.1" width="6.2" height="6.2" fill="#f5270c" stroke="#2a0805" stroke-width="1.1"/><rect x="363.4" y="935.9" width="6.2" height="6.2" fill="#f5270c" stroke="#2a0805" stroke-width="1.1"/><rect x="420" y="923.3" width="6.2" height="6.2" fill="#f5270c" stroke="#2a0805" stroke-width="1.1"/><rect x="420" y="927.9" width="6.2" height="6.2" fill="#f5270c" stroke="#2a0805" stroke-width="1.1"/><rect x="420" y="931.8" width="6.2" height="6.2" fill="#f5270c" stroke="#2a0805" stroke-width="1.1"/><rect x="420" y="953.7" width="6.2" height="6.2" fill="#f5270c" stroke="#2a0805" stroke-width="1.1"/><rect x="420" y="936.2" width="6.2" height="6.2" fill="#f5270c" stroke="#2a0805" stroke-width="1.1"/><rect x="420" y="939.5" width="6.2" height="6.2" fill="#f5270c" stroke="#2a0805" stroke-width="1.1"/><rect x="420" y="942.9" width="6.2" height="6.2" fill="#f5270c" stroke="#2a0805" stroke-width="1.1"/><rect x="478.3" y="753.2" width="6.2" height="6.2" fill="#f5270c" stroke="#2a0805" stroke-width="1.1"/><rect x="478.3" y="782.1" width="6.2" height="6.2" fill="#f5270c" stroke="#2a0805" stroke-width="1.1"/><rect x="478.3" y="825.4" width="6.2" height="6.2" fill="#f5270c" stroke="#2a0805" stroke-width="1.1"/><rect x="478.3" y="860.8" width="6.2" height="6.2" fill="#f5270c" stroke="#2a0805" stroke-width="1.1"/><rect x="478.3" y="868" width="6.2" height="6.2" fill="#f5270c" stroke="#2a0805" stroke-width="1.1"/><rect x="471.9" y="895.7" width="6.2" height="6.2" fill="#f5270c" stroke="#2a0805" stroke-width="1.1"/><rect x="485.3" y="897.7" width="6.2" height="6.2" fill="#f5270c" stroke="#2a0805" stroke-width="1.1"/><rect x="478.3" y="905.2" width="6.2" height="6.2" fill="#f5270c" stroke="#2a0805" stroke-width="1.1"/><rect x="545.7" y="926.6" width="6.2" height="6.2" fill="#f5270c" stroke="#2a0805" stroke-width="1.1"/><rect x="545.7" y="934.4" width="6.2" height="6.2" fill="#f5270c" stroke="#2a0805" stroke-width="1.1"/><rect x="545.7" y="942.1" width="6.2" height="6.2" fill="#f5270c" stroke="#2a0805" stroke-width="1.1"/><rect x="545.7" y="949.9" width="6.2" height="6.2" fill="#f5270c" stroke="#2a0805" stroke-width="1.1"/><rect x="604.1" y="577.1" width="6.2" height="6.2" fill="#f5270c" stroke="#2a0805" stroke-width="1.1"/><rect x="604.1" y="616.3" width="6.2" height="6.2" fill="#f5270c" stroke="#2a0805" stroke-width="1.1"/><rect x="611" y="646.5" width="6.2" height="6.2" fill="#f5270c" stroke="#2a0805" stroke-width="1.1"/><rect x="597.1" y="651.9" width="6.2" height="6.2" fill="#f5270c" stroke="#2a0805" stroke-width="1.1"/><rect x="611" y="656.3" width="6.2" height="6.2" fill="#f5270c" stroke="#2a0805" stroke-width="1.1"/><rect x="597.1" y="660.4" width="6.2" height="6.2" fill="#f5270c" stroke="#2a0805" stroke-width="1.1"/><rect x="604.1" y="667.4" width="6.2" height="6.2" fill="#f5270c" stroke="#2a0805" stroke-width="1.1"/><rect x="604.1" y="684.2" width="6.2" height="6.2" fill="#f5270c" stroke="#2a0805" stroke-width="1.1"/><rect x="671.9" y="920.2" width="6.2" height="6.2" fill="#f5270c" stroke="#2a0805" stroke-width="1.1"/><rect x="671.9" y="926.6" width="6.2" height="6.2" fill="#f5270c" stroke="#2a0805" stroke-width="1.1"/><rect x="671.9" y="936.9" width="6.2" height="6.2" fill="#f5270c" stroke="#2a0805" stroke-width="1.1"/><rect x="671.9" y="943.4" width="6.2" height="6.2" fill="#f5270c" stroke="#2a0805" stroke-width="1.1"/><rect x="671.9" y="949.9" width="6.2" height="6.2" fill="#f5270c" stroke="#2a0805" stroke-width="1.1"/><rect x="729.8" y="543.5" width="6.2" height="6.2" fill="#f5270c" stroke="#2a0805" stroke-width="1.1"/><rect x="729.8" y="582.2" width="6.2" height="6.2" fill="#f5270c" stroke="#2a0805" stroke-width="1.1"/><rect x="729.8" y="600.3" width="6.2" height="6.2" fill="#f5270c" stroke="#2a0805" stroke-width="1.1"/><rect x="729.8" y="635.7" width="6.2" height="6.2" fill="#f5270c" stroke="#2a0805" stroke-width="1.1"/><rect x="729.8" y="642.6" width="6.2" height="6.2" fill="#f5270c" stroke="#2a0805" stroke-width="1.1"/><rect x="729.8" y="655" width="6.2" height="6.2" fill="#f5270c" stroke="#2a0805" stroke-width="1.1"/><rect x="729.8" y="680.3" width="6.2" height="6.2" fill="#f5270c" stroke="#2a0805" stroke-width="1.1"/><rect x="729.8" y="698.1" width="6.2" height="6.2" fill="#f5270c" stroke="#2a0805" stroke-width="1.1"/><path d="M134.7 522.2V731.7M129 731.7H142M129 751.8H142M134.7 751.8V958.6M124 958.6H771.8" stroke="#000" stroke-width="2.5" fill="none"/><path d="M119.3 523.4H134.7M119.3 609.1H134.7M119.3 693.7H134.7M124 770H134.7M124 864.4H134.7M173 958.6V969.7M231 958.6V969.7M298.1 958.6V969.7M356.2 958.6V969.7M423.1 958.6V969.7M481.4 958.6V969.7M548.6 958.6V969.7M606.6 958.6V969.7M674.3 958.6V969.7M732.3 958.6V969.7" stroke="#000" stroke-width="2.5" fill="none"/><text x="116" y="530.6" font-size="20" font-weight="bold" text-anchor="end">60</text><text x="116" y="616.3" font-size="20" font-weight="bold" text-anchor="end">40</text><text x="116" y="700.9" font-size="20" font-weight="bold" text-anchor="end">20</text><text x="120.5" y="777.2" font-size="20" font-weight="bold" text-anchor="end">10</text><text x="121" y="871.6" font-size="20" font-weight="bold" text-anchor="end">5</text><text x="120.5" y="947.2" font-size="20" font-weight="bold" text-anchor="end">1</text><text x="121" y="966.7" font-size="20" font-weight="bold" text-anchor="end">0</text><text x="78.5" y="735" font-size="21.3" font-weight="bold" text-anchor="middle" transform="rotate(-90 78.5 735)">RQ value</text><text x="210.7" y="471.6" font-size="17.3" text-anchor="middle" textLength="48.5" lengthAdjust="spacingAndGlyphs" stroke="#000" stroke-width="0.35">MAFB</text><text x="331" y="471.6" font-size="17.3" text-anchor="middle" textLength="47.8" lengthAdjust="spacingAndGlyphs" stroke="#000" stroke-width="0.35">CSF1R</text><text x="451.5" y="471.6" font-size="17.3" text-anchor="middle" textLength="54.2" lengthAdjust="spacingAndGlyphs" stroke="#000" stroke-width="0.35">GPR34</text><text x="574" y="471.6" font-size="17.3" text-anchor="middle" textLength="45.9" lengthAdjust="spacingAndGlyphs" stroke="#000" stroke-width="0.35">HEXB</text><text x="709.8" y="471.6" font-size="17.3" text-anchor="middle" textLength="41.6" lengthAdjust="spacingAndGlyphs" stroke="#000" stroke-width="0.35">C1QA</text><text x="207.6" y="517.5" font-size="32" text-anchor="middle" stroke="#000" stroke-width="0.4">***</text><text x="329.8" y="517.5" font-size="32" text-anchor="middle" stroke="#000" stroke-width="0.4">*</text><text x="452" y="517.5" font-size="32" text-anchor="middle" stroke="#000" stroke-width="0.4">**</text><text x="577.8" y="517.5" font-size="32" text-anchor="middle" stroke="#000" stroke-width="0.4">****</text><text x="711" y="517.5" font-size="32" text-anchor="middle" stroke="#000" stroke-width="0.4">****</text><line x1="175.5" y1="518.2" x2="240" y2="518.2" stroke="#666" stroke-width="1.5"/><line x1="299.4" y1="518.2" x2="364" y2="518.2" stroke="#666" stroke-width="1.5"/><line x1="420.8" y1="518.2" x2="485.3" y2="518.2" stroke="#666" stroke-width="1.5"/><line x1="545.7" y1="518.2" x2="610.5" y2="518.2" stroke="#666" stroke-width="1.5"/><line x1="677.6" y1="518.2" x2="742.7" y2="518.2" stroke="#666" stroke-width="1.5"/><text x="178" y="988" font-size="21.5" font-weight="bold" text-anchor="end" transform="rotate(-45 178 988)">PD-PBMCs</text><text x="236" y="988" font-size="21.5" font-weight="bold" text-anchor="end" transform="rotate(-45 236 988)">PD-iMGs</text><text x="303.1" y="988" font-size="21.5" font-weight="bold" text-anchor="end" transform="rotate(-45 303.1 988)">PD-PBMCs</text><text x="361.2" y="988" font-size="21.5" font-weight="bold" text-anchor="end" transform="rotate(-45 361.2 988)">PD-iMGs</text><text x="428.1" y="988" font-size="21.5" font-weight="bold" text-anchor="end" transform="rotate(-45 428.1 988)">PD-PBMCs</text><text x="486.4" y="988" font-size="21.5" font-weight="bold" text-anchor="end" transform="rotate(-45 486.4 988)">PD-iMGs</text><text x="553.6" y="988" font-size="21.5" font-weight="bold" text-anchor="end" transform="rotate(-45 553.6 988)">PD-PBMCs</text><text x="611.6" y="988" font-size="21.5" font-weight="bold" text-anchor="end" transform="rotate(-45 611.6 988)">PD-iMGs</text><text x="679.3" y="988" font-size="21.5" font-weight="bold" text-anchor="end" transform="rotate(-45 679.3 988)">PD-PBMCs</text><text x="737.3" y="988" font-size="21.5" font-weight="bold" text-anchor="end" transform="rotate(-45 737.3 988)">PD-iMGs</text><text x="15.5" y="514.5" font-size="70" font-weight="bold" textLength="40" lengthAdjust="spacingAndGlyphs" stroke="#000" stroke-width="1">b</text></g>
<g id="pc"><line x1="1150.4" y1="513.6" x2="1150.4" y2="946.5" stroke="#666" stroke-width="1.5" stroke-dasharray="4.4 2.2"/><line x1="1283.1" y1="513.6" x2="1283.1" y2="946.5" stroke="#666" stroke-width="1.5" stroke-dasharray="4.4 2.2"/><line x1="1415.8" y1="513.6" x2="1415.8" y2="946.5" stroke="#666" stroke-width="1.5" stroke-dasharray="4.4 2.2"/><line x1="1548.3" y1="513.6" x2="1548.3" y2="946.5" stroke="#666" stroke-width="1.5" stroke-dasharray="4.4 2.2"/><line x1="1033" y1="931.5" x2="1073" y2="931.5" stroke="#000" stroke-width="2"/><line x1="1165.8" y1="913" x2="1206" y2="913" stroke="#000" stroke-width="2"/><line x1="1298.7" y1="887.9" x2="1338.7" y2="887.9" stroke="#000" stroke-width="2"/><line x1="1431.7" y1="880.7" x2="1471.7" y2="880.7" stroke="#000" stroke-width="2"/><line x1="1563.8" y1="667.9" x2="1604.3" y2="667.9" stroke="#000" stroke-width="2"/><line x1="1094.3" y1="927.7" x2="1134.3" y2="927.7" stroke="#000" stroke-width="2"/><line x1="1226.5" y1="911.1" x2="1267.8" y2="911.1" stroke="#000" stroke-width="2"/><line x1="1360" y1="885.8" x2="1400" y2="885.8" stroke="#000" stroke-width="2"/><line x1="1492.3" y1="714.9" x2="1532.8" y2="714.9" stroke="#000" stroke-width="2"/><line x1="1625.2" y1="687" x2="1665.2" y2="687" stroke="#000" stroke-width="2"/><circle cx="1053" cy="911.7" r="3.7" fill="#1a1a1a"/><circle cx="1036.2" cy="938.2" r="3.7" fill="#1a1a1a"/><circle cx="1044" cy="933" r="3.7" fill="#1a1a1a"/><circle cx="1053" cy="931" r="3.7" fill="#1a1a1a"/><circle cx="1061.5" cy="929.2" r="3.7" fill="#1a1a1a"/><circle cx="1053" cy="937.5" r="3.7" fill="#1a1a1a"/><circle cx="1061.5" cy="936.7" r="3.7" fill="#1a1a1a"/><circle cx="1070.3" cy="938.8" r="3.7" fill="#1a1a1a"/><circle cx="1185.9" cy="871.1" r="3.7" fill="#1a1a1a"/><circle cx="1185.9" cy="901.3" r="3.7" fill="#1a1a1a"/><circle cx="1185.9" cy="915" r="3.7" fill="#1a1a1a"/><circle cx="1173" cy="922" r="3.7" fill="#1a1a1a"/><circle cx="1185.9" cy="922.8" r="3.7" fill="#1a1a1a"/><circle cx="1198.8" cy="922" r="3.7" fill="#1a1a1a"/><circle cx="1173" cy="928.4" r="3.7" fill="#1a1a1a"/><circle cx="1198.8" cy="928" r="3.7" fill="#1a1a1a"/><circle cx="1306" cy="870.4" r="3.7" fill="#1a1a1a"/><circle cx="1331" cy="875.5" r="3.7" fill="#1a1a1a"/><circle cx="1306" cy="881.5" r="3.7" fill="#1a1a1a"/><circle cx="1331" cy="883.3" r="3.7" fill="#1a1a1a"/><circle cx="1318.1" cy="886.6" r="3.7" fill="#1a1a1a"/><circle cx="1306" cy="901.8" r="3.7" fill="#1a1a1a"/><circle cx="1318.1" cy="900.6" r="3.7" fill="#1a1a1a"/><circle cx="1331" cy="901.8" r="3.7" fill="#1a1a1a"/><circle cx="1451" cy="821.3" r="3.7" fill="#1a1a1a"/><circle cx="1445.4" cy="854.4" r="3.7" fill="#1a1a1a"/><circle cx="1457.5" cy="855.4" r="3.7" fill="#1a1a1a"/><circle cx="1451" cy="879.4" r="3.7" fill="#1a1a1a"/><circle cx="1434.3" cy="912.7" r="3.7" fill="#1a1a1a"/><circle cx="1445.4" cy="907.3" r="3.7" fill="#1a1a1a"/><circle cx="1457.5" cy="910.9" r="3.7" fill="#1a1a1a"/><circle cx="1468.6" cy="908.6" r="3.7" fill="#1a1a1a"/><circle cx="1583.9" cy="607.8" r="3.7" fill="#1a1a1a"/><circle cx="1583.9" cy="615.5" r="3.7" fill="#1a1a1a"/><circle cx="1571.5" cy="683.4" r="3.7" fill="#1a1a1a"/><circle cx="1583.9" cy="680.8" r="3.7" fill="#1a1a1a"/><circle cx="1596.6" cy="684.7" r="3.7" fill="#1a1a1a"/><circle cx="1583.9" cy="688.6" r="3.7" fill="#1a1a1a"/><circle cx="1571.5" cy="693.5" r="3.7" fill="#1a1a1a"/><circle cx="1596.6" cy="691.7" r="3.7" fill="#1a1a1a"/><rect x="1105.3" y="915.4" width="6.4" height="6.4" fill="#f5270c" stroke="#2a0805" stroke-width="1.3"/><rect x="1116.8" y="914.4" width="6.4" height="6.4" fill="#f5270c" stroke="#2a0805" stroke-width="1.3"/><rect x="1094.2" y="926.5" width="6.4" height="6.4" fill="#f5270c" stroke="#2a0805" stroke-width="1.3"/><rect x="1116.8" y="922.1" width="6.4" height="6.4" fill="#f5270c" stroke="#2a0805" stroke-width="1.3"/><rect x="1094.2" y="931.7" width="6.4" height="6.4" fill="#f5270c" stroke="#2a0805" stroke-width="1.3"/><rect x="1105.3" y="929.1" width="6.4" height="6.4" fill="#f5270c" stroke="#2a0805" stroke-width="1.3"/><rect x="1116.8" y="929.8" width="6.4" height="6.4" fill="#f5270c" stroke="#2a0805" stroke-width="1.3"/><rect x="1128.5" y="929.8" width="6.4" height="6.4" fill="#f5270c" stroke="#2a0805" stroke-width="1.3"/><rect x="1243.9" y="873.1" width="6.4" height="6.4" fill="#f5270c" stroke="#2a0805" stroke-width="1.3"/><rect x="1243.9" y="891.7" width="6.4" height="6.4" fill="#f5270c" stroke="#2a0805" stroke-width="1.3"/><rect x="1227.1" y="912.3" width="6.4" height="6.4" fill="#f5270c" stroke="#2a0805" stroke-width="1.3"/><rect x="1238.2" y="911.8" width="6.4" height="6.4" fill="#f5270c" stroke="#2a0805" stroke-width="1.3"/><rect x="1249.8" y="914.4" width="6.4" height="6.4" fill="#f5270c" stroke="#2a0805" stroke-width="1.3"/><rect x="1261.5" y="912.3" width="6.4" height="6.4" fill="#f5270c" stroke="#2a0805" stroke-width="1.3"/><rect x="1238.2" y="929.1" width="6.4" height="6.4" fill="#f5270c" stroke="#2a0805" stroke-width="1.3"/><rect x="1249.8" y="927.3" width="6.4" height="6.4" fill="#f5270c" stroke="#2a0805" stroke-width="1.3"/><rect x="1376.8" y="830.2" width="6.4" height="6.4" fill="#f5270c" stroke="#2a0805" stroke-width="1.3"/><rect x="1376.8" y="862.3" width="6.4" height="6.4" fill="#f5270c" stroke="#2a0805" stroke-width="1.3"/><rect x="1363.9" y="882.1" width="6.4" height="6.4" fill="#f5270c" stroke="#2a0805" stroke-width="1.3"/><rect x="1389.2" y="882.1" width="6.4" height="6.4" fill="#f5270c" stroke="#2a0805" stroke-width="1.3"/><rect x="1376.8" y="886" width="6.4" height="6.4" fill="#f5270c" stroke="#2a0805" stroke-width="1.3"/><rect x="1363.9" y="908.2" width="6.4" height="6.4" fill="#f5270c" stroke="#2a0805" stroke-width="1.3"/><rect x="1376.8" y="904.8" width="6.4" height="6.4" fill="#f5270c" stroke="#2a0805" stroke-width="1.3"/><rect x="1389.2" y="906.1" width="6.4" height="6.4" fill="#f5270c" stroke="#2a0805" stroke-width="1.3"/><rect x="1509.5" y="694.9" width="6.4" height="6.4" fill="#f5270c" stroke="#2a0805" stroke-width="1.3"/><rect x="1503" y="701.4" width="6.4" height="6.4" fill="#f5270c" stroke="#2a0805" stroke-width="1.3"/><rect x="1515.9" y="701.9" width="6.4" height="6.4" fill="#f5270c" stroke="#2a0805" stroke-width="1.3"/><rect x="1509.5" y="708.6" width="6.4" height="6.4" fill="#f5270c" stroke="#2a0805" stroke-width="1.3"/><rect x="1509.3" y="752.3" width="6.4" height="6.4" fill="#f5270c" stroke="#2a0805" stroke-width="1.3"/><rect x="1509.3" y="765.6" width="6.4" height="6.4" fill="#f5270c" stroke="#2a0805" stroke-width="1.3"/><rect x="1502.8" y="829.3" width="6.4" height="6.4" fill="#f5270c" stroke="#2a0805" stroke-width="1.3"/><rect x="1515.7" y="829.2" width="6.4" height="6.4" fill="#f5270c" stroke="#2a0805" stroke-width="1.3"/><rect x="1641.9" y="558.9" width="6.4" height="6.4" fill="#f5270c" stroke="#2a0805" stroke-width="1.3"/><rect x="1641.9" y="680.2" width="6.4" height="6.4" fill="#f5270c" stroke="#2a0805" stroke-width="1.3"/><rect x="1629" y="691.1" width="6.4" height="6.4" fill="#f5270c" stroke="#2a0805" stroke-width="1.3"/><rect x="1641.9" y="695.7" width="6.4" height="6.4" fill="#f5270c" stroke="#2a0805" stroke-width="1.3"/><rect x="1629" y="706" width="6.4" height="6.4" fill="#f5270c" stroke="#2a0805" stroke-width="1.3"/><rect x="1641.9" y="711.2" width="6.4" height="6.4" fill="#f5270c" stroke="#2a0805" stroke-width="1.3"/><rect x="1654.8" y="707.8" width="6.4" height="6.4" fill="#f5270c" stroke="#2a0805" stroke-width="1.3"/><rect x="1641.9" y="775" width="6.4" height="6.4" fill="#f5270c" stroke="#2a0805" stroke-width="1.3"/><path d="M1012.4 512.2V718M1003.1 709L1022.8 726M1003.1 734.3L1022.8 752.9M1012.4 743V946.5M997.5 946.5H1688.3" stroke="#000" stroke-width="3.8" fill="none"/><path d="M989.2 514.1H1012.4M989.2 572.4H1012.4M989.2 631H1012.4M989.2 689.9H1012.4M997.5 761.9H1012.4M997.5 853.6H1012.4M1052.2 946.5V962.4M1114.1 946.5V962.4M1185.9 946.5V962.4M1247 946.5V962.4M1317.6 946.5V962.4M1379.3 946.5V962.4M1450.5 946.5V962.4M1511.7 946.5V962.4M1582.7 946.5V962.4M1644.3 946.5V962.4" stroke="#000" stroke-width="3.6" fill="none"/><text x="987" y="522.1" font-size="22.3" font-weight="bold" text-anchor="end">80</text><text x="987" y="580.4" font-size="22.3" font-weight="bold" text-anchor="end">60</text><text x="987" y="639" font-size="22.3" font-weight="bold" text-anchor="end">40</text><text x="987" y="697.9" font-size="22.3" font-weight="bold" text-anchor="end">20</text><text x="994.5" y="769.9" font-size="22.3" font-weight="bold" text-anchor="end">10</text><text x="994.5" y="861.6" font-size="22.3" font-weight="bold" text-anchor="end">5</text><text x="994.5" y="954.5" font-size="22.3" font-weight="bold" text-anchor="end">0</text><text x="901" y="727.5" font-size="25.3" font-weight="bold" text-anchor="middle" transform="rotate(-90 901 727.5)">Fold change</text><text x="933" y="726.5" font-size="25.3" font-weight="bold" text-anchor="middle" transform="rotate(-90 933 726.5)">(Normalized to HC- or PD-PBMCs)</text><text x="1081" y="482.6" font-size="23.6" text-anchor="middle" textLength="66" lengthAdjust="spacingAndGlyphs" stroke="#000" stroke-width="0.4">MAFB</text><text x="1213.5" y="482.6" font-size="23.6" text-anchor="middle" textLength="66.3" lengthAdjust="spacingAndGlyphs" stroke="#000" stroke-width="0.4">CSF1R</text><text x="1345.2" y="482.6" font-size="23.6" text-anchor="middle" textLength="74.9" lengthAdjust="spacingAndGlyphs" stroke="#000" stroke-width="0.4">GPR34</text><text x="1479.3" y="482.6" font-size="23.6" text-anchor="middle" textLength="63.3" lengthAdjust="spacingAndGlyphs" stroke="#000" stroke-width="0.4">HEXB</text><text x="1613.2" y="482.6" font-size="23.6" text-anchor="middle" textLength="57.6" lengthAdjust="spacingAndGlyphs" stroke="#000" stroke-width="0.4">C1QA</text><text x="1483" y="531" font-size="42" text-anchor="middle" stroke="#000" stroke-width="0.5">***</text><line x1="1438.6" y1="530.3" x2="1528.4" y2="530.3" stroke="#000" stroke-width="1.6"/><text x="1058.2" y="981.5" font-size="23.3" font-weight="bold" text-anchor="end" transform="rotate(-45 1058.2 981.5)">HC-iMGs</text><text x="1120.1" y="981.5" font-size="23.3" font-weight="bold" text-anchor="end" transform="rotate(-45 1120.1 981.5)">PD-iMGs</text><text x="1191.9" y="981.5" font-size="23.3" font-weight="bold" text-anchor="end" transform="rotate(-45 1191.9 981.5)">HC-iMGs</text><text x="1253" y="981.5" font-size="23.3" font-weight="bold" text-anchor="end" transform="rotate(-45 1253 981.5)">PD-iMGs</text><text x="1323.6" y="981.5" font-size="23.3" font-weight="bold" text-anchor="end" transform="rotate(-45 1323.6 981.5)">HC-iMGs</text><text x="1385.3" y="981.5" font-size="23.3" font-weight="bold" text-anchor="end" transform="rotate(-45 1385.3 981.5)">PD-iMGs</text><text x="1456.5" y="981.5" font-size="23.3" font-weight="bold" text-anchor="end" transform="rotate(-45 1456.5 981.5)">HC-iMGs</text><text x="1517.7" y="981.5" font-size="23.3" font-weight="bold" text-anchor="end" transform="rotate(-45 1517.7 981.5)">PD-iMGs</text><text x="1588.7" y="981.5" font-size="23.3" font-weight="bold" text-anchor="end" transform="rotate(-45 1588.7 981.5)">HC-iMGs</text><text x="1650.3" y="981.5" font-size="23.3" font-weight="bold" text-anchor="end" transform="rotate(-45 1650.3 981.5)">PD-iMGs</text><text x="839" y="499" font-size="64" font-weight="bold" textLength="37" lengthAdjust="spacingAndGlyphs" stroke="#000" stroke-width="1">c</text></g>
<g id="pd"><defs>
<filter id="fgr" x="-5%" y="-5%" width="110%" height="110%" color-interpolation-filters="sRGB"><feGaussianBlur in="SourceGraphic" stdDeviation="5" result="b"/><feTurbulence type="fractalNoise" baseFrequency="0.05" numOctaves="2" seed="4" result="t"/><feColorMatrix in="t" type="matrix" values="0 2.2 0 0 -0.6 0 2.2 0 0 -0.6 0 2.2 0 0 -0.6 0 0 0 0 1" result="n"/><feComposite in="b" in2="n" operator="arithmetic" k1="0.9" k2="0.55" k3="0" k4="0"/></filter>
<filter id="fgs" x="-5%" y="-5%" width="110%" height="110%" color-interpolation-filters="sRGB"><feGaussianBlur in="SourceGraphic" stdDeviation="5" result="b"/><feTurbulence type="fractalNoise" baseFrequency="0.055" numOctaves="2" seed="9" result="t"/><feColorMatrix in="t" type="matrix" values="0 3.2 0 0 -1.1 0 3.2 0 0 -1.1 0 3.2 0 0 -1.1 0 0 0 0 1" result="n"/><feComposite in="b" in2="n" operator="arithmetic" k1="1.2" k2="0.3" k3="0" k4="0"/></filter>
<filter id="fgg" x="-5%" y="-5%" width="110%" height="110%" color-interpolation-filters="sRGB"><feGaussianBlur in="SourceGraphic" stdDeviation="5" result="b"/><feTurbulence type="fractalNoise" baseFrequency="0.06" numOctaves="2" seed="7" result="t"/><feColorMatrix in="t" type="matrix" values="0 2 0 0 -0.5 0 2 0 0 -0.5 0 2 0 0 -0.5 0 0 0 0 1" result="n"/><feComposite in="b" in2="n" operator="arithmetic" k1="0.6" k2="0.72" k3="0" k4="0"/></filter>
<filter id="fgr2" x="-8%" y="-8%" width="116%" height="116%" color-interpolation-filters="sRGB"><feGaussianBlur in="SourceGraphic" stdDeviation="11" result="b"/><feTurbulence type="fractalNoise" baseFrequency="0.07" numOctaves="2" seed="4" result="t"/><feColorMatrix in="t" type="matrix" values="0 2 0 0 -0.5 0 2 0 0 -0.5 0 2 0 0 -0.5 0 0 0 0 1" result="n"/><feComposite in="b" in2="n" operator="arithmetic" k1="0.8" k2="0.6" k3="0" k4="0"/></filter>
<filter id="fb2" x="-5%" y="-5%" width="110%" height="110%"><feGaussianBlur stdDeviation="2.2"/></filter>
<filter id="fb4" x="-5%" y="-5%" width="110%" height="110%"><feGaussianBlur stdDeviation="4.5"/></filter>
<filter id="fb9" x="-10%" y="-10%" width="120%" height="120%"><feGaussianBlur stdDeviation="10"/></filter>
<filter id="fbn" x="0" y="0" width="100%" height="100%" color-interpolation-filters="sRGB"><feTurbulence type="fractalNoise" baseFrequency="0.1" numOctaves="2" seed="5"/><feColorMatrix type="matrix" values="0 0 0 0 0.03 0 0 0 0 0.02 0 0 0.9 0 -0.32 0 0 0 0 1"/></filter>
</defs><clipPath id="cl1"><rect x="94.2" y="1159.5" width="297.1" height="296.8"/></clipPath><g clip-path="url(#cl1)"><rect x="94.2" y="1159.5" width="297.1" height="296.8" fill="#000"/><g transform="translate(94.2 1159.5) scale(0.19670) translate(-47 -47)"><g filter="url(#fgr)"><path d="M170 70C175 68 208 86 230 95C252 104 275 119 300 125C325 131 357 126 380 130C403 134 425 153 440 150C455 147 460 110 470 110C480 110 485 142 500 150C515 158 540 159 560 160C580 161 597 155 620 155C643 155 680 164 700 160C720 156 730 142 740 130C750 118 753 83 760 85C767 87 775 122 780 140C785 158 782 178 790 190C798 202 818 202 830 210C842 218 848 242 860 240C872 238 892 193 900 195C908 197 903 234 910 250C917 266 925 282 940 290C955 298 980 301 1000 300C1020 299 1043 293 1060 285C1077 277 1092 262 1100 250C1108 238 1102 223 1110 215C1118 207 1137 198 1150 200C1163 202 1188 217 1190 230C1192 243 1163 263 1160 280C1157 297 1175 323 1170 330C1165 337 1142 317 1130 320C1118 323 1103 338 1100 350C1097 362 1102 368 1110 390C1118 412 1135 455 1150 480C1165 505 1182 520 1200 540C1218 560 1240 577 1260 600C1280 623 1305 657 1320 680C1335 703 1337 715 1350 740C1363 765 1388 808 1400 830C1412 852 1424 869 1420 870C1416 871 1389 854 1375 835C1361 816 1347 779 1335 755C1323 731 1317 714 1302 690C1287 666 1265 636 1246 612C1227 588 1204 569 1186 548C1168 527 1152 513 1137 488C1122 463 1107 425 1096 400C1085 375 1083 353 1070 340C1057 327 1040 322 1020 320C1000 318 970 322 950 330C930 338 913 355 900 370C887 385 883 408 870 420C857 432 832 430 820 440C808 450 800 465 800 480C800 495 813 513 820 530C827 547 840 565 840 580C840 595 833 610 820 620C807 630 780 634 760 640C740 646 717 655 700 655C683 655 670 649 660 640C650 631 650 612 640 600C630 588 617 580 600 570C583 560 554 553 540 540C526 527 517 505 515 490C513 475 532 465 530 450C528 435 507 420 500 400C493 380 492 353 490 330C488 307 483 280 485 260C487 240 504 223 500 210C496 197 477 188 460 180C443 172 422 165 400 160C378 155 353 155 330 150C307 145 282 137 260 130C238 123 215 120 200 110C185 100 165 72 170 70Z" fill="#25bb30" /><path d="M500 200C505 164 527 171 560 165C593 159 673 154 700 165C727 176 720 208 720 230C720 252 720 297 700 300C680 303 630 250 600 250C570 250 535 272 520 300C505 328 507 383 510 420C513 457 522 493 540 520C558 547 593 560 620 580C647 600 673 632 700 640C727 648 758 638 780 630C802 622 828 602 830 590C832 578 812 558 790 560C768 562 728 603 700 600C672 597 643 562 620 540C597 518 575 497 560 470C545 443 540 425 530 380C520 335 495 236 500 200Z" fill="#34ee3c" /><path d="M700 260C723 232 770 223 800 230C830 237 863 278 880 300C897 322 903 342 900 360C897 378 877 397 860 410C843 423 817 425 800 440C783 455 777 493 760 500C743 507 717 497 700 480C683 463 660 437 660 400C660 363 677 288 700 260Z" fill="#15751f" opacity="0.85" /><path d="M580 440C593 425 663 457 700 470C737 483 783 500 800 520C817 540 817 573 800 590C783 607 730 625 700 620C670 615 640 590 620 560C600 530 567 455 580 440Z" fill="#15751f" opacity="0.6" /><path d="M860 720C875 720 899 727 910 740C921 753 927 780 925 800C923 820 908 840 900 860C892 880 882 897 875 920C868 943 862 970 858 1000C854 1030 850 1067 850 1100C850 1133 853 1168 858 1200C863 1232 868 1258 880 1290C892 1322 905 1358 930 1390C955 1422 1010 1452 1030 1480C1050 1508 1105 1547 1050 1560C995 1573 765 1572 700 1560C635 1548 655 1512 660 1490C665 1468 707 1452 730 1430C753 1408 786 1390 800 1360C814 1330 812 1293 815 1250C818 1207 816 1145 818 1100C820 1055 822 1013 825 980C828 947 842 922 838 900C834 878 808 868 800 850C792 832 787 808 790 790C793 772 808 752 820 740C832 728 845 720 860 720Z" fill="#25bb30" /><path d="M700 1500C713 1477 767 1433 800 1420C833 1407 867 1407 900 1420C933 1433 978 1477 1000 1500C1022 1523 1077 1550 1030 1560C983 1570 775 1570 720 1560C665 1550 687 1523 700 1500Z" fill="#15751f" opacity="0.55" /><path d="M845 780C852 775 874 780 880 790C886 800 885 830 880 840C875 850 858 853 850 850C842 847 836 832 835 820C834 808 838 785 845 780Z" fill="#062408" /><path d="M690 1470C700 1458 745 1445 760 1450C775 1455 783 1485 780 1500C777 1515 753 1537 740 1540C727 1543 708 1532 700 1520C692 1508 680 1482 690 1470Z" fill="#34ee3c" /></g><path d="M715 1418a3.9 3.9 0 1 0 7.8 0a3.9 3.9 0 1 0 -7.8 0M899 1184a4.3 4.3 0 1 0 8.5 0a4.3 4.3 0 1 0 -8.5 0M910 1253a4.9 4.9 0 1 0 9.8 0a4.9 4.9 0 1 0 -9.8 0M983 953a3.4 3.4 0 1 0 6.8 0a3.4 3.4 0 1 0 -6.8 0M1034 1288a2.6 2.6 0 1 0 5.3 0a2.6 2.6 0 1 0 -5.3 0M968 1450a5.4 5.4 0 1 0 10.8 0a5.4 5.4 0 1 0 -10.8 0M767 988a2.5 2.5 0 1 0 5.1 0a2.5 2.5 0 1 0 -5.1 0M726 1196a2.7 2.7 0 1 0 5.4 0a2.7 2.7 0 1 0 -5.4 0M888 917a3.9 3.9 0 1 0 7.8 0a3.9 3.9 0 1 0 -7.8 0M935 1147a5.0 5.0 0 1 0 10.1 0a5.0 5.0 0 1 0 -10.1 0M692 1180a4.5 4.5 0 1 0 9.0 0a4.5 4.5 0 1 0 -9.0 0M837 1156a3.3 3.3 0 1 0 6.7 0a3.3 3.3 0 1 0 -6.7 0M1235 1371a4.6 4.6 0 1 0 9.2 0a4.6 4.6 0 1 0 -9.2 0M851 1077a3.2 3.2 0 1 0 6.4 0a3.2 3.2 0 1 0 -6.4 0M846 1329a3.7 3.7 0 1 0 7.4 0a3.7 3.7 0 1 0 -7.4 0M899 1374a3.7 3.7 0 1 0 7.3 0a3.7 3.7 0 1 0 -7.3 0M1072 900a3.1 3.1 0 1 0 6.3 0a3.1 3.1 0 1 0 -6.3 0M798 1410a3.9 3.9 0 1 0 7.8 0a3.9 3.9 0 1 0 -7.8 0M970 941a4.4 4.4 0 1 0 8.8 0a4.4 4.4 0 1 0 -8.8 0M842 1336a3.3 3.3 0 1 0 6.6 0a3.3 3.3 0 1 0 -6.6 0M944 1440a4.8 4.8 0 1 0 9.5 0a4.8 4.8 0 1 0 -9.5 0M911 966a3.2 3.2 0 1 0 6.5 0a3.2 3.2 0 1 0 -6.5 0M890 1346a3.0 3.0 0 1 0 6.1 0a3.0 3.0 0 1 0 -6.1 0M880 1213a3.8 3.8 0 1 0 7.7 0a3.8 3.8 0 1 0 -7.7 0M924 973a4.4 4.4 0 1 0 8.9 0a4.4 4.4 0 1 0 -8.9 0M1030 965a3.8 3.8 0 1 0 7.5 0a3.8 3.8 0 1 0 -7.5 0M876 1444a4.9 4.9 0 1 0 9.8 0a4.9 4.9 0 1 0 -9.8 0M944 1070a5.2 5.2 0 1 0 10.3 0a5.2 5.2 0 1 0 -10.3 0M884 1378a4.4 4.4 0 1 0 8.9 0a4.4 4.4 0 1 0 -8.9 0M966 956a5.5 5.5 0 1 0 10.9 0a5.5 5.5 0 1 0 -10.9 0M877 1333a3.5 3.5 0 1 0 7.0 0a3.5 3.5 0 1 0 -7.0 0M944 1066a2.7 2.7 0 1 0 5.4 0a2.7 2.7 0 1 0 -5.4 0M984 1036a4.3 4.3 0 1 0 8.6 0a4.3 4.3 0 1 0 -8.6 0M938 1108a3.9 3.9 0 1 0 7.7 0a3.9 3.9 0 1 0 -7.7 0M983 1222a5.1 5.1 0 1 0 10.2 0a5.1 5.1 0 1 0 -10.2 0M823 1002a3.0 3.0 0 1 0 5.9 0a3.0 3.0 0 1 0 -5.9 0M1035 1040a3.1 3.1 0 1 0 6.1 0a3.1 3.1 0 1 0 -6.1 0M739 1314a5.3 5.3 0 1 0 10.6 0a5.3 5.3 0 1 0 -10.6 0M948 1394a4.3 4.3 0 1 0 8.6 0a4.3 4.3 0 1 0 -8.6 0M1123 1136a2.8 2.8 0 1 0 5.6 0a2.8 2.8 0 1 0 -5.6 0M1142 1034a4.6 4.6 0 1 0 9.2 0a4.6 4.6 0 1 0 -9.2 0M926 1044a5.0 5.0 0 1 0 9.9 0a5.0 5.0 0 1 0 -9.9 0M777 998a4.7 4.7 0 1 0 9.3 0a4.7 4.7 0 1 0 -9.3 0M802 939a3.2 3.2 0 1 0 6.4 0a3.2 3.2 0 1 0 -6.4 0M647 1244a3.3 3.3 0 1 0 6.7 0a3.3 3.3 0 1 0 -6.7 0M775 1414a3.1 3.1 0 1 0 6.2 0a3.1 3.1 0 1 0 -6.2 0M948 1150a2.7 2.7 0 1 0 5.4 0a2.7 2.7 0 1 0 -5.4 0M866 999a3.6 3.6 0 1 0 7.2 0a3.6 3.6 0 1 0 -7.2 0M800 1103a5.2 5.2 0 1 0 10.3 0a5.2 5.2 0 1 0 -10.3 0M829 1449a4.5 4.5 0 1 0 8.9 0a4.5 4.5 0 1 0 -8.9 0M802 979a2.6 2.6 0 1 0 5.2 0a2.6 2.6 0 1 0 -5.2 0M713 910a5.2 5.2 0 1 0 10.5 0a5.2 5.2 0 1 0 -10.5 0M766 912a4.4 4.4 0 1 0 8.8 0a4.4 4.4 0 1 0 -8.8 0M574 1170a4.7 4.7 0 1 0 9.4 0a4.7 4.7 0 1 0 -9.4 0M671 942a4.1 4.1 0 1 0 8.3 0a4.1 4.1 0 1 0 -8.3 0M1255 1313a5.2 5.2 0 1 0 10.4 0a5.2 5.2 0 1 0 -10.4 0M840 1344a5.2 5.2 0 1 0 10.5 0a5.2 5.2 0 1 0 -10.5 0M677 1097a4.6 4.6 0 1 0 9.1 0a4.6 4.6 0 1 0 -9.1 0M1044 1134a4.9 4.9 0 1 0 9.7 0a4.9 4.9 0 1 0 -9.7 0M720 1384a4.2 4.2 0 1 0 8.4 0a4.2 4.2 0 1 0 -8.4 0M776 1226a4.3 4.3 0 1 0 8.7 0a4.3 4.3 0 1 0 -8.7 0M776 945a4.4 4.4 0 1 0 8.8 0a4.4 4.4 0 1 0 -8.8 0M1093 1308a3.7 3.7 0 1 0 7.3 0a3.7 3.7 0 1 0 -7.3 0M846 1312a4.2 4.2 0 1 0 8.5 0a4.2 4.2 0 1 0 -8.5 0M651 947a4.8 4.8 0 1 0 9.5 0a4.8 4.8 0 1 0 -9.5 0M936 917a4.3 4.3 0 1 0 8.6 0a4.3 4.3 0 1 0 -8.6 0M773 1291a4.0 4.0 0 1 0 8.0 0a4.0 4.0 0 1 0 -8.0 0M865 1244a5.3 5.3 0 1 0 10.5 0a5.3 5.3 0 1 0 -10.5 0M855 1069a4.5 4.5 0 1 0 9.1 0a4.5 4.5 0 1 0 -9.1 0M874 1013a3.0 3.0 0 1 0 6.0 0a3.0 3.0 0 1 0 -6.0 0M995 1147a5.2 5.2 0 1 0 10.4 0a5.2 5.2 0 1 0 -10.4 0M761 1083a4.5 4.5 0 1 0 9.0 0a4.5 4.5 0 1 0 -9.0 0M894 1351a5.2 5.2 0 1 0 10.5 0a5.2 5.2 0 1 0 -10.5 0M972 1393a3.7 3.7 0 1 0 7.3 0a3.7 3.7 0 1 0 -7.3 0M769 976a4.0 4.0 0 1 0 8.0 0a4.0 4.0 0 1 0 -8.0 0M805 1369a5.0 5.0 0 1 0 10.1 0a5.0 5.0 0 1 0 -10.1 0M789 1055a3.0 3.0 0 1 0 6.0 0a3.0 3.0 0 1 0 -6.0 0M583 1152a3.3 3.3 0 1 0 6.7 0a3.3 3.3 0 1 0 -6.7 0M883 1250a4.0 4.0 0 1 0 8.0 0a4.0 4.0 0 1 0 -8.0 0M971 1077a5.0 5.0 0 1 0 10.0 0a5.0 5.0 0 1 0 -10.0 0M983 942a2.6 2.6 0 1 0 5.2 0a2.6 2.6 0 1 0 -5.2 0M843 1389a2.6 2.6 0 1 0 5.2 0a2.6 2.6 0 1 0 -5.2 0M817 1073a4.9 4.9 0 1 0 9.7 0a4.9 4.9 0 1 0 -9.7 0M713 911a2.9 2.9 0 1 0 5.8 0a2.9 2.9 0 1 0 -5.8 0M832 1365a3.2 3.2 0 1 0 6.4 0a3.2 3.2 0 1 0 -6.4 0M865 979a2.6 2.6 0 1 0 5.3 0a2.6 2.6 0 1 0 -5.3 0M769 1253a4.5 4.5 0 1 0 8.9 0a4.5 4.5 0 1 0 -8.9 0M764 1352a5.4 5.4 0 1 0 10.8 0a5.4 5.4 0 1 0 -10.8 0M826 1166a3.0 3.0 0 1 0 6.1 0a3.0 3.0 0 1 0 -6.1 0M786 906a3.9 3.9 0 1 0 7.8 0a3.9 3.9 0 1 0 -7.8 0M840 1053a3.5 3.5 0 1 0 7.1 0a3.5 3.5 0 1 0 -7.1 0M786 1290a4.1 4.1 0 1 0 8.1 0a4.1 4.1 0 1 0 -8.1 0M710 1120a4.9 4.9 0 1 0 9.8 0a4.9 4.9 0 1 0 -9.8 0M730 1407a2.8 2.8 0 1 0 5.5 0a2.8 2.8 0 1 0 -5.5 0M1024 973a3.9 3.9 0 1 0 7.7 0a3.9 3.9 0 1 0 -7.7 0M779 1250a5.2 5.2 0 1 0 10.5 0a5.2 5.2 0 1 0 -10.5 0M748 1392a4.9 4.9 0 1 0 9.8 0a4.9 4.9 0 1 0 -9.8 0M960 1429a3.9 3.9 0 1 0 7.8 0a3.9 3.9 0 1 0 -7.8 0M810 1304a5.0 5.0 0 1 0 9.9 0a5.0 5.0 0 1 0 -9.9 0M792 1259a4.7 4.7 0 1 0 9.3 0a4.7 4.7 0 1 0 -9.3 0M911 1449a5.4 5.4 0 1 0 10.9 0a5.4 5.4 0 1 0 -10.9 0M1095 1201a4.9 4.9 0 1 0 9.7 0a4.9 4.9 0 1 0 -9.7 0M748 1379a3.5 3.5 0 1 0 7.1 0a3.5 3.5 0 1 0 -7.1 0M1084 946a3.8 3.8 0 1 0 7.6 0a3.8 3.8 0 1 0 -7.6 0M671 1173a2.6 2.6 0 1 0 5.2 0a2.6 2.6 0 1 0 -5.2 0M796 1353a2.7 2.7 0 1 0 5.4 0a2.7 2.7 0 1 0 -5.4 0M877 1088a4.9 4.9 0 1 0 9.7 0a4.9 4.9 0 1 0 -9.7 0M790 979a2.9 2.9 0 1 0 5.9 0a2.9 2.9 0 1 0 -5.9 0M672 1370a4.6 4.6 0 1 0 9.1 0a4.6 4.6 0 1 0 -9.1 0M837 1430a4.0 4.0 0 1 0 8.0 0a4.0 4.0 0 1 0 -8.0 0M902 1024a4.1 4.1 0 1 0 8.2 0a4.1 4.1 0 1 0 -8.2 0M840 1062a4.7 4.7 0 1 0 9.4 0a4.7 4.7 0 1 0 -9.4 0M766 1372a4.2 4.2 0 1 0 8.4 0a4.2 4.2 0 1 0 -8.4 0M749 1075a3.6 3.6 0 1 0 7.3 0a3.6 3.6 0 1 0 -7.3 0M994 1017a5.1 5.1 0 1 0 10.1 0a5.1 5.1 0 1 0 -10.1 0M652 1442a4.1 4.1 0 1 0 8.1 0a4.1 4.1 0 1 0 -8.1 0M787 1200a4.0 4.0 0 1 0 8.0 0a4.0 4.0 0 1 0 -8.0 0M823 1239a2.6 2.6 0 1 0 5.2 0a2.6 2.6 0 1 0 -5.2 0M991 1124a4.9 4.9 0 1 0 9.8 0a4.9 4.9 0 1 0 -9.8 0M830 1215a4.0 4.0 0 1 0 7.9 0a4.0 4.0 0 1 0 -7.9 0M841 1202a3.7 3.7 0 1 0 7.5 0a3.7 3.7 0 1 0 -7.5 0M815 1436a5.3 5.3 0 1 0 10.5 0a5.3 5.3 0 1 0 -10.5 0M841 971a3.8 3.8 0 1 0 7.6 0a3.8 3.8 0 1 0 -7.6 0M984 1357a5.2 5.2 0 1 0 10.4 0a5.2 5.2 0 1 0 -10.4 0M756 1007a4.4 4.4 0 1 0 8.7 0a4.4 4.4 0 1 0 -8.7 0M872 1418a2.9 2.9 0 1 0 5.8 0a2.9 2.9 0 1 0 -5.8 0M861 1009a3.2 3.2 0 1 0 6.4 0a3.2 3.2 0 1 0 -6.4 0M832 1285a3.5 3.5 0 1 0 6.9 0a3.5 3.5 0 1 0 -6.9 0M757 959a4.7 4.7 0 1 0 9.4 0a4.7 4.7 0 1 0 -9.4 0M982 969a4.0 4.0 0 1 0 8.1 0a4.0 4.0 0 1 0 -8.1 0M856 1197a3.8 3.8 0 1 0 7.6 0a3.8 3.8 0 1 0 -7.6 0M933 1110a3.7 3.7 0 1 0 7.5 0a3.7 3.7 0 1 0 -7.5 0M789 1014a4.4 4.4 0 1 0 8.8 0a4.4 4.4 0 1 0 -8.8 0M843 1258a4.1 4.1 0 1 0 8.2 0a4.1 4.1 0 1 0 -8.2 0M951 1380a3.2 3.2 0 1 0 6.4 0a3.2 3.2 0 1 0 -6.4 0M728 1315a4.9 4.9 0 1 0 9.9 0a4.9 4.9 0 1 0 -9.9 0M937 1076a5.3 5.3 0 1 0 10.5 0a5.3 5.3 0 1 0 -10.5 0M797 1022a5.5 5.5 0 1 0 11.0 0a5.5 5.5 0 1 0 -11.0 0M902 1034a4.7 4.7 0 1 0 9.4 0a4.7 4.7 0 1 0 -9.4 0M817 1045a2.8 2.8 0 1 0 5.6 0a2.8 2.8 0 1 0 -5.6 0M917 1342a2.9 2.9 0 1 0 5.8 0a2.9 2.9 0 1 0 -5.8 0M751 1126a4.6 4.6 0 1 0 9.1 0a4.6 4.6 0 1 0 -9.1 0M931 1282a5.2 5.2 0 1 0 10.5 0a5.2 5.2 0 1 0 -10.5 0M866 1442a2.8 2.8 0 1 0 5.7 0a2.8 2.8 0 1 0 -5.7 0M662 1182a4.6 4.6 0 1 0 9.1 0a4.6 4.6 0 1 0 -9.1 0M850 1006a2.7 2.7 0 1 0 5.4 0a2.7 2.7 0 1 0 -5.4 0M881 1209a4.0 4.0 0 1 0 8.1 0a4.0 4.0 0 1 0 -8.1 0M877 1218a2.9 2.9 0 1 0 5.9 0a2.9 2.9 0 1 0 -5.9 0M886 1371a5.5 5.5 0 1 0 10.9 0a5.5 5.5 0 1 0 -10.9 0M928 1419a2.8 2.8 0 1 0 5.6 0a2.8 2.8 0 1 0 -5.6 0M1117 1159a4.8 4.8 0 1 0 9.6 0a4.8 4.8 0 1 0 -9.6 0M963 1083a3.9 3.9 0 1 0 7.8 0a3.9 3.9 0 1 0 -7.8 0M736 1237a2.5 2.5 0 1 0 5.1 0a2.5 2.5 0 1 0 -5.1 0M843 1293a5.0 5.0 0 1 0 10.1 0a5.0 5.0 0 1 0 -10.1 0M909 1314a3.7 3.7 0 1 0 7.4 0a3.7 3.7 0 1 0 -7.4 0M972 1009a3.0 3.0 0 1 0 6.0 0a3.0 3.0 0 1 0 -6.0 0M835 1400a4.9 4.9 0 1 0 9.8 0a4.9 4.9 0 1 0 -9.8 0M853 1295a5.1 5.1 0 1 0 10.2 0a5.1 5.1 0 1 0 -10.2 0M776 1236a4.0 4.0 0 1 0 8.0 0a4.0 4.0 0 1 0 -8.0 0M770 1450a4.9 4.9 0 1 0 9.8 0a4.9 4.9 0 1 0 -9.8 0M842 1317a4.8 4.8 0 1 0 9.7 0a4.8 4.8 0 1 0 -9.7 0M1109 1356a3.7 3.7 0 1 0 7.4 0a3.7 3.7 0 1 0 -7.4 0M1044 1289a4.8 4.8 0 1 0 9.6 0a4.8 4.8 0 1 0 -9.6 0M713 1329a3.7 3.7 0 1 0 7.4 0a3.7 3.7 0 1 0 -7.4 0M849 1091a3.9 3.9 0 1 0 7.8 0a3.9 3.9 0 1 0 -7.8 0M813 906a3.6 3.6 0 1 0 7.1 0a3.6 3.6 0 1 0 -7.1 0M751 1030a5.3 5.3 0 1 0 10.7 0a5.3 5.3 0 1 0 -10.7 0M733 1273a3.5 3.5 0 1 0 7.0 0a3.5 3.5 0 1 0 -7.0 0M776 1199a3.7 3.7 0 1 0 7.3 0a3.7 3.7 0 1 0 -7.3 0M730 1460a4.4 4.4 0 1 0 8.9 0a4.4 4.4 0 1 0 -8.9 0M799 1449a2.6 2.6 0 1 0 5.1 0a2.6 2.6 0 1 0 -5.1 0M670 1245a4.7 4.7 0 1 0 9.4 0a4.7 4.7 0 1 0 -9.4 0M852 928a3.1 3.1 0 1 0 6.2 0a3.1 3.1 0 1 0 -6.2 0M974 1110a2.8 2.8 0 1 0 5.6 0a2.8 2.8 0 1 0 -5.6 0M855 1208a4.0 4.0 0 1 0 8.0 0a4.0 4.0 0 1 0 -8.0 0M1106 1442a4.2 4.2 0 1 0 8.4 0a4.2 4.2 0 1 0 -8.4 0M1021 1353a2.7 2.7 0 1 0 5.5 0a2.7 2.7 0 1 0 -5.5 0M850 1235a4.8 4.8 0 1 0 9.6 0a4.8 4.8 0 1 0 -9.6 0M1111 990a3.9 3.9 0 1 0 7.8 0a3.9 3.9 0 1 0 -7.8 0M930 995a4.0 4.0 0 1 0 8.0 0a4.0 4.0 0 1 0 -8.0 0M826 1429a3.8 3.8 0 1 0 7.5 0a3.8 3.8 0 1 0 -7.5 0M830 1195a4.3 4.3 0 1 0 8.6 0a4.3 4.3 0 1 0 -8.6 0M793 1267a4.2 4.2 0 1 0 8.4 0a4.2 4.2 0 1 0 -8.4 0M926 1059a4.6 4.6 0 1 0 9.3 0a4.6 4.6 0 1 0 -9.3 0M852 1037a2.6 2.6 0 1 0 5.3 0a2.6 2.6 0 1 0 -5.3 0M874 988a4.8 4.8 0 1 0 9.5 0a4.8 4.8 0 1 0 -9.5 0M668 1319a2.7 2.7 0 1 0 5.3 0a2.7 2.7 0 1 0 -5.3 0M1011 1454a5.3 5.3 0 1 0 10.7 0a5.3 5.3 0 1 0 -10.7 0M1080 1141a3.9 3.9 0 1 0 7.9 0a3.9 3.9 0 1 0 -7.9 0M968 1445a3.2 3.2 0 1 0 6.5 0a3.2 3.2 0 1 0 -6.5 0M588 1305a3.9 3.9 0 1 0 7.8 0a3.9 3.9 0 1 0 -7.8 0M815 1448a5.0 5.0 0 1 0 9.9 0a5.0 5.0 0 1 0 -9.9 0M811 1250a3.9 3.9 0 1 0 7.7 0a3.9 3.9 0 1 0 -7.7 0M823 1014a2.7 2.7 0 1 0 5.3 0a2.7 2.7 0 1 0 -5.3 0M797 1148a4.5 4.5 0 1 0 9.0 0a4.5 4.5 0 1 0 -9.0 0M846 1155a3.3 3.3 0 1 0 6.6 0a3.3 3.3 0 1 0 -6.6 0M752 1336a4.1 4.1 0 1 0 8.2 0a4.1 4.1 0 1 0 -8.2 0M795 1459a5.4 5.4 0 1 0 10.7 0a5.4 5.4 0 1 0 -10.7 0M846 964a5.2 5.2 0 1 0 10.4 0a5.2 5.2 0 1 0 -10.4 0M771 1339a4.4 4.4 0 1 0 8.7 0a4.4 4.4 0 1 0 -8.7 0M798 1284a4.2 4.2 0 1 0 8.4 0a4.2 4.2 0 1 0 -8.4 0M926 1231a4.4 4.4 0 1 0 8.8 0a4.4 4.4 0 1 0 -8.8 0M856 1039a5.4 5.4 0 1 0 10.9 0a5.4 5.4 0 1 0 -10.9 0M780 1413a5.1 5.1 0 1 0 10.3 0a5.1 5.1 0 1 0 -10.3 0M896 1052a3.8 3.8 0 1 0 7.6 0a3.8 3.8 0 1 0 -7.6 0M867 1249a2.8 2.8 0 1 0 5.6 0a2.8 2.8 0 1 0 -5.6 0M812 948a4.5 4.5 0 1 0 9.1 0a4.5 4.5 0 1 0 -9.1 0M844 1208a4.4 4.4 0 1 0 8.8 0a4.4 4.4 0 1 0 -8.8 0M765 1018a3.5 3.5 0 1 0 7.1 0a3.5 3.5 0 1 0 -7.1 0M949 1317a5.0 5.0 0 1 0 10.0 0a5.0 5.0 0 1 0 -10.0 0M907 1353a4.4 4.4 0 1 0 8.7 0a4.4 4.4 0 1 0 -8.7 0M883 1331a3.1 3.1 0 1 0 6.3 0a3.1 3.1 0 1 0 -6.3 0M777 1354a3.6 3.6 0 1 0 7.2 0a3.6 3.6 0 1 0 -7.2 0M895 1266a5.5 5.5 0 1 0 10.9 0a5.5 5.5 0 1 0 -10.9 0M789 1318a5.3 5.3 0 1 0 10.5 0a5.3 5.3 0 1 0 -10.5 0M985 1139a3.6 3.6 0 1 0 7.2 0a3.6 3.6 0 1 0 -7.2 0M1050 944a2.7 2.7 0 1 0 5.5 0a2.7 2.7 0 1 0 -5.5 0M990 1216a4.0 4.0 0 1 0 7.9 0a4.0 4.0 0 1 0 -7.9 0M819 1334a2.7 2.7 0 1 0 5.5 0a2.7 2.7 0 1 0 -5.5 0M766 1019a4.5 4.5 0 1 0 9.0 0a4.5 4.5 0 1 0 -9.0 0M941 1306a4.6 4.6 0 1 0 9.2 0a4.6 4.6 0 1 0 -9.2 0M905 1058a2.9 2.9 0 1 0 5.9 0a2.9 2.9 0 1 0 -5.9 0M741 1105a2.9 2.9 0 1 0 5.7 0a2.9 2.9 0 1 0 -5.7 0M1000 1297a4.2 4.2 0 1 0 8.4 0a4.2 4.2 0 1 0 -8.4 0M1094 1411a3.8 3.8 0 1 0 7.6 0a3.8 3.8 0 1 0 -7.6 0M723 1350a3.4 3.4 0 1 0 6.8 0a3.4 3.4 0 1 0 -6.8 0M807 1423a5.2 5.2 0 1 0 10.4 0a5.2 5.2 0 1 0 -10.4 0M962 1039a3.6 3.6 0 1 0 7.2 0a3.6 3.6 0 1 0 -7.2 0M784 1122a3.7 3.7 0 1 0 7.3 0a3.7 3.7 0 1 0 -7.3 0M938 1009a4.2 4.2 0 1 0 8.4 0a4.2 4.2 0 1 0 -8.4 0M898 1368a4.2 4.2 0 1 0 8.4 0a4.2 4.2 0 1 0 -8.4 0M718 999a4.8 4.8 0 1 0 9.6 0a4.8 4.8 0 1 0 -9.6 0M924 912a4.0 4.0 0 1 0 8.1 0a4.0 4.0 0 1 0 -8.1 0M792 1205a4.2 4.2 0 1 0 8.4 0a4.2 4.2 0 1 0 -8.4 0M1021 1350a2.7 2.7 0 1 0 5.4 0a2.7 2.7 0 1 0 -5.4 0M820 1206a4.9 4.9 0 1 0 9.7 0a4.9 4.9 0 1 0 -9.7 0M896 1313a5.2 5.2 0 1 0 10.4 0a5.2 5.2 0 1 0 -10.4 0M880 947a4.4 4.4 0 1 0 8.8 0a4.4 4.4 0 1 0 -8.8 0M974 1263a3.2 3.2 0 1 0 6.5 0a3.2 3.2 0 1 0 -6.5 0M1005 1023a4.8 4.8 0 1 0 9.6 0a4.8 4.8 0 1 0 -9.6 0M663 1121a3.5 3.5 0 1 0 7.0 0a3.5 3.5 0 1 0 -7.0 0M829 1442a4.5 4.5 0 1 0 9.0 0a4.5 4.5 0 1 0 -9.0 0M713 1304a4.6 4.6 0 1 0 9.2 0a4.6 4.6 0 1 0 -9.2 0M862 1412a3.7 3.7 0 1 0 7.5 0a3.7 3.7 0 1 0 -7.5 0M934 1378a4.9 4.9 0 1 0 9.8 0a4.9 4.9 0 1 0 -9.8 0M704 1367a5.2 5.2 0 1 0 10.3 0a5.2 5.2 0 1 0 -10.3 0M1014 1193a4.6 4.6 0 1 0 9.3 0a4.6 4.6 0 1 0 -9.3 0M813 1349a3.8 3.8 0 1 0 7.5 0a3.8 3.8 0 1 0 -7.5 0M798 1315a5.5 5.5 0 1 0 10.9 0a5.5 5.5 0 1 0 -10.9 0M888 1110a3.0 3.0 0 1 0 6.0 0a3.0 3.0 0 1 0 -6.0 0M889 1064a5.4 5.4 0 1 0 10.8 0a5.4 5.4 0 1 0 -10.8 0M973 933a3.4 3.4 0 1 0 6.9 0a3.4 3.4 0 1 0 -6.9 0M982 1335a3.0 3.0 0 1 0 6.1 0a3.0 3.0 0 1 0 -6.1 0M966 935a3.9 3.9 0 1 0 7.8 0a3.9 3.9 0 1 0 -7.8 0M640 920a2.8 2.8 0 1 0 5.7 0a2.8 2.8 0 1 0 -5.7 0M730 1003a3.2 3.2 0 1 0 6.3 0a3.2 3.2 0 1 0 -6.3 0M874 1233a3.2 3.2 0 1 0 6.3 0a3.2 3.2 0 1 0 -6.3 0M1039 1004a3.3 3.3 0 1 0 6.7 0a3.3 3.3 0 1 0 -6.7 0M946 1075a4.1 4.1 0 1 0 8.3 0a4.1 4.1 0 1 0 -8.3 0M1027 1358a3.9 3.9 0 1 0 7.9 0a3.9 3.9 0 1 0 -7.9 0" fill="#2ad034" opacity="0.85"/><g filter="url(#fb2)"><ellipse cx="610" cy="300" rx="66" ry="82" fill="#2fb0f4" transform="rotate(-22 610 300)"/><ellipse cx="600" cy="290" rx="40" ry="55" fill="#49c4ff" transform="rotate(-22 600 290)" opacity="0.6"/><ellipse cx="960" cy="1553" rx="98" ry="16" fill="#1420f0" transform="rotate(0 960 1553)"/></g><rect x="1000" y="1483" width="485" height="47" fill="#fff"/><path d="M1060 1534H1545" stroke="#ddd" stroke-width="5" stroke-dasharray="85 12"/><text x="1488" y="1518" font-size="36" font-weight="bold" fill="#fff">50</text></g></g><rect x="94.8" y="1160.1" width="295.9" height="295.6" fill="none" stroke="#1c1c1c" stroke-width="1.2"/><clipPath id="cl2"><rect x="404" y="1159.5" width="296.4" height="296.8"/></clipPath><g clip-path="url(#cl2)"><rect x="404" y="1159.5" width="296.4" height="296.8" fill="#000"/><g transform="translate(404 1159.5) scale(0.19670) translate(-45 -50)"><g filter="url(#fgg)"><path d="M100 190C100 162 110 121 130 100C150 79 192 65 220 65C248 65 284 79 300 100C316 121 318 160 315 190C312 220 299 260 280 280C261 300 225 312 200 310C175 308 147 290 130 270C113 250 100 218 100 190Z" fill="#34ee3c" /><path d="M140 430C147 425 180 453 200 450C220 447 238 412 260 410C282 408 307 423 330 440C353 457 387 495 400 510C413 525 422 522 410 530C398 538 357 555 330 560C303 565 272 565 250 560C228 555 215 543 200 530C185 517 170 497 160 480C150 463 133 435 140 430Z" fill="#34ee3c" /><path d="M585 275C590 260 629 258 640 270C651 282 640 323 650 350C660 377 680 402 700 430C720 458 750 490 770 520C790 550 813 583 820 610C827 637 823 662 810 680C797 698 763 715 740 720C717 725 690 722 670 710C650 698 633 675 620 650C607 625 593 592 590 560C587 528 597 493 600 460C603 427 612 391 610 360C608 329 580 290 585 275Z" fill="#34ee3c" /><path d="M640 480C653 470 700 502 720 520C740 538 763 573 760 590C757 607 720 622 700 620C680 618 650 603 640 580C630 557 627 490 640 480Z" fill="#15751f" opacity="0.7" /><path d="M200 690C215 672 263 662 280 670C297 678 290 718 300 740C310 762 328 778 340 800C352 822 362 843 370 870C378 897 388 928 390 960C392 992 387 1030 380 1060C373 1090 363 1120 350 1140C337 1160 318 1178 300 1180C282 1182 260 1167 240 1150C220 1133 197 1105 180 1080C163 1055 148 1027 140 1000C132 973 132 945 135 920C138 895 151 873 160 850C169 827 183 807 190 780C197 753 185 708 200 690Z" fill="#25bb30" /><path d="M230 760C240 747 280 777 300 800C320 823 340 863 350 900C360 937 365 983 360 1020C355 1057 337 1105 320 1120C303 1135 275 1130 260 1110C245 1090 233 1038 230 1000C227 962 240 920 240 880C240 840 220 773 230 760Z" fill="#0c4413" opacity="0.8" /><ellipse cx="395" cy="775" rx="24" ry="32" fill="#25bb30" transform="rotate(20 395 775)"/><path d="M160 1100C167 1117 187 1167 200 1200C213 1233 229 1267 240 1300C251 1333 261 1383 265 1400" fill="none" stroke="#34ee3c" stroke-width="34" stroke-linecap="round" stroke-linejoin="round" /><path d="M240 1350C258 1325 300 1322 320 1330C340 1338 357 1375 360 1400C363 1425 347 1453 340 1480C333 1507 343 1547 320 1560C297 1573 218 1573 200 1560C182 1547 203 1515 210 1480C217 1445 222 1375 240 1350Z" fill="#34ee3c" /><path d="M380 1440C390 1417 427 1420 450 1420C473 1420 506 1417 520 1440C534 1463 557 1540 535 1560C513 1580 416 1580 390 1560C364 1540 370 1463 380 1440Z" fill="#25bb30" opacity="0.8" /><path d="M760 1190C768 1173 797 1155 820 1150C843 1145 880 1147 900 1160C920 1173 935 1203 940 1230C945 1257 937 1297 930 1320C923 1343 918 1360 900 1370C882 1380 842 1387 820 1380C798 1373 778 1352 770 1330C762 1308 772 1273 770 1250C768 1227 752 1207 760 1190Z" fill="#34ee3c" /><path d="M825 255C838 266 871 296 900 320C929 344 967 370 1000 400C1033 430 1070 467 1100 500C1130 533 1155 570 1180 600C1205 630 1225 655 1250 680C1275 705 1317 738 1330 750" fill="none" stroke="#34ee3c" stroke-width="30" stroke-linecap="round" stroke-linejoin="round" /><ellipse cx="825" cy="255" rx="24" ry="22" fill="#34ee3c" transform="rotate(0 825 255)"/><path d="M1050 390C1052 375 1060 315 1062 300" fill="none" stroke="#34ee3c" stroke-width="22" stroke-linecap="round" stroke-linejoin="round" /><path d="M1230 650C1237 637 1272 670 1300 680C1328 690 1378 697 1400 710C1422 723 1433 742 1430 760C1427 778 1393 802 1380 820C1367 838 1363 868 1350 870C1337 872 1315 848 1300 830C1285 812 1272 790 1260 760C1248 730 1223 663 1230 650Z" fill="#34ee3c" /><path d="M1345 830C1343 850 1340 920 1335 950C1330 980 1316 1000 1312 1010" fill="none" stroke="#34ee3c" stroke-width="30" stroke-linecap="round" stroke-linejoin="round" /><path d="M1420 760C1438 761 1512 764 1530 765" fill="none" stroke="#34ee3c" stroke-width="10" stroke-linecap="round" stroke-linejoin="round" /><path d="M980 700C987 680 1015 638 1040 620C1065 602 1108 587 1130 590C1152 593 1175 618 1170 640C1165 662 1118 700 1100 720C1082 740 1063 738 1060 760C1057 782 1073 817 1080 850C1087 883 1105 963 1100 960C1095 957 1067 867 1050 830C1033 793 1012 762 1000 740C988 718 973 720 980 700Z" fill="#34ee3c" /><path d="M1110 400C1118 383 1168 390 1200 400C1232 410 1282 438 1300 460C1318 482 1323 513 1310 530C1297 547 1247 565 1220 560C1193 555 1168 527 1150 500C1132 473 1102 417 1110 400Z" fill="#15751f" opacity="0.9" /></g><g filter="url(#fb2)"><ellipse cx="290" cy="465" rx="36" ry="22" fill="#2fb0f4" transform="rotate(10 290 465)"/><ellipse cx="735" cy="645" rx="50" ry="40" fill="#20d8f0" transform="rotate(10 735 645)"/><ellipse cx="185" cy="960" rx="42" ry="70" fill="#2a8cf0" transform="rotate(-5 185 960)"/><ellipse cx="280" cy="1520" rx="26" ry="42" fill="#20d0f0" transform="rotate(0 280 1520)"/><ellipse cx="845" cy="1310" rx="42" ry="35" fill="#20d8f0" transform="rotate(20 845 1310)"/><ellipse cx="1325" cy="745" rx="50" ry="40" fill="#2ab4f4" transform="rotate(15 1325 745)"/><ellipse cx="1065" cy="670" rx="48" ry="35" fill="#20d8f0" transform="rotate(-30 1065 670)"/></g><path d="M1048 1537H1537M1048 1537v-9M1146 1537v-9M1244 1537v-9M1341 1537v-9M1439 1537v-9M1537 1537v-9" stroke="#fff" stroke-width="7" fill="none"/><g font-size="42" font-weight="bold" fill="#fff" text-anchor="middle"><text x="1072" y="1518">0</text><text x="1294" y="1518">µm</text><text x="1505" y="1518">50</text></g></g></g><rect x="404.6" y="1160.1" width="295.2" height="295.6" fill="none" stroke="#1c1c1c" stroke-width="1.2"/><clipPath id="cl3"><rect x="94.2" y="1467.3" width="297.1" height="296.6"/></clipPath><g clip-path="url(#cl3)"><rect x="94.2" y="1467.3" width="297.1" height="296.6" fill="#000"/><g transform="translate(94.2 1467.3) scale(0.19670) translate(-48 -45)"><g filter="url(#fgr2)"><path d="M640 40C677 27 888 27 940 40C992 53 957 88 950 120C943 152 917 195 900 230C883 265 867 295 850 330C833 365 815 407 800 440C785 473 777 500 760 530C743 560 723 592 700 620C677 648 647 675 620 700C593 725 563 758 540 770C517 782 488 782 480 770C472 758 477 725 490 700C503 675 535 653 560 620C585 587 617 540 640 500C663 460 680 420 700 380C720 340 743 290 760 260C777 230 807 223 800 200C793 177 747 147 720 120C693 93 603 53 640 40Z" fill="#8a0e0e" /><path d="M780 260C807 228 843 230 850 250C857 270 835 335 820 380C805 425 783 480 760 520C737 560 713 587 680 620C647 653 587 703 560 720C533 737 513 740 520 720C527 700 572 647 600 600C628 553 660 497 690 440C720 383 753 292 780 260Z" fill="#d01616" /><path d="M930 280C938 252 972 248 1000 250C1028 252 1082 290 1100 290C1118 290 1100 252 1110 250C1120 248 1157 265 1160 280C1163 295 1132 320 1130 340C1128 360 1140 383 1150 400C1160 417 1195 428 1190 440C1185 452 1138 453 1120 470C1102 487 1090 518 1080 540C1070 562 1070 588 1060 600C1050 612 1037 623 1020 610C1003 597 972 552 960 520C948 488 955 460 950 420C945 380 922 308 930 280Z" fill="#6a0b0b" /><path d="M1340 590C1339 575 1375 538 1385 540C1395 542 1392 582 1400 600C1408 618 1437 645 1435 650C1433 655 1406 640 1390 630C1374 620 1341 605 1340 590Z" fill="#6a0b0b" /><path d="M320 900C340 877 447 863 480 880C513 897 500 965 520 1000C540 1035 570 1057 600 1090C630 1123 673 1165 700 1200C727 1235 737 1267 760 1300C783 1333 823 1357 840 1400C857 1443 900 1533 860 1560C820 1587 660 1587 600 1560C540 1533 527 1447 500 1400C473 1353 457 1322 440 1280C423 1238 413 1193 400 1150C387 1107 373 1062 360 1020C347 978 300 923 320 900Z" fill="#8a0e0e" /><path d="M430 1000C440 983 492 1025 520 1050C548 1075 577 1108 600 1150C623 1192 660 1265 660 1300C660 1335 623 1360 600 1360C577 1360 543 1335 520 1300C497 1265 475 1200 460 1150C445 1100 420 1017 430 1000Z" fill="#d01616" opacity="0.45" /><path d="M1540 840C1553 840 1575 863 1560 900C1545 937 1477 1018 1450 1060C1423 1102 1418 1118 1400 1150C1382 1182 1360 1215 1340 1250C1320 1285 1300 1328 1280 1360C1260 1392 1250 1427 1220 1440C1190 1453 1107 1460 1100 1440C1093 1420 1153 1372 1180 1320C1207 1268 1227 1180 1260 1130C1293 1080 1343 1058 1380 1020C1417 982 1453 930 1480 900C1507 870 1527 840 1540 840Z" fill="#6a0b0b" /></g><g filter="url(#fb2)"><path d="M15 990C62 974 219 919 300 895C381 871 417 870 500 845C583 820 700 775 800 745C900 715 1017 687 1100 665C1183 643 1252 630 1300 612C1348 594 1375 569 1390 560" fill="none" stroke="#c01414" stroke-width="10" stroke-linecap="round" stroke-linejoin="round" /></g><g filter="url(#fb4)"><ellipse cx="895" cy="170" rx="56" ry="92" fill="#5a30ea" transform="rotate(-25 895 170)"/><ellipse cx="695" cy="520" rx="64" ry="88" fill="#7034e0" transform="rotate(35 695 520)"/><ellipse cx="635" cy="1250" rx="72" ry="112" fill="#5228f0" transform="rotate(-35 635 1250)"/><ellipse cx="1250" cy="1310" rx="50" ry="96" fill="#4a26c8" transform="rotate(35 1250 1310)"/></g><path d="M1060 1532H1545M1060 1532v-9M1157 1532v-9M1254 1532v-9M1351 1532v-9M1448 1532v-9M1545 1532v-9" stroke="#fff" stroke-width="7" fill="none"/><g font-size="42" font-weight="bold" fill="#fff" text-anchor="middle"><text x="1084" y="1513">0</text><text x="1304" y="1513">µm</text><text x="1513" y="1513">50</text></g></g></g><rect x="94.8" y="1467.9" width="295.9" height="295.4" fill="none" stroke="#1c1c1c" stroke-width="1.2"/><clipPath id="cl4"><rect x="404" y="1467.3" width="296.4" height="296.6"/></clipPath><g clip-path="url(#cl4)"><rect x="404" y="1467.3" width="296.4" height="296.6" fill="#000"/><g transform="translate(404 1467.3) scale(0.19670) translate(-45 -52)"><g filter="url(#fgr2)"><path d="M120 250C125 237 167 263 200 260C233 257 283 225 320 230C357 235 407 265 420 290C433 315 400 352 400 380C400 408 407 437 420 460C433 483 457 502 480 520C503 538 527 558 560 570C593 582 647 577 680 590C713 603 728 632 760 650C792 668 858 688 870 700C882 712 858 713 830 720C802 727 735 743 700 740C665 737 643 718 620 700C597 682 590 647 560 630C530 613 467 598 440 600C413 602 408 617 400 640C392 663 402 707 390 740C378 773 348 817 330 840C312 863 298 877 280 880C262 883 235 877 220 860C205 843 192 807 190 780C188 753 195 730 210 700C225 670 267 630 280 600C293 570 295 548 290 520C285 492 270 460 250 430C230 400 192 370 170 340C148 310 115 263 120 250Z" fill="#c01414" /><path d="M240 650C260 627 320 605 340 620C360 635 365 707 360 740C355 773 328 805 310 820C292 835 265 840 250 830C235 820 222 790 220 760C218 730 220 673 240 650Z" fill="#6a0b0b" opacity="0.75" /><path d="M720 830C720 820 780 833 800 820C820 807 820 765 840 750C860 735 898 723 920 730C942 737 948 773 970 790C992 807 1028 837 1050 830C1072 823 1090 755 1100 750C1110 745 1113 775 1110 800C1107 825 1078 870 1080 900C1082 930 1100 950 1120 980C1140 1010 1170 1047 1200 1080C1230 1113 1267 1150 1300 1180C1333 1210 1387 1240 1400 1260C1413 1280 1400 1302 1380 1300C1360 1298 1318 1275 1280 1250C1242 1225 1188 1178 1150 1150C1112 1122 1083 1102 1050 1080C1017 1058 978 1042 950 1020C922 998 905 973 880 950C855 927 827 900 800 880C773 860 720 840 720 830Z" fill="#c41414" /><path d="M1540 1060C1553 1068 1567 1163 1560 1200C1553 1237 1520 1257 1500 1280C1480 1303 1453 1353 1440 1340C1427 1327 1413 1232 1420 1200C1427 1168 1460 1173 1480 1150C1500 1127 1527 1052 1540 1060Z" fill="#8a0e0e" /></g><g filter="url(#fb2)"><path d="M1060 40C1057 83 1048 207 1040 300C1032 393 1018 517 1010 600C1002 683 993 767 990 800" fill="none" stroke="#c41414" stroke-width="24" stroke-linecap="round" stroke-linejoin="round" /><path d="M1000 1050C999 1075 994 1158 992 1200C990 1242 986 1283 985 1300" fill="none" stroke="#c41414" stroke-width="12" stroke-linecap="round" stroke-linejoin="round" /><path d="M60 950C70 972 88 1030 120 1080C152 1130 203 1197 250 1250C297 1303 352 1348 400 1400C448 1452 517 1533 540 1560" fill="none" stroke="#a81010" stroke-width="11" stroke-linecap="round" stroke-linejoin="round" /></g><path d="M435 1382a5.7 5.7 0 1 0 11.5 0a5.7 5.7 0 1 0 -11.5 0M557 873a5.9 5.9 0 1 0 11.7 0a5.9 5.9 0 1 0 -11.7 0M771 385a3.1 3.1 0 1 0 6.3 0a3.1 3.1 0 1 0 -6.3 0M1467 1253a4.2 4.2 0 1 0 8.3 0a4.2 4.2 0 1 0 -8.3 0M838 826a3.8 3.8 0 1 0 7.6 0a3.8 3.8 0 1 0 -7.6 0M1532 1038a3.7 3.7 0 1 0 7.4 0a3.7 3.7 0 1 0 -7.4 0M62 762a4.1 4.1 0 1 0 8.2 0a4.1 4.1 0 1 0 -8.2 0M1240 1121a4.8 4.8 0 1 0 9.6 0a4.8 4.8 0 1 0 -9.6 0M282 290a4.0 4.0 0 1 0 7.9 0a4.0 4.0 0 1 0 -7.9 0M435 1355a4.5 4.5 0 1 0 9.1 0a4.5 4.5 0 1 0 -9.1 0M1002 1540a3.8 3.8 0 1 0 7.6 0a3.8 3.8 0 1 0 -7.6 0M847 280a5.3 5.3 0 1 0 10.6 0a5.3 5.3 0 1 0 -10.6 0M47 1283a5.5 5.5 0 1 0 11.1 0a5.5 5.5 0 1 0 -11.1 0M1279 178a3.8 3.8 0 1 0 7.6 0a3.8 3.8 0 1 0 -7.6 0M1120 200a4.4 4.4 0 1 0 8.9 0a4.4 4.4 0 1 0 -8.9 0M748 1483a4.8 4.8 0 1 0 9.5 0a4.8 4.8 0 1 0 -9.5 0M1331 509a5.4 5.4 0 1 0 10.7 0a5.4 5.4 0 1 0 -10.7 0M672 1426a3.3 3.3 0 1 0 6.5 0a3.3 3.3 0 1 0 -6.5 0M1285 367a4.6 4.6 0 1 0 9.3 0a4.6 4.6 0 1 0 -9.3 0M833 291a5.5 5.5 0 1 0 11.0 0a5.5 5.5 0 1 0 -11.0 0M514 520a3.2 3.2 0 1 0 6.5 0a3.2 3.2 0 1 0 -6.5 0M503 754a5.1 5.1 0 1 0 10.3 0a5.1 5.1 0 1 0 -10.3 0M586 1082a3.3 3.3 0 1 0 6.6 0a3.3 3.3 0 1 0 -6.6 0M635 745a5.9 5.9 0 1 0 11.8 0a5.9 5.9 0 1 0 -11.8 0M1292 1033a3.0 3.0 0 1 0 6.1 0a3.0 3.0 0 1 0 -6.1 0M612 1116a3.7 3.7 0 1 0 7.4 0a3.7 3.7 0 1 0 -7.4 0M893 740a3.0 3.0 0 1 0 6.1 0a3.0 3.0 0 1 0 -6.1 0M1534 1250a3.6 3.6 0 1 0 7.2 0a3.6 3.6 0 1 0 -7.2 0M970 489a4.1 4.1 0 1 0 8.3 0a4.1 4.1 0 1 0 -8.3 0M856 501a4.0 4.0 0 1 0 8.0 0a4.0 4.0 0 1 0 -8.0 0M635 1052a3.8 3.8 0 1 0 7.5 0a3.8 3.8 0 1 0 -7.5 0M346 1149a4.0 4.0 0 1 0 8.0 0a4.0 4.0 0 1 0 -8.0 0M1462 896a5.2 5.2 0 1 0 10.3 0a5.2 5.2 0 1 0 -10.3 0M544 1291a3.3 3.3 0 1 0 6.6 0a3.3 3.3 0 1 0 -6.6 0M256 196a5.0 5.0 0 1 0 10.1 0a5.0 5.0 0 1 0 -10.1 0M1108 324a4.2 4.2 0 1 0 8.4 0a4.2 4.2 0 1 0 -8.4 0M1302 941a3.3 3.3 0 1 0 6.5 0a3.3 3.3 0 1 0 -6.5 0M387 290a3.4 3.4 0 1 0 6.7 0a3.4 3.4 0 1 0 -6.7 0M654 164a5.8 5.8 0 1 0 11.5 0a5.8 5.8 0 1 0 -11.5 0M686 820a4.9 4.9 0 1 0 9.9 0a4.9 4.9 0 1 0 -9.9 0M1196 1283a4.2 4.2 0 1 0 8.3 0a4.2 4.2 0 1 0 -8.3 0M544 671a3.0 3.0 0 1 0 6.1 0a3.0 3.0 0 1 0 -6.1 0M645 1101a5.9 5.9 0 1 0 11.9 0a5.9 5.9 0 1 0 -11.9 0M1230 1042a4.8 4.8 0 1 0 9.7 0a4.8 4.8 0 1 0 -9.7 0M74 550a4.0 4.0 0 1 0 8.1 0a4.0 4.0 0 1 0 -8.1 0M1022 214a4.1 4.1 0 1 0 8.3 0a4.1 4.1 0 1 0 -8.3 0M809 1234a5.5 5.5 0 1 0 11.0 0a5.5 5.5 0 1 0 -11.0 0M962 292a5.3 5.3 0 1 0 10.6 0a5.3 5.3 0 1 0 -10.6 0M1400 875a4.1 4.1 0 1 0 8.1 0a4.1 4.1 0 1 0 -8.1 0M795 267a5.1 5.1 0 1 0 10.3 0a5.1 5.1 0 1 0 -10.3 0M1525 826a5.1 5.1 0 1 0 10.3 0a5.1 5.1 0 1 0 -10.3 0M1297 350a5.8 5.8 0 1 0 11.7 0a5.8 5.8 0 1 0 -11.7 0M987 351a3.2 3.2 0 1 0 6.5 0a3.2 3.2 0 1 0 -6.5 0M412 917a5.1 5.1 0 1 0 10.2 0a5.1 5.1 0 1 0 -10.2 0M540 1444a4.1 4.1 0 1 0 8.2 0a4.1 4.1 0 1 0 -8.2 0M739 240a5.9 5.9 0 1 0 11.8 0a5.9 5.9 0 1 0 -11.8 0M249 1407a4.6 4.6 0 1 0 9.3 0a4.6 4.6 0 1 0 -9.3 0M887 893a3.8 3.8 0 1 0 7.6 0a3.8 3.8 0 1 0 -7.6 0M1409 1538a5.5 5.5 0 1 0 10.9 0a5.5 5.5 0 1 0 -10.9 0M947 238a5.5 5.5 0 1 0 10.9 0a5.5 5.5 0 1 0 -10.9 0M479 1396a3.7 3.7 0 1 0 7.4 0a3.7 3.7 0 1 0 -7.4 0M907 1297a3.6 3.6 0 1 0 7.1 0a3.6 3.6 0 1 0 -7.1 0M869 169a3.1 3.1 0 1 0 6.2 0a3.1 3.1 0 1 0 -6.2 0M314 1531a5.8 5.8 0 1 0 11.6 0a5.8 5.8 0 1 0 -11.6 0M1033 515a5.0 5.0 0 1 0 10.0 0a5.0 5.0 0 1 0 -10.0 0M1152 626a4.8 4.8 0 1 0 9.6 0a4.8 4.8 0 1 0 -9.6 0M1252 79a3.6 3.6 0 1 0 7.2 0a3.6 3.6 0 1 0 -7.2 0M748 269a4.2 4.2 0 1 0 8.3 0a4.2 4.2 0 1 0 -8.3 0M900 315a4.6 4.6 0 1 0 9.1 0a4.6 4.6 0 1 0 -9.1 0M441 904a4.0 4.0 0 1 0 8.0 0a4.0 4.0 0 1 0 -8.0 0M1008 112a5.0 5.0 0 1 0 10.0 0a5.0 5.0 0 1 0 -10.0 0M262 1489a4.8 4.8 0 1 0 9.6 0a4.8 4.8 0 1 0 -9.6 0M750 670a4.9 4.9 0 1 0 9.7 0a4.9 4.9 0 1 0 -9.7 0M1079 1188a5.3 5.3 0 1 0 10.5 0a5.3 5.3 0 1 0 -10.5 0M773 1542a5.5 5.5 0 1 0 11.0 0a5.5 5.5 0 1 0 -11.0 0M1328 666a4.3 4.3 0 1 0 8.6 0a4.3 4.3 0 1 0 -8.6 0M894 1408a4.6 4.6 0 1 0 9.2 0a4.6 4.6 0 1 0 -9.2 0M832 701a5.7 5.7 0 1 0 11.4 0a5.7 5.7 0 1 0 -11.4 0M526 137a5.2 5.2 0 1 0 10.4 0a5.2 5.2 0 1 0 -10.4 0M1395 1149a4.8 4.8 0 1 0 9.6 0a4.8 4.8 0 1 0 -9.6 0M1173 511a4.8 4.8 0 1 0 9.6 0a4.8 4.8 0 1 0 -9.6 0M150 241a4.3 4.3 0 1 0 8.7 0a4.3 4.3 0 1 0 -8.7 0M801 648a3.2 3.2 0 1 0 6.3 0a3.2 3.2 0 1 0 -6.3 0M1089 842a3.7 3.7 0 1 0 7.4 0a3.7 3.7 0 1 0 -7.4 0M506 646a3.7 3.7 0 1 0 7.4 0a3.7 3.7 0 1 0 -7.4 0M147 1417a5.9 5.9 0 1 0 11.8 0a5.9 5.9 0 1 0 -11.8 0M1044 1350a4.3 4.3 0 1 0 8.5 0a4.3 4.3 0 1 0 -8.5 0M1253 387a5.2 5.2 0 1 0 10.5 0a5.2 5.2 0 1 0 -10.5 0M897 1406a3.3 3.3 0 1 0 6.6 0a3.3 3.3 0 1 0 -6.6 0M1234 240a4.6 4.6 0 1 0 9.2 0a4.6 4.6 0 1 0 -9.2 0" fill="#c01818" opacity="0.85"/><g filter="url(#fb4)"><ellipse cx="475" cy="555" rx="64" ry="40" fill="#6a30e0" transform="rotate(20 475 555)"/><ellipse cx="978" cy="890" rx="76" ry="56" fill="#5030f0" transform="rotate(8 978 890)"/></g><path d="M1048 1537H1537M1048 1537v-9M1146 1537v-9M1244 1537v-9M1341 1537v-9M1439 1537v-9M1537 1537v-9" stroke="#fff" stroke-width="7" fill="none"/><g font-size="42" font-weight="bold" fill="#fff" text-anchor="middle"><text x="1072" y="1518">0</text><text x="1294" y="1518">µm</text><text x="1505" y="1518">50</text></g></g></g><rect x="404.6" y="1467.9" width="295.2" height="295.4" fill="none" stroke="#1c1c1c" stroke-width="1.2"/><clipPath id="cl5"><rect x="94.2" y="1772.3" width="297.1" height="296.1"/></clipPath><g clip-path="url(#cl5)"><rect x="94.2" y="1772.3" width="297.1" height="296.1" fill="#000"/><g transform="translate(94.2 1772.3) scale(0.19670) translate(-48 -52)"><g filter="url(#fgr2)"><path d="M1000 90C1017 82 1133 168 1200 200C1267 232 1350 260 1400 280C1450 300 1477 307 1500 320C1523 333 1548 327 1540 360C1532 393 1490 507 1450 520C1410 533 1358 485 1300 440C1242 395 1150 308 1100 250C1050 192 983 98 1000 90Z" fill="#140303" /><path d="M490 1250C497 1238 568 1243 600 1230C632 1217 653 1173 680 1170C707 1167 733 1202 760 1210C787 1218 833 1188 840 1220C847 1252 813 1367 800 1400C787 1433 787 1420 760 1420C733 1420 673 1420 640 1400C607 1380 585 1325 560 1300C535 1275 483 1262 490 1250Z" fill="#2a0605" /></g><g filter="url(#fb4)"><ellipse cx="1340" cy="375" rx="78" ry="52" fill="#2a18f0" transform="rotate(12 1340 375)"/><ellipse cx="705" cy="1335" rx="58" ry="78" fill="#3018e8" transform="rotate(-20 705 1335)"/></g><path d="M1060 1537H1545M1060 1537v-9M1157 1537v-9M1254 1537v-9M1351 1537v-9M1448 1537v-9M1545 1537v-9" stroke="#fff" stroke-width="7" fill="none"/><g font-size="42" font-weight="bold" fill="#fff" text-anchor="middle"><text x="1084" y="1518">0</text><text x="1304" y="1518">µm</text><text x="1513" y="1518">50</text></g></g></g><rect x="94.8" y="1772.9" width="295.9" height="294.9" fill="none" stroke="#1c1c1c" stroke-width="1.2"/><clipPath id="cl6"><rect x="404" y="1772.3" width="296.4" height="296.1"/></clipPath><g clip-path="url(#cl6)"><rect x="404" y="1772.3" width="296.4" height="296.1" fill="#000"/><g transform="translate(404 1772.3) scale(0.19670) translate(-45 -55)"><g filter="url(#fgr2)"><path d="M40 170C52 150 100 198 110 220C120 242 112 280 100 300C88 320 50 362 40 340C30 318 28 190 40 170Z" fill="#2a0505" /><path d="M130 880C138 873 175 873 200 860C225 847 258 823 280 800C302 777 307 743 330 720C353 697 388 672 420 660C452 648 507 643 520 650C533 657 517 685 500 700C483 715 440 723 420 740C400 757 400 778 380 800C360 822 323 845 300 870C277 895 265 945 240 950C215 955 168 912 150 900C132 888 122 887 130 880Z" fill="#380706" /><path d="M1050 250C1073 223 1153 192 1200 190C1247 188 1293 208 1330 240C1367 272 1408 340 1420 380C1432 420 1423 457 1400 480C1377 503 1322 522 1280 520C1238 518 1187 498 1150 470C1113 442 1077 387 1060 350C1043 313 1027 277 1050 250Z" fill="#1c0404" /><path d="M1040 670C1057 660 1118 678 1150 700C1182 722 1222 773 1230 800C1238 827 1222 855 1200 860C1178 865 1125 847 1100 830C1075 813 1060 787 1050 760C1040 733 1023 680 1040 670Z" fill="#240505" /><path d="M1180 950C1200 933 1233 972 1260 1000C1287 1028 1320 1078 1340 1120C1360 1162 1373 1215 1380 1250C1387 1285 1418 1317 1380 1330C1342 1343 1198 1340 1150 1330C1102 1320 1092 1308 1090 1270C1088 1232 1125 1153 1140 1100C1155 1047 1160 967 1180 950Z" fill="#3a0807" /></g><g filter="url(#fb4)"><ellipse cx="335" cy="768" rx="38" ry="62" fill="#5a28f0" transform="rotate(35 335 768)"/><ellipse cx="1365" cy="425" rx="52" ry="64" fill="#5a2cf0" transform="rotate(-20 1365 425)"/><ellipse cx="1225" cy="850" rx="26" ry="24" fill="#2222f0" transform="rotate(0 1225 850)"/><ellipse cx="910" cy="900" rx="12" ry="38" fill="#3a1890" transform="rotate(15 910 900)" opacity="0.8"/><ellipse cx="1245" cy="1128" rx="65" ry="48" fill="#5028f5" transform="rotate(10 1245 1128)"/></g><path d="M1048 1537H1537M1048 1537v-9M1146 1537v-9M1244 1537v-9M1341 1537v-9M1439 1537v-9M1537 1537v-9" stroke="#fff" stroke-width="7" fill="none"/><g font-size="42" font-weight="bold" fill="#fff" text-anchor="middle"><text x="1072" y="1518">0</text><text x="1294" y="1518">µm</text><text x="1505" y="1518">50</text></g></g></g><rect x="404.6" y="1772.9" width="295.2" height="294.9" fill="none" stroke="#1c1c1c" stroke-width="1.2"/><clipPath id="cl7"><rect x="99.9" y="2162.9" width="291.3" height="298.4"/></clipPath><g clip-path="url(#cl7)"><rect x="99.9" y="2162.9" width="291.3" height="298.4" fill="#000"/><g transform="translate(99.9 2162.9) scale(0.19670) translate(-75 -65)"><g filter="url(#fgs)"><path d="M660 60C689 40 768 37 800 60C832 83 832 150 850 200C868 250 903 303 910 360C917 417 903 490 890 540C877 590 858 635 830 660C802 685 755 688 720 690C685 692 648 680 620 670C592 660 560 655 550 630C540 605 552 558 560 520C568 482 591 437 600 400C609 363 608 337 612 300C616 263 617 220 625 180C633 140 631 80 660 60Z" fill="#b01016" /><path d="M560 620C553 635 535 682 520 710C505 738 478 777 470 790" fill="none" stroke="#700a0e" stroke-width="26" stroke-linecap="round" stroke-linejoin="round" /><path d="M90 740C125 748 232 773 300 790C368 807 433 820 500 840C567 860 640 892 700 910C760 928 833 943 860 950" fill="none" stroke="#8c0e14" stroke-width="38" stroke-linecap="round" stroke-linejoin="round" /><ellipse cx="925" cy="1000" rx="125" ry="72" fill="#e0161e" transform="rotate(25 925 1000)"/><path d="M1000 1040C1017 1048 1050 1064 1100 1085C1150 1106 1242 1142 1300 1165C1358 1188 1407 1207 1450 1225C1493 1243 1542 1267 1560 1275" fill="none" stroke="#a81016" stroke-width="50" stroke-linecap="round" stroke-linejoin="round" /><path d="M330 850C320 865 298 913 270 940C242 967 178 998 160 1010" fill="none" stroke="#700a0e" stroke-width="18" stroke-linecap="round" stroke-linejoin="round" /></g><g filter="url(#fb2)"><ellipse cx="640" cy="450" rx="55" ry="100" fill="#e42ae0" transform="rotate(10 640 450)"/><ellipse cx="606" cy="430" rx="14" ry="70" fill="#7a30f0" transform="rotate(10 606 430)" opacity="0.6"/><ellipse cx="905" cy="938" rx="30" ry="16" fill="#d030e8" transform="rotate(10 905 938)" opacity="0.9"/><ellipse cx="890" cy="1010" rx="24" ry="18" fill="#d030d8" transform="rotate(0 890 1010)" opacity="0.8"/></g><rect x="1020" y="1487" width="492" height="53" fill="#fff"/></g></g><rect x="100.5" y="2163.5" width="290.1" height="297.2" fill="none" stroke="#222" stroke-width="1.2"/><clipPath id="cl8"><rect x="401.3" y="2162.9" width="298.9" height="298.4"/></clipPath><g clip-path="url(#cl8)"><rect x="401.3" y="2162.9" width="298.9" height="298.4" fill="#06051c"/><g transform="translate(401.3 2162.9) scale(0.19670) translate(-47 -65)"><rect x="47" y="65" width="1520" height="1520" filter="url(#fbn)"/><g filter="url(#fgr)"><path d="M220 1010C220 998 232 998 250 980C268 962 305 930 330 900C355 870 368 825 400 800C432 775 483 765 520 750C557 735 590 722 620 710C650 698 680 695 700 680C720 665 728 637 740 620C752 603 766 575 770 580C774 585 762 630 765 650C768 670 774 682 790 700C806 718 837 737 860 760C883 783 907 817 930 840C953 863 978 882 1000 900C1022 918 1035 933 1060 950C1085 967 1118 985 1150 1000C1182 1015 1217 1030 1250 1040C1283 1050 1318 1055 1350 1060C1382 1065 1417 1063 1440 1070C1463 1077 1490 1087 1490 1100C1490 1113 1458 1135 1440 1150C1422 1165 1400 1193 1380 1190C1360 1187 1343 1148 1320 1130C1297 1112 1270 1095 1240 1080C1210 1065 1170 1052 1140 1040C1110 1028 1087 1023 1060 1010C1033 997 1010 975 980 960C950 945 917 932 880 920C843 908 800 900 760 890C720 880 677 868 640 860C603 852 568 838 540 840C512 842 493 857 470 870C447 883 425 902 400 920C375 938 345 958 320 980C295 1002 267 1045 250 1050C233 1055 220 1022 220 1010Z" fill="#f01228" /><ellipse cx="670" cy="80" rx="25" ry="14" fill="#e01020" transform="rotate(30 670 80)"/></g><g filter="url(#fb9)"><ellipse cx="790" cy="800" rx="110" ry="70" fill="#f41a78" transform="rotate(20 790 800)" opacity="0.8"/></g></g></g><rect x="401.9" y="2163.5" width="297.7" height="297.2" fill="none" stroke="#1a1a22" stroke-width="1.2"/><text transform="translate(65.8 1315.7) rotate(-90)" font-size="41" font-weight="bold" text-anchor="middle" textLength="211.5" lengthAdjust="spacingAndGlyphs"><tspan fill="#1ba045">IBA-1</tspan><tspan fill="#22509a"> DAPI</tspan></text><text transform="translate(64.6 1610.5) rotate(-90)" font-size="41" font-weight="bold" text-anchor="middle" textLength="254.5" lengthAdjust="spacingAndGlyphs"><tspan fill="#fb1414">P2RY12</tspan><tspan fill="#22509a"> DAPI</tspan></text><text transform="translate(66.3 1912) rotate(-90)" font-size="41" font-weight="bold" text-anchor="middle" textLength="292.6" lengthAdjust="spacingAndGlyphs"><tspan fill="#fb1414">TMEM119</tspan><tspan fill="#22509a"> DAPI</tspan></text><text transform="translate(63.6 2314.3) rotate(-90)" font-size="41" font-weight="bold" text-anchor="middle" textLength="246" lengthAdjust="spacingAndGlyphs"><tspan fill="#fb1414">TDAG8</tspan><tspan fill="#22509a"> DAPI</tspan></text><text x="172.3" y="1135.5" font-size="40.3" font-weight="bold" textLength="171" lengthAdjust="spacingAndGlyphs">HC-iMGs</text><text x="462.8" y="1135.8" font-size="40.3" font-weight="bold" textLength="170.5" lengthAdjust="spacingAndGlyphs">PD-iMGs</text><text x="171.6" y="2149.5" font-size="40.6" font-weight="bold" textLength="171" lengthAdjust="spacingAndGlyphs">HC-iMGs</text><text x="468.6" y="2149.5" font-size="40.6" font-weight="bold" textLength="170" lengthAdjust="spacingAndGlyphs">PD-iMGs</text><text x="29.5" y="1134.5" font-size="69" font-weight="bold" textLength="42" lengthAdjust="spacingAndGlyphs" stroke="#000" stroke-width="1">d</text><text x="34.5" y="2144.5" font-size="70" font-weight="bold" textLength="37" lengthAdjust="spacingAndGlyphs" stroke="#000" stroke-width="1">e</text></g>
<g id="pf"><rect x="904" y="1378.8" width="53.7" height="143.3" fill="#000"/><rect x="987.3" y="1391" width="50.6" height="130.1" fill="#f92400" stroke="#000" stroke-width="2.8"/><path d="M930.8 1378.8V1372.4M918.2 1372.4H943.4" stroke="#222" stroke-width="1.2" fill="none"/><path d="M1012.5 1389.6V1375.8M1000.5 1375.8H1024.5" stroke="#222" stroke-width="1.2" fill="none"/><path d="M876.5 1234V1522.1M864.3 1522.1H1067.3M864.3 1235H876.5M864.3 1307H876.5M864.3 1378.8H876.5M864.3 1450.3H876.5M930.1 1522.1V1533.1M1012.2 1522.1V1533.1" stroke="#000" stroke-width="2.2" fill="none"/><text x="861.5" y="1244.4" font-size="26" font-weight="bold" text-anchor="end">2.0</text><text x="861.5" y="1316.4" font-size="26" font-weight="bold" text-anchor="end">1.5</text><text x="861.5" y="1388.2" font-size="26" font-weight="bold" text-anchor="end">1.0</text><text x="861.5" y="1459.7" font-size="26" font-weight="bold" text-anchor="end">0.5</text><text x="861.5" y="1531.5" font-size="26" font-weight="bold" text-anchor="end">0.0</text><text x="930.1" y="1561.5" font-size="26" font-weight="bold" text-anchor="middle">HC</text><text x="1012.2" y="1561.5" font-size="26" font-weight="bold" text-anchor="middle">PD</text><circle cx="913.2" cy="1348.3" r="4.1" fill="#fff" stroke="#000" stroke-width="1.3"/><circle cx="930.8" cy="1355.9" r="4.1" fill="#fff" stroke="#000" stroke-width="1.3"/><circle cx="913.2" cy="1367.8" r="4.1" fill="#fff" stroke="#000" stroke-width="1.3"/><circle cx="930.8" cy="1374" r="4.1" fill="#fff" stroke="#000" stroke-width="1.3"/><circle cx="948.5" cy="1373.1" r="4.1" fill="#fff" stroke="#000" stroke-width="1.3"/><circle cx="921.7" cy="1383.8" r="4.1" fill="#fff" stroke="#000" stroke-width="1.3"/><circle cx="939.3" cy="1384.5" r="4.1" fill="#fff" stroke="#000" stroke-width="1.3"/><circle cx="921.7" cy="1393.5" r="4.1" fill="#fff" stroke="#000" stroke-width="1.3"/><circle cx="939.3" cy="1395.3" r="4.1" fill="#fff" stroke="#000" stroke-width="1.3"/><circle cx="930.8" cy="1414.3" r="4.1" fill="#fff" stroke="#000" stroke-width="1.3"/><rect x="1008.8" y="1290.8" width="8.2" height="8.2" fill="#fff" stroke="#000" stroke-width="1.3"/><rect x="1008.8" y="1318.5" width="8.2" height="8.2" fill="#fff" stroke="#000" stroke-width="1.3"/><rect x="1008.8" y="1375.1" width="8.2" height="8.2" fill="#fff" stroke="#000" stroke-width="1.3"/><rect x="1017.3" y="1376.7" width="8.2" height="8.2" fill="#fff" stroke="#000" stroke-width="1.3"/><rect x="1026.5" y="1376.7" width="8.2" height="8.2" fill="#fff" stroke="#000" stroke-width="1.3"/><rect x="991.4" y="1382.7" width="8.2" height="8.2" fill="#fff" stroke="#000" stroke-width="1.3"/><rect x="1008.8" y="1384.3" width="8.2" height="8.2" fill="#fff" stroke="#000" stroke-width="1.3"/><rect x="991.4" y="1392.3" width="8.2" height="8.2" fill="#fff" stroke="#000" stroke-width="1.3"/><rect x="1026.5" y="1389.4" width="8.2" height="8.2" fill="#fff" stroke="#000" stroke-width="1.3"/><rect x="1008.8" y="1402" width="8.2" height="8.2" fill="#fff" stroke="#000" stroke-width="1.3"/><rect x="1000.1" y="1419.2" width="8.2" height="8.2" fill="#fff" stroke="#000" stroke-width="1.3"/><rect x="1017.3" y="1422.6" width="8.2" height="8.2" fill="#fff" stroke="#000" stroke-width="1.3"/><rect x="1008.8" y="1470.3" width="8.2" height="8.2" fill="#fff" stroke="#000" stroke-width="1.3"/><text x="972" y="1137.3" font-size="26.5" font-weight="bold" text-anchor="middle">PBMCs</text><text x="972.5" y="1170.6" font-size="26.5" font-weight="bold" text-anchor="middle">TDAG8</text><text x="799.7" y="1374" font-size="26.8" font-weight="bold" text-anchor="middle" transform="rotate(-90 799.7 1374)">RQ value</text><text x="757" y="1143.5" font-size="68" font-weight="bold" stroke="#000" stroke-width="1">f</text><rect x="897.6" y="1959.5" width="53.9" height="71.6" fill="#000"/><rect x="981.5" y="1895.6" width="51.1" height="134.5" fill="#f92400" stroke="#000" stroke-width="2.8"/><path d="M924.4 1959.5V1949M910.1 1949H938.7" stroke="#222" stroke-width="1.2" fill="none"/><path d="M1007.5 1894.2V1877M993.7 1877H1021.3" stroke="#222" stroke-width="1.2" fill="none"/><path d="M869.6 1740V2031.1M857.5 2031.1H1062.2M857.5 1741H869.6M857.5 1813.7H869.6M857.5 1886.2H869.6M857.5 1958.9H869.6M924.4 2031.1V2042.1M1007.2 2031.1V2042.1" stroke="#000" stroke-width="2.2" fill="none"/><text x="854.5" y="1750.4" font-size="26" font-weight="bold" text-anchor="end">4</text><text x="854.5" y="1823.1" font-size="26" font-weight="bold" text-anchor="end">3</text><text x="854.5" y="1895.6" font-size="26" font-weight="bold" text-anchor="end">2</text><text x="854.5" y="1968.3" font-size="26" font-weight="bold" text-anchor="end">1</text><text x="854.5" y="2040.5" font-size="26" font-weight="bold" text-anchor="end">0</text><text x="924.4" y="2071.2" font-size="26" font-weight="bold" text-anchor="middle">HC</text><text x="1007.2" y="2071.2" font-size="26" font-weight="bold" text-anchor="middle">PD</text><circle cx="924.4" cy="1876.3" r="4.1" fill="#fff" stroke="#000" stroke-width="1.3"/><circle cx="907.2" cy="1938.7" r="4.1" fill="#fff" stroke="#000" stroke-width="1.3"/><circle cx="924.4" cy="1943.3" r="4.1" fill="#fff" stroke="#000" stroke-width="1.3"/><circle cx="941.8" cy="1942.8" r="4.1" fill="#fff" stroke="#000" stroke-width="1.3"/><circle cx="907.2" cy="1950.2" r="4.1" fill="#fff" stroke="#000" stroke-width="1.3"/><circle cx="924.4" cy="1956.1" r="4.1" fill="#fff" stroke="#000" stroke-width="1.3"/><circle cx="907.2" cy="1968.5" r="4.1" fill="#fff" stroke="#000" stroke-width="1.3"/><circle cx="941.8" cy="1968" r="4.1" fill="#fff" stroke="#000" stroke-width="1.3"/><circle cx="924.4" cy="1973.1" r="4.1" fill="#fff" stroke="#000" stroke-width="1.3"/><circle cx="924.4" cy="1987.5" r="4.1" fill="#fff" stroke="#000" stroke-width="1.3"/><circle cx="915.9" cy="2003.6" r="4.1" fill="#fff" stroke="#000" stroke-width="1.3"/><circle cx="933.1" cy="2001.3" r="4.1" fill="#fff" stroke="#000" stroke-width="1.3"/><rect x="1003.5" y="1752.3" width="8.2" height="8.2" fill="#fff" stroke="#000" stroke-width="1.3"/><rect x="1003.5" y="1847" width="8.2" height="8.2" fill="#fff" stroke="#000" stroke-width="1.3"/><rect x="985.2" y="1868.8" width="8.2" height="8.2" fill="#fff" stroke="#000" stroke-width="1.3"/><rect x="1003.1" y="1869.5" width="8.2" height="8.2" fill="#fff" stroke="#000" stroke-width="1.3"/><rect x="1021.2" y="1863.5" width="8.2" height="8.2" fill="#fff" stroke="#000" stroke-width="1.3"/><rect x="994.4" y="1888.9" width="8.2" height="8.2" fill="#fff" stroke="#000" stroke-width="1.3"/><rect x="1012" y="1891" width="8.2" height="8.2" fill="#fff" stroke="#000" stroke-width="1.3"/><rect x="1003.1" y="1900.9" width="8.2" height="8.2" fill="#fff" stroke="#000" stroke-width="1.3"/><rect x="1003.1" y="1922" width="8.2" height="8.2" fill="#fff" stroke="#000" stroke-width="1.3"/><rect x="1003.1" y="1948.3" width="8.2" height="8.2" fill="#fff" stroke="#000" stroke-width="1.3"/><rect x="994.4" y="1962.1" width="8.2" height="8.2" fill="#fff" stroke="#000" stroke-width="1.3"/><rect x="1012" y="1957.5" width="8.2" height="8.2" fill="#fff" stroke="#000" stroke-width="1.3"/><text x="966" y="1645.9" font-size="26.5" font-weight="bold" text-anchor="middle">iMGs</text><text x="966.5" y="1679.1" font-size="26.5" font-weight="bold" text-anchor="middle">TDAG8</text><text x="965.8" y="1724.4" font-size="40" font-weight="bold" text-anchor="middle" textLength="33" lengthAdjust="spacingAndGlyphs">**</text><line x1="924" y1="1721.5" x2="1007.7" y2="1721.5" stroke="#555" stroke-width="1.5"/><text x="816.3" y="1882" font-size="26.8" font-weight="bold" text-anchor="middle" transform="rotate(-90 816.3 1882)">RQ value</text><text x="758" y="1664" font-size="68" font-weight="bold" stroke="#000" stroke-width="1">g</text><rect x="939.3" y="2303.5" width="48.6" height="131.2" fill="#000"/><rect x="1015.5" y="2285.1" width="46.3" height="148.6" fill="#f92400" stroke="#000" stroke-width="2.8"/><path d="M914.3 2171.1V2434.7M903.5 2434.7H1088.2M903.5 2172.1H914.3M903.5 2237.6H914.3M903.5 2303.5H914.3M903.5 2369H914.3M963.3 2434.7V2445.7M1038.7 2434.7V2445.7" stroke="#000" stroke-width="2.2" fill="none"/><text x="900.5" y="2180.8" font-size="24.3" font-weight="bold" text-anchor="end">2.0</text><text x="900.5" y="2246.3" font-size="24.3" font-weight="bold" text-anchor="end">1.5</text><text x="900.5" y="2312.2" font-size="24.3" font-weight="bold" text-anchor="end">1.0</text><text x="900.5" y="2377.7" font-size="24.3" font-weight="bold" text-anchor="end">0.5</text><text x="900.5" y="2443.4" font-size="24.3" font-weight="bold" text-anchor="end">0.0</text><text x="963.3" y="2470.1" font-size="24.5" font-weight="bold" text-anchor="middle">HC</text><text x="1038.7" y="2470.1" font-size="24.5" font-weight="bold" text-anchor="middle">PD</text><circle cx="963.9" cy="2194.7" r="3.9" fill="#fff" stroke="#000" stroke-width="1.2"/><circle cx="959" cy="2201.6" r="3.9" fill="#fff" stroke="#000" stroke-width="1.2"/><circle cx="963.9" cy="2206.5" r="3.9" fill="#fff" stroke="#000" stroke-width="1.2"/><circle cx="960" cy="2233.1" r="3.9" fill="#fff" stroke="#000" stroke-width="1.2"/><circle cx="966.9" cy="2233.7" r="3.9" fill="#fff" stroke="#000" stroke-width="1.2"/><circle cx="963.9" cy="2239.6" r="3.9" fill="#fff" stroke="#000" stroke-width="1.2"/><circle cx="963.9" cy="2250.8" r="3.9" fill="#fff" stroke="#000" stroke-width="1.2"/><circle cx="971.8" cy="2259.7" r="3.9" fill="#fff" stroke="#000" stroke-width="1.2"/><circle cx="963.9" cy="2262.6" r="3.9" fill="#fff" stroke="#000" stroke-width="1.2"/><circle cx="955.1" cy="2266.5" r="3.9" fill="#fff" stroke="#000" stroke-width="1.2"/><circle cx="965.9" cy="2269.5" r="3.9" fill="#fff" stroke="#000" stroke-width="1.2"/><circle cx="959" cy="2272.4" r="3.9" fill="#fff" stroke="#000" stroke-width="1.2"/><circle cx="971.8" cy="2272.4" r="3.9" fill="#fff" stroke="#000" stroke-width="1.2"/><circle cx="950.1" cy="2279.3" r="3.9" fill="#fff" stroke="#000" stroke-width="1.2"/><circle cx="967.8" cy="2281.3" r="3.9" fill="#fff" stroke="#000" stroke-width="1.2"/><circle cx="975.7" cy="2284.2" r="3.9" fill="#fff" stroke="#000" stroke-width="1.2"/><circle cx="943.3" cy="2288.2" r="3.9" fill="#fff" stroke="#000" stroke-width="1.2"/><circle cx="984.6" cy="2288.8" r="3.9" fill="#fff" stroke="#000" stroke-width="1.2"/><circle cx="953.1" cy="2291.1" r="3.9" fill="#fff" stroke="#000" stroke-width="1.2"/><circle cx="961" cy="2290.1" r="3.9" fill="#fff" stroke="#000" stroke-width="1.2"/><circle cx="978.7" cy="2293.1" r="3.9" fill="#fff" stroke="#000" stroke-width="1.2"/><circle cx="947.2" cy="2299" r="3.9" fill="#fff" stroke="#000" stroke-width="1.2"/><circle cx="957" cy="2298" r="3.9" fill="#fff" stroke="#000" stroke-width="1.2"/><circle cx="966.9" cy="2297" r="3.9" fill="#fff" stroke="#000" stroke-width="1.2"/><circle cx="973.7" cy="2300" r="3.9" fill="#fff" stroke="#000" stroke-width="1.2"/><circle cx="980.6" cy="2301" r="3.9" fill="#fff" stroke="#000" stroke-width="1.2"/><circle cx="942.3" cy="2309.8" r="3.9" fill="#fff" stroke="#000" stroke-width="1.2"/><circle cx="950.1" cy="2309.8" r="3.9" fill="#fff" stroke="#000" stroke-width="1.2"/><circle cx="963.9" cy="2306.9" r="3.9" fill="#fff" stroke="#000" stroke-width="1.2"/><circle cx="976.7" cy="2308.8" r="3.9" fill="#fff" stroke="#000" stroke-width="1.2"/><circle cx="984.6" cy="2309.8" r="3.9" fill="#fff" stroke="#000" stroke-width="1.2"/><circle cx="955.1" cy="2315.7" r="3.9" fill="#fff" stroke="#000" stroke-width="1.2"/><circle cx="966.9" cy="2314.7" r="3.9" fill="#fff" stroke="#000" stroke-width="1.2"/><circle cx="976.7" cy="2315.7" r="3.9" fill="#fff" stroke="#000" stroke-width="1.2"/><circle cx="947.2" cy="2320.6" r="3.9" fill="#fff" stroke="#000" stroke-width="1.2"/><circle cx="970.8" cy="2320.6" r="3.9" fill="#fff" stroke="#000" stroke-width="1.2"/><circle cx="955.1" cy="2325.5" r="3.9" fill="#fff" stroke="#000" stroke-width="1.2"/><circle cx="963.9" cy="2325.5" r="3.9" fill="#fff" stroke="#000" stroke-width="1.2"/><circle cx="973.7" cy="2324.6" r="3.9" fill="#fff" stroke="#000" stroke-width="1.2"/><circle cx="976.7" cy="2329.5" r="3.9" fill="#fff" stroke="#000" stroke-width="1.2"/><circle cx="954.1" cy="2341.3" r="3.9" fill="#fff" stroke="#000" stroke-width="1.2"/><circle cx="963.9" cy="2342.3" r="3.9" fill="#fff" stroke="#000" stroke-width="1.2"/><circle cx="971.8" cy="2342.3" r="3.9" fill="#fff" stroke="#000" stroke-width="1.2"/><circle cx="959" cy="2346.2" r="3.9" fill="#fff" stroke="#000" stroke-width="1.2"/><circle cx="965.9" cy="2349.2" r="3.9" fill="#fff" stroke="#000" stroke-width="1.2"/><circle cx="959" cy="2357" r="3.9" fill="#fff" stroke="#000" stroke-width="1.2"/><circle cx="967.8" cy="2358" r="3.9" fill="#fff" stroke="#000" stroke-width="1.2"/><circle cx="963.9" cy="2361.5" r="3.9" fill="#fff" stroke="#000" stroke-width="1.2"/><circle cx="966.9" cy="2370.8" r="3.9" fill="#fff" stroke="#000" stroke-width="1.2"/><circle cx="959" cy="2373.7" r="3.9" fill="#fff" stroke="#000" stroke-width="1.2"/><circle cx="963.9" cy="2375.7" r="3.9" fill="#fff" stroke="#000" stroke-width="1.2"/><circle cx="967.8" cy="2379.6" r="3.9" fill="#fff" stroke="#000" stroke-width="1.2"/><circle cx="959" cy="2384.6" r="3.9" fill="#fff" stroke="#000" stroke-width="1.2"/><rect x="1012.5" y="2280.3" width="7.4" height="7.4" fill="#fff" stroke="#000" stroke-width="1.1"/><rect x="1043.6" y="2284.4" width="7.4" height="7.4" fill="#fff" stroke="#000" stroke-width="1.1"/><rect x="1018.4" y="2288.3" width="7.4" height="7.4" fill="#fff" stroke="#000" stroke-width="1.1"/><rect x="1037.2" y="2299" width="7.4" height="7.4" fill="#fff" stroke="#000" stroke-width="1.1"/><rect x="1033.3" y="2293.4" width="7.4" height="7.4" fill="#fff" stroke="#000" stroke-width="1.1"/><rect x="1018.9" y="2291.6" width="7.4" height="7.4" fill="#fff" stroke="#000" stroke-width="1.1"/><rect x="1042.7" y="2304.1" width="7.4" height="7.4" fill="#fff" stroke="#000" stroke-width="1.1"/><rect x="1030.1" y="2281.4" width="7.4" height="7.4" fill="#fff" stroke="#000" stroke-width="1.1"/><rect x="1022.3" y="2280" width="7.4" height="7.4" fill="#fff" stroke="#000" stroke-width="1.1"/><rect x="1025.7" y="2307.4" width="7.4" height="7.4" fill="#fff" stroke="#000" stroke-width="1.1"/><rect x="1027.7" y="2292.2" width="7.4" height="7.4" fill="#fff" stroke="#000" stroke-width="1.1"/><rect x="1022.8" y="2275.4" width="7.4" height="7.4" fill="#fff" stroke="#000" stroke-width="1.1"/><rect x="1035" y="2257.9" width="7.4" height="7.4" fill="#fff" stroke="#000" stroke-width="1.1"/><rect x="1054.8" y="2291.6" width="7.4" height="7.4" fill="#fff" stroke="#000" stroke-width="1.1"/><rect x="1054.5" y="2284.7" width="7.4" height="7.4" fill="#fff" stroke="#000" stroke-width="1.1"/><rect x="1031.3" y="2307.1" width="7.4" height="7.4" fill="#fff" stroke="#000" stroke-width="1.1"/><rect x="1049.6" y="2301.2" width="7.4" height="7.4" fill="#fff" stroke="#000" stroke-width="1.1"/><rect x="1025.2" y="2296.1" width="7.4" height="7.4" fill="#fff" stroke="#000" stroke-width="1.1"/><rect x="1053.8" y="2280.3" width="7.4" height="7.4" fill="#fff" stroke="#000" stroke-width="1.1"/><rect x="1039.5" y="2285.2" width="7.4" height="7.4" fill="#fff" stroke="#000" stroke-width="1.1"/><rect x="1025.2" y="2279.5" width="7.4" height="7.4" fill="#fff" stroke="#000" stroke-width="1.1"/><rect x="1040.8" y="2299.2" width="7.4" height="7.4" fill="#fff" stroke="#000" stroke-width="1.1"/><rect x="1024" y="2293.4" width="7.4" height="7.4" fill="#fff" stroke="#000" stroke-width="1.1"/><rect x="1052.2" y="2291.4" width="7.4" height="7.4" fill="#fff" stroke="#000" stroke-width="1.1"/><rect x="1018" y="2279.3" width="7.4" height="7.4" fill="#fff" stroke="#000" stroke-width="1.1"/><rect x="1023.4" y="2303.2" width="7.4" height="7.4" fill="#fff" stroke="#000" stroke-width="1.1"/><rect x="1054.5" y="2297.1" width="7.4" height="7.4" fill="#fff" stroke="#000" stroke-width="1.1"/><rect x="1034.4" y="2280.8" width="7.4" height="7.4" fill="#fff" stroke="#000" stroke-width="1.1"/><rect x="1035.9" y="2271.7" width="7.4" height="7.4" fill="#fff" stroke="#000" stroke-width="1.1"/><rect x="1040" y="2280.2" width="7.4" height="7.4" fill="#fff" stroke="#000" stroke-width="1.1"/><rect x="1024" y="2289.6" width="7.4" height="7.4" fill="#fff" stroke="#000" stroke-width="1.1"/><rect x="1027.9" y="2299" width="7.4" height="7.4" fill="#fff" stroke="#000" stroke-width="1.1"/><rect x="1033.9" y="2276.4" width="7.4" height="7.4" fill="#fff" stroke="#000" stroke-width="1.1"/><rect x="1033" y="2251" width="7.4" height="7.4" fill="#fff" stroke="#000" stroke-width="1.1"/><rect x="1029.7" y="2276.6" width="7.4" height="7.4" fill="#fff" stroke="#000" stroke-width="1.1"/><rect x="1013.8" y="2288.7" width="7.4" height="7.4" fill="#fff" stroke="#000" stroke-width="1.1"/><rect x="1045.4" y="2299.8" width="7.4" height="7.4" fill="#fff" stroke="#000" stroke-width="1.1"/><rect x="1030.6" y="2296.5" width="7.4" height="7.4" fill="#fff" stroke="#000" stroke-width="1.1"/><rect x="1019.9" y="2299.9" width="7.4" height="7.4" fill="#fff" stroke="#000" stroke-width="1.1"/><rect x="1032.6" y="2299.3" width="7.4" height="7.4" fill="#fff" stroke="#000" stroke-width="1.1"/><rect x="1029.1" y="2314.3" width="7.4" height="7.4" fill="#fff" stroke="#000" stroke-width="1.1"/><rect x="1041.6" y="2292.1" width="7.4" height="7.4" fill="#fff" stroke="#000" stroke-width="1.1"/><rect x="1044.4" y="2279.3" width="7.4" height="7.4" fill="#fff" stroke="#000" stroke-width="1.1"/><rect x="1032" y="2289" width="7.4" height="7.4" fill="#fff" stroke="#000" stroke-width="1.1"/><rect x="1020.2" y="2284.7" width="7.4" height="7.4" fill="#fff" stroke="#000" stroke-width="1.1"/><rect x="1043.1" y="2277.5" width="7.4" height="7.4" fill="#fff" stroke="#000" stroke-width="1.1"/><rect x="1043.9" y="2306.8" width="7.4" height="7.4" fill="#fff" stroke="#000" stroke-width="1.1"/><rect x="1046.6" y="2275.8" width="7.4" height="7.4" fill="#fff" stroke="#000" stroke-width="1.1"/><rect x="1039.4" y="2307.1" width="7.4" height="7.4" fill="#fff" stroke="#000" stroke-width="1.1"/><rect x="1038.7" y="2305.5" width="7.4" height="7.4" fill="#fff" stroke="#000" stroke-width="1.1"/><rect x="1026.7" y="2276.2" width="7.4" height="7.4" fill="#fff" stroke="#000" stroke-width="1.1"/><rect x="1043.6" y="2287.8" width="7.4" height="7.4" fill="#fff" stroke="#000" stroke-width="1.1"/><rect x="1017.8" y="2275.6" width="7.4" height="7.4" fill="#fff" stroke="#000" stroke-width="1.1"/><rect x="1016.6" y="2296.2" width="7.4" height="7.4" fill="#fff" stroke="#000" stroke-width="1.1"/><rect x="1031.2" y="2317.7" width="7.4" height="7.4" fill="#fff" stroke="#000" stroke-width="1.1"/><rect x="1047.8" y="2279.7" width="7.4" height="7.4" fill="#fff" stroke="#000" stroke-width="1.1"/><rect x="1038.3" y="2289.8" width="7.4" height="7.4" fill="#fff" stroke="#000" stroke-width="1.1"/><rect x="1039" y="2317.7" width="7.4" height="7.4" fill="#fff" stroke="#000" stroke-width="1.1"/><rect x="1036.9" y="2244.2" width="7.4" height="7.4" fill="#fff" stroke="#000" stroke-width="1.1"/><rect x="1046.3" y="2293.4" width="7.4" height="7.4" fill="#fff" stroke="#000" stroke-width="1.1"/><rect x="1045" y="2295" width="7.4" height="7.4" fill="#fff" stroke="#000" stroke-width="1.1"/><rect x="1027.5" y="2303.7" width="7.4" height="7.4" fill="#fff" stroke="#000" stroke-width="1.1"/><rect x="1028" y="2288.9" width="7.4" height="7.4" fill="#fff" stroke="#000" stroke-width="1.1"/><rect x="1040" y="2296.6" width="7.4" height="7.4" fill="#fff" stroke="#000" stroke-width="1.1"/><rect x="1016.8" y="2285" width="7.4" height="7.4" fill="#fff" stroke="#000" stroke-width="1.1"/><rect x="1047.5" y="2288.9" width="7.4" height="7.4" fill="#fff" stroke="#000" stroke-width="1.1"/><rect x="1035.8" y="2313.5" width="7.4" height="7.4" fill="#fff" stroke="#000" stroke-width="1.1"/><rect x="1046.8" y="2303" width="7.4" height="7.4" fill="#fff" stroke="#000" stroke-width="1.1"/><rect x="1040.3" y="2312.6" width="7.4" height="7.4" fill="#fff" stroke="#000" stroke-width="1.1"/><rect x="1052" y="2277.8" width="7.4" height="7.4" fill="#fff" stroke="#000" stroke-width="1.1"/><rect x="1025.6" y="2285.5" width="7.4" height="7.4" fill="#fff" stroke="#000" stroke-width="1.1"/><rect x="1038.1" y="2275.5" width="7.4" height="7.4" fill="#fff" stroke="#000" stroke-width="1.1"/><rect x="1014.2" y="2293.1" width="7.4" height="7.4" fill="#fff" stroke="#000" stroke-width="1.1"/><rect x="1032.7" y="2303.1" width="7.4" height="7.4" fill="#fff" stroke="#000" stroke-width="1.1"/><rect x="1022" y="2295.6" width="7.4" height="7.4" fill="#fff" stroke="#000" stroke-width="1.1"/><rect x="1051.5" y="2288.3" width="7.4" height="7.4" fill="#fff" stroke="#000" stroke-width="1.1"/><rect x="1034.6" y="2322.1" width="7.4" height="7.4" fill="#fff" stroke="#000" stroke-width="1.1"/><rect x="1048" y="2284.9" width="7.4" height="7.4" fill="#fff" stroke="#000" stroke-width="1.1"/><rect x="1036.5" y="2296.8" width="7.4" height="7.4" fill="#fff" stroke="#000" stroke-width="1.1"/><rect x="1059.4" y="2284" width="7.4" height="7.4" fill="#fff" stroke="#000" stroke-width="1.1"/><rect x="1033.8" y="2309.3" width="7.4" height="7.4" fill="#fff" stroke="#000" stroke-width="1.1"/><rect x="1034" y="2264.8" width="7.4" height="7.4" fill="#fff" stroke="#000" stroke-width="1.1"/><rect x="1056.8" y="2287.4" width="7.4" height="7.4" fill="#fff" stroke="#000" stroke-width="1.1"/><rect x="1050" y="2297" width="7.4" height="7.4" fill="#fff" stroke="#000" stroke-width="1.1"/><rect x="1023.6" y="2300.6" width="7.4" height="7.4" fill="#fff" stroke="#000" stroke-width="1.1"/><rect x="1011.2" y="2283.9" width="7.4" height="7.4" fill="#fff" stroke="#000" stroke-width="1.1"/><rect x="1030.8" y="2283.9" width="7.4" height="7.4" fill="#fff" stroke="#000" stroke-width="1.1"/><rect x="1038.4" y="2293.3" width="7.4" height="7.4" fill="#fff" stroke="#000" stroke-width="1.1"/><rect x="1036.1" y="2283.4" width="7.4" height="7.4" fill="#fff" stroke="#000" stroke-width="1.1"/><rect x="1057.5" y="2280.8" width="7.4" height="7.4" fill="#fff" stroke="#000" stroke-width="1.1"/><text x="1001.3" y="2164.8" font-size="38" font-weight="bold" text-anchor="middle">*</text><line x1="963.3" y1="2162.9" x2="1039" y2="2162.9" stroke="#333" stroke-width="1.5"/><text x="816.4" y="2304" font-size="24.5" font-weight="bold" text-anchor="middle" transform="rotate(-90 816.4 2304)">MFI of TDAG8</text><text x="846" y="2303.5" font-size="24.5" font-weight="bold" text-anchor="middle" transform="rotate(-90 846 2303.5)">(Normalized to HC)</text></g>
<g id="ph"><path d="M1375.4 1257.1C1378.5 1259.1 1387 1265.2 1393.6 1268.9C1400.1 1272.6 1405.5 1276.7 1414.7 1279.4C1423.8 1282.2 1437.1 1285.1 1448.4 1285.3C1459.6 1285.5 1471.6 1284 1482.1 1280.7C1492.7 1277.4 1501.1 1271.9 1511.6 1265.5C1522.2 1259.1 1533.8 1250.9 1545.4 1242.3C1557 1233.8 1575.2 1218.8 1581.2 1214.1" stroke="#e6322c" stroke-width="1.5" fill="none" stroke-dasharray="3.4 1.8"/><path d="M1375.4 1402.6C1378.5 1400.7 1387 1394.9 1393.6 1391.2C1400.1 1387.4 1405.5 1383 1414.7 1380.2C1423.8 1377.4 1437.1 1374.6 1448.4 1374.3C1459.6 1374 1471.6 1375.2 1482.1 1378.5C1492.7 1381.8 1501.1 1387.7 1511.6 1394.1C1522.2 1400.6 1533.8 1408.7 1545.4 1417.3C1557 1426 1575.2 1441.2 1581.2 1446" stroke="#e6322c" stroke-width="1.5" fill="none" stroke-dasharray="3.4 1.8"/><path d="M1375.4 1297.1C1379.9 1299.7 1393.4 1308.5 1402 1312.7C1410.7 1317 1417.5 1320.1 1427.3 1322.4C1437.1 1324.8 1449.8 1326.4 1461 1326.7C1472.3 1326.9 1483.5 1325.5 1494.8 1323.7C1506 1322 1514.1 1319.7 1528.5 1316.1C1542.9 1312.5 1572.4 1304.5 1581.2 1302.2" stroke="#d6b922" stroke-width="1.5" fill="none" stroke-dasharray="3.4 1.8"/><path d="M1375.4 1394.1C1378.5 1392.9 1387 1389 1393.6 1387C1400.1 1384.9 1407.6 1383 1414.7 1381.9C1421.7 1380.8 1426.6 1379.8 1435.7 1380.2C1444.9 1380.6 1456.8 1380.5 1469.5 1384.4C1482.1 1388.4 1497.6 1396.2 1511.6 1403.8C1525.7 1411.4 1542.2 1422.8 1553.8 1430C1565.4 1437.1 1576.6 1444 1581.2 1446.8" stroke="#d6b922" stroke-width="1.5" fill="none" stroke-dasharray="3.4 1.8"/><line x1="1375.4" y1="1329.6" x2="1581.2" y2="1329.6" stroke="#e6322c" stroke-width="1.5"/><line x1="1375.4" y1="1342.3" x2="1581.2" y2="1373.9" stroke="#d6b922" stroke-width="1.5"/><path d="M1227 1191.6V1490M1216 1430H1675M1216 1192.6H1227M1216 1251.6H1227M1216 1311H1227M1216 1370.5H1227M1216 1489H1227M1338.8 1430V1439M1449.7 1430V1439M1561.4 1430V1439M1674 1430V1439" stroke="#000" stroke-width="2" fill="none"/><circle cx="1407.5" cy="1292.9" r="4.4" fill="none" stroke="#d6b922" stroke-width="1.5"/><circle cx="1464.4" cy="1299.3" r="4.4" fill="none" stroke="#d6b922" stroke-width="1.5"/><circle cx="1427.3" cy="1311.1" r="4.4" fill="none" stroke="#d6b922" stroke-width="1.5"/><circle cx="1435.7" cy="1311.1" r="4.4" fill="none" stroke="#d6b922" stroke-width="1.5"/><circle cx="1449.7" cy="1346.5" r="4.4" fill="none" stroke="#d6b922" stroke-width="1.5"/><circle cx="1423.1" cy="1352.8" r="4.4" fill="none" stroke="#d6b922" stroke-width="1.5"/><circle cx="1446.3" cy="1352.8" r="4.4" fill="none" stroke="#d6b922" stroke-width="1.5"/><circle cx="1380.9" cy="1387.8" r="4.4" fill="none" stroke="#d6b922" stroke-width="1.5"/><circle cx="1375.4" cy="1394.1" r="4.4" fill="none" stroke="#d6b922" stroke-width="1.5"/><circle cx="1437" cy="1400.4" r="4.4" fill="none" stroke="#d6b922" stroke-width="1.5"/><circle cx="1536.9" cy="1418.2" r="4.4" fill="none" stroke="#d6b922" stroke-width="1.5"/><circle cx="1580.4" cy="1376.4" r="4.4" fill="none" stroke="#d6b922" stroke-width="1.5"/><rect x="1459.8" y="1211.6" width="8.4" height="8.4" fill="none" stroke="#e6322c" stroke-width="1.5"/><rect x="1430.7" y="1241.1" width="8.4" height="8.4" fill="none" stroke="#e6322c" stroke-width="1.5"/><rect x="1445.5" y="1247.4" width="8.4" height="8.4" fill="none" stroke="#e6322c" stroke-width="1.5"/><rect x="1423.1" y="1283.2" width="8.4" height="8.4" fill="none" stroke="#e6322c" stroke-width="1.5"/><rect x="1442.1" y="1312.8" width="8.4" height="8.4" fill="none" stroke="#e6322c" stroke-width="1.5"/><rect x="1418.9" y="1324.6" width="8.4" height="8.4" fill="none" stroke="#e6322c" stroke-width="1.5"/><rect x="1376.7" y="1360.4" width="8.4" height="8.4" fill="none" stroke="#e6322c" stroke-width="1.5"/><rect x="1403.3" y="1372.2" width="8.4" height="8.4" fill="none" stroke="#e6322c" stroke-width="1.5"/><rect x="1371.2" y="1396.2" width="8.4" height="8.4" fill="none" stroke="#e6322c" stroke-width="1.5"/><rect x="1432.8" y="1414" width="8.4" height="8.4" fill="none" stroke="#e6322c" stroke-width="1.5"/><rect x="1532.7" y="1378.1" width="8.4" height="8.4" fill="none" stroke="#e6322c" stroke-width="1.5"/><rect x="1576.2" y="1365.9" width="8.4" height="8.4" fill="none" stroke="#e6322c" stroke-width="1.5"/><text x="1213.5" y="1200.1" font-size="21" font-weight="bold" text-anchor="end">40</text><text x="1213.5" y="1259.1" font-size="21" font-weight="bold" text-anchor="end">30</text><text x="1213.5" y="1318.5" font-size="21" font-weight="bold" text-anchor="end">20</text><text x="1213.5" y="1378" font-size="21" font-weight="bold" text-anchor="end">10</text><text x="1213.5" y="1437.5" font-size="21" font-weight="bold" text-anchor="end">0</text><text x="1213.5" y="1496.5" font-size="21" font-weight="bold" text-anchor="end">-10</text><text x="1338.8" y="1464.8" font-size="21" font-weight="bold" text-anchor="middle">0.5</text><text x="1449.7" y="1464.8" font-size="21" font-weight="bold" text-anchor="middle">1.0</text><text x="1561.4" y="1464.8" font-size="21" font-weight="bold" text-anchor="middle">1.5</text><text x="1674" y="1464.8" font-size="21" font-weight="bold" text-anchor="middle">2.0</text><text x="1421" y="1142.4" font-size="46.3" text-anchor="middle" textLength="163" lengthAdjust="spacingAndGlyphs">PBMCs</text><text x="1450" y="1500.8" font-size="24" font-weight="bold" text-anchor="middle">TDAG8 expression</text><text x="1129.5" y="1341.5" font-size="24" font-weight="bold" text-anchor="middle" transform="rotate(-90 1129.5 1341.5)">PDSS and ASI-R-FRS</text><text x="1158.5" y="1340.5" font-size="24" font-weight="bold" text-anchor="middle" transform="rotate(-90 1158.5 1340.5)">score</text><text x="1254.4" y="1537.5" font-size="19.7" textLength="150.5" lengthAdjust="spacingAndGlyphs" xml:space="preserve">PDSS vs.  TDAG8</text><text x="1254.4" y="1562.8" font-size="19.7" xml:space="preserve">Spearman r : -0.2181</text><text x="1254.4" y="1585" font-size="19.7" xml:space="preserve">p-val : 0.4958</text><text x="1478.8" y="1537.5" font-size="19.7" textLength="194" lengthAdjust="spacingAndGlyphs" xml:space="preserve">ASI-R-FRS vs.  TDAG8</text><text x="1478.8" y="1562.8" font-size="19.7" xml:space="preserve">Spearman r : 0.0006418</text><text x="1478.8" y="1585" font-size="19.7" xml:space="preserve">p-val : 0.9984</text><line x1="1560" y1="1121.3" x2="1593.9" y2="1121.3" stroke="#d6b922" stroke-width="1.5"/><circle cx="1577" cy="1121.3" r="4.1" fill="#fff" stroke="#d6b922" stroke-width="1.3"/><line x1="1560" y1="1166.4" x2="1593.9" y2="1166.4" stroke="#e6322c" stroke-width="1.5"/><rect x="1573.1" y="1162.5" width="7.8" height="7.8" fill="#fff" stroke="#e6322c" stroke-width="1.3"/><text x="1612.8" y="1130" font-size="25.5">PDSS</text><text x="1612.8" y="1175.2" font-size="25.5">ASI-R-FRS</text><text x="1120" y="1136.9" font-size="68" font-weight="bold" textLength="44" lengthAdjust="spacingAndGlyphs" stroke="#000" stroke-width="1">h</text><path d="M1348.9 1797.3C1354.9 1800.3 1372.1 1809.1 1385.1 1815C1398.2 1820.9 1413.3 1827.5 1427.3 1832.7C1441.4 1838 1455.4 1843.3 1469.5 1846.7C1483.5 1850 1497.6 1851.4 1511.6 1853C1525.7 1854.6 1533.4 1855.2 1553.8 1856.4C1574.2 1857.6 1620.6 1859.5 1633.9 1860.2" stroke="#e6322c" stroke-width="1.5" fill="none" stroke-dasharray="3.4 1.8"/><path d="M1348.9 1869C1354.9 1869.5 1372.1 1870.3 1385.1 1872C1398.2 1873.6 1413.3 1875.3 1427.3 1879.1C1441.4 1883 1455.4 1889 1469.5 1895.1C1483.5 1901.3 1497.6 1909.2 1511.6 1916.2C1525.7 1923.3 1533.4 1927.5 1553.8 1937.3C1574.2 1947.1 1620.6 1968.9 1633.9 1975.3" stroke="#e6322c" stroke-width="1.5" fill="none" stroke-dasharray="3.4 1.8"/><path d="M1348.9 1843.7C1354.9 1845.3 1372.1 1850 1385.1 1853C1398.2 1855.9 1409.7 1859 1427.3 1861.4C1444.9 1863.9 1469.5 1866.9 1490.6 1867.7C1511.6 1868.6 1529.9 1867.5 1553.8 1866.5C1577.7 1865.4 1620.6 1862.3 1633.9 1861.4" stroke="#d6b922" stroke-width="1.5" fill="none" stroke-dasharray="3.4 1.8"/><path d="M1348.9 1890.9C1354.9 1890.8 1372.1 1890.1 1385.1 1890.1C1398.2 1890.1 1413.3 1890.1 1427.3 1890.9C1441.4 1891.8 1455.4 1893 1469.5 1895.1C1483.5 1897.3 1497.6 1900.4 1511.6 1903.6C1525.7 1906.7 1533.3 1908.5 1553.8 1914.1C1574.3 1919.7 1621.3 1933.4 1634.8 1937.3" stroke="#d6b922" stroke-width="1.5" fill="none" stroke-dasharray="3.4 1.8"/><line x1="1348.9" y1="1833.2" x2="1633.9" y2="1918.3" stroke="#e6322c" stroke-width="1.5"/><line x1="1348.9" y1="1868.2" x2="1634.8" y2="1899.8" stroke="#d6b922" stroke-width="1.5"/><path d="M1260.3 1735.2V2040.3M1249.3 1917.9H1716.3M1249.3 1736.2H1260.3M1249.3 1796.9H1260.3M1249.3 1857.2H1260.3M1249.3 1978.6H1260.3M1249.3 2039.3H1260.3M1351.4 1917.9V1926.9M1442.1 1917.9V1926.9M1532.7 1917.9V1926.9M1623.8 1917.9V1926.9M1715.3 1917.9V1926.9" stroke="#000" stroke-width="2" fill="none"/><circle cx="1348.9" cy="1857.2" r="4.4" fill="none" stroke="#d6b922" stroke-width="1.5"/><circle cx="1354.8" cy="1851.7" r="4.4" fill="none" stroke="#d6b922" stroke-width="1.5"/><circle cx="1367.4" cy="1848.3" r="4.4" fill="none" stroke="#d6b922" stroke-width="1.5"/><circle cx="1402.9" cy="1875.8" r="4.4" fill="none" stroke="#d6b922" stroke-width="1.5"/><circle cx="1482.5" cy="1848.3" r="4.4" fill="none" stroke="#d6b922" stroke-width="1.5"/><circle cx="1474.5" cy="1878.7" r="4.4" fill="none" stroke="#d6b922" stroke-width="1.5"/><circle cx="1634.8" cy="1878.7" r="4.4" fill="none" stroke="#d6b922" stroke-width="1.5"/><circle cx="1431.9" cy="1896.8" r="4.4" fill="none" stroke="#d6b922" stroke-width="1.5"/><circle cx="1475.8" cy="1899.8" r="4.4" fill="none" stroke="#d6b922" stroke-width="1.5"/><circle cx="1505.3" cy="1902.7" r="4.4" fill="none" stroke="#d6b922" stroke-width="1.5"/><circle cx="1445.4" cy="1912" r="4.4" fill="none" stroke="#d6b922" stroke-width="1.5"/><rect x="1363.2" y="1789.8" width="8.4" height="8.4" fill="none" stroke="#e6322c" stroke-width="1.5"/><rect x="1350.6" y="1805.4" width="8.4" height="8.4" fill="none" stroke="#e6322c" stroke-width="1.5"/><rect x="1344.7" y="1820.1" width="8.4" height="8.4" fill="none" stroke="#e6322c" stroke-width="1.5"/><rect x="1398.7" y="1823.5" width="8.4" height="8.4" fill="none" stroke="#e6322c" stroke-width="1.5"/><rect x="1470.3" y="1862.3" width="8.4" height="8.4" fill="none" stroke="#e6322c" stroke-width="1.5"/><rect x="1630.6" y="1856.4" width="8.4" height="8.4" fill="none" stroke="#e6322c" stroke-width="1.5"/><rect x="1427.7" y="1880.8" width="8.4" height="8.4" fill="none" stroke="#e6322c" stroke-width="1.5"/><rect x="1442.5" y="1883.8" width="8.4" height="8.4" fill="none" stroke="#e6322c" stroke-width="1.5"/><rect x="1441.2" y="1889.7" width="8.4" height="8.4" fill="none" stroke="#e6322c" stroke-width="1.5"/><rect x="1478.3" y="1886.7" width="8.4" height="8.4" fill="none" stroke="#e6322c" stroke-width="1.5"/><rect x="1471.2" y="1898.5" width="8.4" height="8.4" fill="none" stroke="#e6322c" stroke-width="1.5"/><rect x="1501.1" y="1907.8" width="8.4" height="8.4" fill="none" stroke="#e6322c" stroke-width="1.5"/><text x="1246.8" y="1743.7" font-size="21" font-weight="bold" text-anchor="end">60</text><text x="1246.8" y="1804.4" font-size="21" font-weight="bold" text-anchor="end">40</text><text x="1246.8" y="1864.7" font-size="21" font-weight="bold" text-anchor="end">20</text><text x="1246.8" y="1925.4" font-size="21" font-weight="bold" text-anchor="end">0</text><text x="1246.8" y="1986.1" font-size="21" font-weight="bold" text-anchor="end">-20</text><text x="1246.8" y="2046.8" font-size="21" font-weight="bold" text-anchor="end">-40</text><text x="1351.4" y="1952.7" font-size="21" font-weight="bold" text-anchor="middle">1</text><text x="1442.1" y="1952.7" font-size="21" font-weight="bold" text-anchor="middle">2</text><text x="1532.7" y="1952.7" font-size="21" font-weight="bold" text-anchor="middle">3</text><text x="1623.8" y="1952.7" font-size="21" font-weight="bold" text-anchor="middle">4</text><text x="1715.3" y="1952.7" font-size="21" font-weight="bold" text-anchor="middle">5</text><text x="1440.5" y="1689.4" font-size="46.3" text-anchor="middle" textLength="109.5" lengthAdjust="spacingAndGlyphs">iMGs</text><text x="1488" y="2043.6" font-size="24" font-weight="bold" text-anchor="middle">TDAG8 expression</text><text x="1165.5" y="1888.8" font-size="24.5" font-weight="bold" text-anchor="middle" transform="rotate(-90 1165.5 1888.8)">PDSS and ASI-R-FRS</text><text x="1194.5" y="1888.4" font-size="24.5" font-weight="bold" text-anchor="middle" transform="rotate(-90 1194.5 1888.4)">score</text><text x="1284" y="2079.8" font-size="20.7" textLength="157" lengthAdjust="spacingAndGlyphs" xml:space="preserve">PDSS vs.  TDAG8</text><text x="1284" y="2105" font-size="20.7" xml:space="preserve">Spearman r : -0.3965</text><text x="1284" y="2127.5" font-size="20.7" xml:space="preserve">p-val : 0.2013</text><text x="1516.7" y="2079.8" font-size="20.7" textLength="202.5" lengthAdjust="spacingAndGlyphs" xml:space="preserve">ASI-R-FRS vs.  TDAG8</text><text x="1516.7" y="2105" font-size="20.7" xml:space="preserve">Spearman r : -0.6923</text><text x="1516.7" y="2127.5" font-size="20.7" xml:space="preserve">p-val : 0.0155 *</text><text x="1139.5" y="1682.2" font-size="68" font-weight="bold" stroke="#000" stroke-width="1">i</text></g>
</svg>
</body></html>
